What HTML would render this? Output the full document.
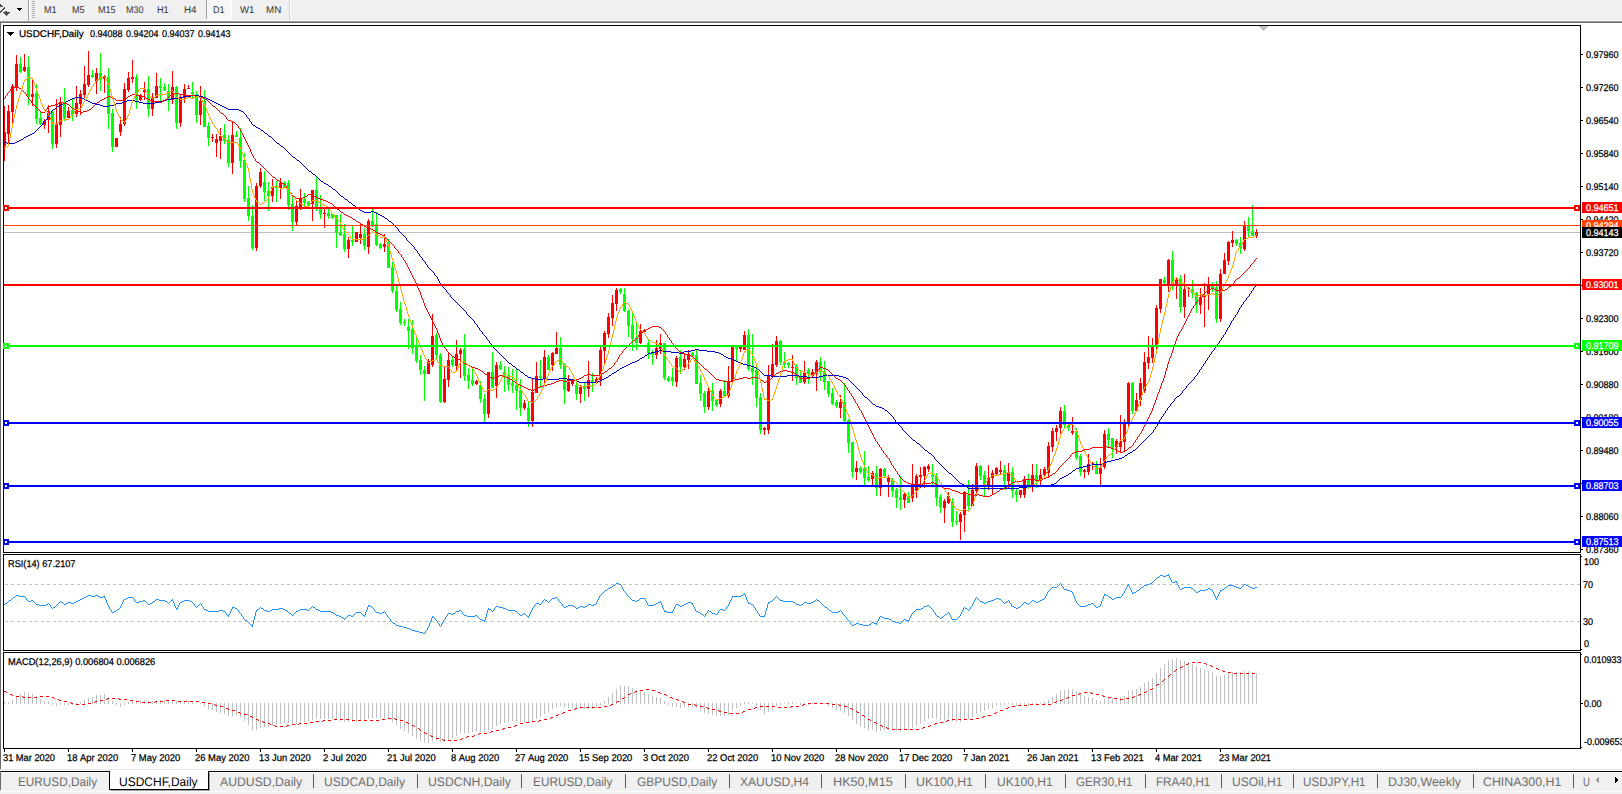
<!DOCTYPE html>
<html><head><meta charset="utf-8"><title>USDCHF,Daily</title>
<style>
html,body{margin:0;padding:0;background:#fff;text-rendering:geometricPrecision;overflow:hidden;}
body{width:1622px;height:794px;overflow:hidden;position:relative;font-family:"Liberation Sans",sans-serif;}
svg{position:absolute;left:0;top:0;}
.t{position:absolute;white-space:nowrap;line-height:1;height:1em;transform-origin:0 0;-webkit-text-stroke:0.25px currentColor;}
.tag{position:absolute;left:1582px;width:40px;}
</style></head><body>
<svg width="1622" height="794" viewBox="0 0 1622 794" shape-rendering="crispEdges">
<rect x="0" y="0" width="1622" height="21" fill="#f0f0f0"/>
<rect x="0" y="21" width="1622" height="1" fill="#a0a0a0"/>
<rect x="0" y="22" width="1622" height="1" fill="#696969"/>
<rect x="0" y="23" width="1" height="746" fill="#696969"/>
<rect x="4" y="232" width="1576" height="1" fill="#c0c0c0"/>
<rect x="4" y="106" width="1" height="55" fill="#ff0000"/>
<rect x="3" y="132" width="3" height="14" fill="#ff0000"/>
<rect x="8" y="105" width="1" height="41" fill="#ff0000"/>
<rect x="7" y="111" width="3" height="23" fill="#ff0000"/>
<rect x="12" y="84" width="1" height="41" fill="#ff0000"/>
<rect x="11" y="86" width="3" height="26" fill="#ff0000"/>
<rect x="16" y="55" width="1" height="36" fill="#ff0000"/>
<rect x="15" y="64" width="3" height="23" fill="#ff0000"/>
<rect x="20" y="57" width="1" height="16" fill="#00ff00"/>
<rect x="19" y="64" width="3" height="8" fill="#00ff00"/>
<rect x="24" y="54" width="1" height="18" fill="#ff0000"/>
<rect x="23" y="67" width="3" height="4" fill="#ff0000"/>
<rect x="28" y="56" width="1" height="49" fill="#00ff00"/>
<rect x="27" y="67" width="3" height="30" fill="#00ff00"/>
<rect x="32" y="79" width="1" height="27" fill="#ff0000"/>
<rect x="31" y="94" width="3" height="3" fill="#ff0000"/>
<rect x="36" y="84" width="1" height="40" fill="#00ff00"/>
<rect x="35" y="93" width="3" height="26" fill="#00ff00"/>
<rect x="40" y="112" width="1" height="13" fill="#00ff00"/>
<rect x="39" y="118" width="3" height="6" fill="#00ff00"/>
<rect x="44" y="119" width="1" height="10" fill="#ff0000"/>
<rect x="43" y="121" width="3" height="4" fill="#ff0000"/>
<rect x="48" y="105" width="1" height="28" fill="#ff0000"/>
<rect x="47" y="111" width="3" height="9" fill="#ff0000"/>
<rect x="52" y="110" width="1" height="39" fill="#00ff00"/>
<rect x="51" y="112" width="3" height="32" fill="#00ff00"/>
<rect x="56" y="99" width="1" height="49" fill="#ff0000"/>
<rect x="55" y="124" width="3" height="20" fill="#ff0000"/>
<rect x="60" y="97" width="1" height="40" fill="#ff0000"/>
<rect x="59" y="102" width="3" height="23" fill="#ff0000"/>
<rect x="64" y="88" width="1" height="33" fill="#00ff00"/>
<rect x="63" y="102" width="3" height="16" fill="#00ff00"/>
<rect x="68" y="107" width="1" height="11" fill="#ff0000"/>
<rect x="67" y="111" width="3" height="7" fill="#ff0000"/>
<rect x="72" y="99" width="1" height="22" fill="#00ff00"/>
<rect x="71" y="110" width="3" height="5" fill="#00ff00"/>
<rect x="76" y="86" width="1" height="31" fill="#ff0000"/>
<rect x="75" y="103" width="3" height="11" fill="#ff0000"/>
<rect x="80" y="90" width="1" height="25" fill="#ff0000"/>
<rect x="79" y="94" width="3" height="10" fill="#ff0000"/>
<rect x="84" y="66" width="1" height="32" fill="#ff0000"/>
<rect x="83" y="84" width="3" height="11" fill="#ff0000"/>
<rect x="88" y="51" width="1" height="36" fill="#ff0000"/>
<rect x="87" y="75" width="3" height="10" fill="#ff0000"/>
<rect x="92" y="70" width="1" height="8" fill="#00ff00"/>
<rect x="91" y="75" width="3" height="2" fill="#00ff00"/>
<rect x="96" y="68" width="1" height="26" fill="#ff0000"/>
<rect x="95" y="73" width="3" height="8" fill="#ff0000"/>
<rect x="100" y="53" width="1" height="38" fill="#00ff00"/>
<rect x="99" y="73" width="3" height="7" fill="#00ff00"/>
<rect x="104" y="75" width="1" height="18" fill="#ff0000"/>
<rect x="103" y="76" width="3" height="3" fill="#ff0000"/>
<rect x="108" y="68" width="1" height="61" fill="#00ff00"/>
<rect x="107" y="77" width="3" height="37" fill="#00ff00"/>
<rect x="112" y="109" width="1" height="43" fill="#00ff00"/>
<rect x="111" y="113" width="3" height="34" fill="#00ff00"/>
<rect x="116" y="138" width="1" height="9" fill="#ff0000"/>
<rect x="115" y="138" width="3" height="9" fill="#ff0000"/>
<rect x="120" y="117" width="1" height="19" fill="#ff0000"/>
<rect x="119" y="124" width="3" height="8" fill="#ff0000"/>
<rect x="124" y="83" width="1" height="43" fill="#ff0000"/>
<rect x="123" y="89" width="3" height="35" fill="#ff0000"/>
<rect x="128" y="72" width="1" height="20" fill="#ff0000"/>
<rect x="127" y="78" width="3" height="12" fill="#ff0000"/>
<rect x="132" y="60" width="1" height="23" fill="#ff0000"/>
<rect x="131" y="77" width="3" height="2" fill="#ff0000"/>
<rect x="136" y="74" width="1" height="35" fill="#00ff00"/>
<rect x="135" y="77" width="3" height="23" fill="#00ff00"/>
<rect x="140" y="94" width="1" height="7" fill="#ff0000"/>
<rect x="139" y="96" width="3" height="4" fill="#ff0000"/>
<rect x="144" y="82" width="1" height="18" fill="#ff0000"/>
<rect x="143" y="90" width="3" height="2" fill="#ff0000"/>
<rect x="148" y="76" width="1" height="41" fill="#00ff00"/>
<rect x="147" y="89" width="3" height="20" fill="#00ff00"/>
<rect x="152" y="93" width="1" height="23" fill="#ff0000"/>
<rect x="151" y="98" width="3" height="11" fill="#ff0000"/>
<rect x="156" y="73" width="1" height="25" fill="#ff0000"/>
<rect x="155" y="86" width="3" height="12" fill="#ff0000"/>
<rect x="160" y="78" width="1" height="25" fill="#00ff00"/>
<rect x="159" y="86" width="3" height="2" fill="#00ff00"/>
<rect x="164" y="83" width="1" height="8" fill="#00ff00"/>
<rect x="163" y="87" width="3" height="3" fill="#00ff00"/>
<rect x="168" y="84" width="1" height="27" fill="#00ff00"/>
<rect x="167" y="91" width="3" height="9" fill="#00ff00"/>
<rect x="172" y="71" width="1" height="33" fill="#ff0000"/>
<rect x="171" y="87" width="3" height="13" fill="#ff0000"/>
<rect x="176" y="86" width="1" height="43" fill="#00ff00"/>
<rect x="175" y="87" width="3" height="36" fill="#00ff00"/>
<rect x="180" y="94" width="1" height="33" fill="#ff0000"/>
<rect x="179" y="98" width="3" height="25" fill="#ff0000"/>
<rect x="184" y="84" width="1" height="19" fill="#ff0000"/>
<rect x="183" y="89" width="3" height="9" fill="#ff0000"/>
<rect x="188" y="85" width="1" height="4" fill="#ff0000"/>
<rect x="187" y="88" width="3" height="1" fill="#ff0000"/>
<rect x="192" y="82" width="1" height="16" fill="#00ff00"/>
<rect x="191" y="92" width="3" height="2" fill="#00ff00"/>
<rect x="196" y="91" width="1" height="32" fill="#00ff00"/>
<rect x="195" y="94" width="3" height="21" fill="#00ff00"/>
<rect x="200" y="86" width="1" height="39" fill="#ff0000"/>
<rect x="199" y="101" width="3" height="14" fill="#ff0000"/>
<rect x="204" y="90" width="1" height="37" fill="#00ff00"/>
<rect x="203" y="101" width="3" height="26" fill="#00ff00"/>
<rect x="208" y="122" width="1" height="24" fill="#00ff00"/>
<rect x="207" y="126" width="3" height="12" fill="#00ff00"/>
<rect x="212" y="134" width="1" height="8" fill="#ff0000"/>
<rect x="211" y="137" width="3" height="1" fill="#ff0000"/>
<rect x="216" y="134" width="1" height="23" fill="#ff0000"/>
<rect x="215" y="139" width="3" height="4" fill="#ff0000"/>
<rect x="220" y="128" width="1" height="31" fill="#ff0000"/>
<rect x="219" y="136" width="3" height="5" fill="#ff0000"/>
<rect x="224" y="124" width="1" height="20" fill="#00ff00"/>
<rect x="223" y="135" width="3" height="6" fill="#00ff00"/>
<rect x="228" y="135" width="1" height="32" fill="#00ff00"/>
<rect x="227" y="140" width="3" height="23" fill="#00ff00"/>
<rect x="232" y="122" width="1" height="52" fill="#ff0000"/>
<rect x="231" y="135" width="3" height="28" fill="#ff0000"/>
<rect x="236" y="131" width="1" height="6" fill="#00ff00"/>
<rect x="235" y="135" width="3" height="2" fill="#00ff00"/>
<rect x="240" y="128" width="1" height="40" fill="#00ff00"/>
<rect x="239" y="138" width="3" height="23" fill="#00ff00"/>
<rect x="244" y="153" width="1" height="49" fill="#00ff00"/>
<rect x="243" y="160" width="3" height="39" fill="#00ff00"/>
<rect x="248" y="186" width="1" height="35" fill="#00ff00"/>
<rect x="247" y="198" width="3" height="18" fill="#00ff00"/>
<rect x="252" y="205" width="1" height="45" fill="#00ff00"/>
<rect x="251" y="216" width="3" height="32" fill="#00ff00"/>
<rect x="256" y="183" width="1" height="68" fill="#ff0000"/>
<rect x="255" y="186" width="3" height="62" fill="#ff0000"/>
<rect x="260" y="168" width="1" height="20" fill="#ff0000"/>
<rect x="259" y="172" width="3" height="14" fill="#ff0000"/>
<rect x="264" y="171" width="1" height="30" fill="#00ff00"/>
<rect x="263" y="182" width="3" height="10" fill="#00ff00"/>
<rect x="268" y="182" width="1" height="29" fill="#00ff00"/>
<rect x="267" y="191" width="3" height="5" fill="#00ff00"/>
<rect x="272" y="179" width="1" height="23" fill="#ff0000"/>
<rect x="271" y="187" width="3" height="9" fill="#ff0000"/>
<rect x="276" y="181" width="1" height="21" fill="#00ff00"/>
<rect x="275" y="186" width="3" height="2" fill="#00ff00"/>
<rect x="280" y="178" width="1" height="21" fill="#ff0000"/>
<rect x="279" y="183" width="3" height="5" fill="#ff0000"/>
<rect x="284" y="181" width="1" height="6" fill="#00ff00"/>
<rect x="283" y="183" width="3" height="4" fill="#00ff00"/>
<rect x="288" y="180" width="1" height="30" fill="#00ff00"/>
<rect x="287" y="183" width="3" height="22" fill="#00ff00"/>
<rect x="292" y="197" width="1" height="34" fill="#00ff00"/>
<rect x="291" y="204" width="3" height="18" fill="#00ff00"/>
<rect x="296" y="201" width="1" height="24" fill="#ff0000"/>
<rect x="295" y="206" width="3" height="16" fill="#ff0000"/>
<rect x="300" y="189" width="1" height="21" fill="#ff0000"/>
<rect x="299" y="198" width="3" height="9" fill="#ff0000"/>
<rect x="304" y="193" width="1" height="13" fill="#00ff00"/>
<rect x="303" y="199" width="3" height="4" fill="#00ff00"/>
<rect x="308" y="201" width="1" height="5" fill="#00ff00"/>
<rect x="307" y="202" width="3" height="3" fill="#00ff00"/>
<rect x="312" y="190" width="1" height="31" fill="#ff0000"/>
<rect x="311" y="190" width="3" height="14" fill="#ff0000"/>
<rect x="316" y="177" width="1" height="34" fill="#00ff00"/>
<rect x="315" y="190" width="3" height="17" fill="#00ff00"/>
<rect x="320" y="195" width="1" height="24" fill="#00ff00"/>
<rect x="319" y="208" width="3" height="6" fill="#00ff00"/>
<rect x="324" y="208" width="1" height="20" fill="#ff0000"/>
<rect x="323" y="213" width="3" height="1" fill="#ff0000"/>
<rect x="328" y="209" width="1" height="10" fill="#00ff00"/>
<rect x="327" y="213" width="3" height="3" fill="#00ff00"/>
<rect x="332" y="213" width="1" height="6" fill="#00ff00"/>
<rect x="331" y="214" width="3" height="4" fill="#00ff00"/>
<rect x="336" y="215" width="1" height="33" fill="#00ff00"/>
<rect x="335" y="215" width="3" height="18" fill="#00ff00"/>
<rect x="340" y="214" width="1" height="22" fill="#00ff00"/>
<rect x="339" y="232" width="3" height="3" fill="#00ff00"/>
<rect x="344" y="224" width="1" height="28" fill="#00ff00"/>
<rect x="343" y="234" width="3" height="15" fill="#00ff00"/>
<rect x="348" y="237" width="1" height="21" fill="#ff0000"/>
<rect x="347" y="240" width="3" height="9" fill="#ff0000"/>
<rect x="352" y="225" width="1" height="21" fill="#00ff00"/>
<rect x="351" y="240" width="3" height="2" fill="#00ff00"/>
<rect x="356" y="232" width="1" height="10" fill="#ff0000"/>
<rect x="355" y="232" width="3" height="10" fill="#ff0000"/>
<rect x="360" y="223" width="1" height="21" fill="#ff0000"/>
<rect x="359" y="234" width="3" height="4" fill="#ff0000"/>
<rect x="364" y="228" width="1" height="22" fill="#00ff00"/>
<rect x="363" y="234" width="3" height="12" fill="#00ff00"/>
<rect x="368" y="219" width="1" height="35" fill="#ff0000"/>
<rect x="367" y="221" width="3" height="26" fill="#ff0000"/>
<rect x="372" y="209" width="1" height="18" fill="#00ff00"/>
<rect x="371" y="221" width="3" height="5" fill="#00ff00"/>
<rect x="376" y="212" width="1" height="34" fill="#00ff00"/>
<rect x="375" y="224" width="3" height="21" fill="#00ff00"/>
<rect x="380" y="243" width="1" height="6" fill="#00ff00"/>
<rect x="379" y="244" width="3" height="4" fill="#00ff00"/>
<rect x="384" y="234" width="1" height="18" fill="#ff0000"/>
<rect x="383" y="244" width="3" height="3" fill="#ff0000"/>
<rect x="388" y="239" width="1" height="29" fill="#00ff00"/>
<rect x="387" y="243" width="3" height="25" fill="#00ff00"/>
<rect x="392" y="262" width="1" height="31" fill="#00ff00"/>
<rect x="391" y="267" width="3" height="24" fill="#00ff00"/>
<rect x="396" y="286" width="1" height="26" fill="#00ff00"/>
<rect x="395" y="291" width="3" height="19" fill="#00ff00"/>
<rect x="400" y="302" width="1" height="23" fill="#00ff00"/>
<rect x="399" y="309" width="3" height="14" fill="#00ff00"/>
<rect x="404" y="319" width="1" height="7" fill="#00ff00"/>
<rect x="403" y="322" width="3" height="1" fill="#00ff00"/>
<rect x="408" y="319" width="1" height="30" fill="#00ff00"/>
<rect x="407" y="327" width="3" height="4" fill="#00ff00"/>
<rect x="412" y="320" width="1" height="34" fill="#00ff00"/>
<rect x="411" y="329" width="3" height="19" fill="#00ff00"/>
<rect x="416" y="338" width="1" height="25" fill="#00ff00"/>
<rect x="415" y="347" width="3" height="14" fill="#00ff00"/>
<rect x="420" y="355" width="1" height="20" fill="#00ff00"/>
<rect x="419" y="360" width="3" height="10" fill="#00ff00"/>
<rect x="424" y="366" width="1" height="35" fill="#00ff00"/>
<rect x="423" y="370" width="3" height="4" fill="#00ff00"/>
<rect x="428" y="359" width="1" height="15" fill="#ff0000"/>
<rect x="427" y="361" width="3" height="13" fill="#ff0000"/>
<rect x="432" y="314" width="1" height="53" fill="#ff0000"/>
<rect x="431" y="336" width="3" height="29" fill="#ff0000"/>
<rect x="436" y="333" width="1" height="26" fill="#00ff00"/>
<rect x="435" y="335" width="3" height="20" fill="#00ff00"/>
<rect x="440" y="353" width="1" height="50" fill="#00ff00"/>
<rect x="439" y="355" width="3" height="47" fill="#00ff00"/>
<rect x="444" y="367" width="1" height="36" fill="#ff0000"/>
<rect x="443" y="379" width="3" height="23" fill="#ff0000"/>
<rect x="448" y="353" width="1" height="34" fill="#ff0000"/>
<rect x="447" y="360" width="3" height="20" fill="#ff0000"/>
<rect x="452" y="357" width="1" height="10" fill="#00ff00"/>
<rect x="451" y="360" width="3" height="5" fill="#00ff00"/>
<rect x="456" y="340" width="1" height="30" fill="#ff0000"/>
<rect x="455" y="354" width="3" height="12" fill="#ff0000"/>
<rect x="460" y="348" width="1" height="30" fill="#ff0000"/>
<rect x="459" y="350" width="3" height="4" fill="#ff0000"/>
<rect x="464" y="334" width="1" height="47" fill="#00ff00"/>
<rect x="463" y="349" width="3" height="27" fill="#00ff00"/>
<rect x="468" y="368" width="1" height="21" fill="#00ff00"/>
<rect x="467" y="375" width="3" height="6" fill="#00ff00"/>
<rect x="472" y="369" width="1" height="17" fill="#00ff00"/>
<rect x="471" y="380" width="3" height="4" fill="#00ff00"/>
<rect x="476" y="380" width="1" height="5" fill="#ff0000"/>
<rect x="475" y="381" width="3" height="3" fill="#ff0000"/>
<rect x="480" y="381" width="1" height="22" fill="#00ff00"/>
<rect x="479" y="385" width="3" height="14" fill="#00ff00"/>
<rect x="484" y="394" width="1" height="28" fill="#00ff00"/>
<rect x="483" y="399" width="3" height="15" fill="#00ff00"/>
<rect x="488" y="372" width="1" height="46" fill="#ff0000"/>
<rect x="487" y="372" width="3" height="42" fill="#ff0000"/>
<rect x="492" y="352" width="1" height="36" fill="#00ff00"/>
<rect x="491" y="372" width="3" height="16" fill="#00ff00"/>
<rect x="496" y="362" width="1" height="36" fill="#ff0000"/>
<rect x="495" y="365" width="3" height="21" fill="#ff0000"/>
<rect x="500" y="361" width="1" height="9" fill="#00ff00"/>
<rect x="499" y="365" width="3" height="4" fill="#00ff00"/>
<rect x="504" y="366" width="1" height="26" fill="#00ff00"/>
<rect x="503" y="372" width="3" height="3" fill="#00ff00"/>
<rect x="508" y="367" width="1" height="24" fill="#00ff00"/>
<rect x="507" y="375" width="3" height="10" fill="#00ff00"/>
<rect x="512" y="369" width="1" height="24" fill="#00ff00"/>
<rect x="511" y="383" width="3" height="3" fill="#00ff00"/>
<rect x="516" y="369" width="1" height="41" fill="#00ff00"/>
<rect x="515" y="385" width="3" height="6" fill="#00ff00"/>
<rect x="520" y="379" width="1" height="37" fill="#00ff00"/>
<rect x="519" y="390" width="3" height="18" fill="#00ff00"/>
<rect x="524" y="400" width="1" height="10" fill="#ff0000"/>
<rect x="523" y="403" width="3" height="5" fill="#ff0000"/>
<rect x="528" y="401" width="1" height="26" fill="#00ff00"/>
<rect x="527" y="408" width="3" height="13" fill="#00ff00"/>
<rect x="532" y="379" width="1" height="48" fill="#ff0000"/>
<rect x="531" y="392" width="3" height="29" fill="#ff0000"/>
<rect x="536" y="362" width="1" height="31" fill="#ff0000"/>
<rect x="535" y="376" width="3" height="17" fill="#ff0000"/>
<rect x="540" y="360" width="1" height="28" fill="#00ff00"/>
<rect x="539" y="376" width="3" height="2" fill="#00ff00"/>
<rect x="544" y="350" width="1" height="35" fill="#ff0000"/>
<rect x="543" y="357" width="3" height="21" fill="#ff0000"/>
<rect x="548" y="355" width="1" height="15" fill="#00ff00"/>
<rect x="547" y="357" width="3" height="13" fill="#00ff00"/>
<rect x="552" y="352" width="1" height="19" fill="#ff0000"/>
<rect x="551" y="353" width="3" height="12" fill="#ff0000"/>
<rect x="556" y="332" width="1" height="22" fill="#ff0000"/>
<rect x="555" y="348" width="3" height="6" fill="#ff0000"/>
<rect x="560" y="337" width="1" height="32" fill="#00ff00"/>
<rect x="559" y="348" width="3" height="17" fill="#00ff00"/>
<rect x="564" y="363" width="1" height="41" fill="#00ff00"/>
<rect x="563" y="365" width="3" height="25" fill="#00ff00"/>
<rect x="568" y="375" width="1" height="17" fill="#ff0000"/>
<rect x="567" y="382" width="3" height="9" fill="#ff0000"/>
<rect x="572" y="379" width="1" height="7" fill="#ff0000"/>
<rect x="571" y="380" width="3" height="4" fill="#ff0000"/>
<rect x="576" y="380" width="1" height="20" fill="#00ff00"/>
<rect x="575" y="385" width="3" height="9" fill="#00ff00"/>
<rect x="580" y="385" width="1" height="18" fill="#ff0000"/>
<rect x="579" y="387" width="3" height="7" fill="#ff0000"/>
<rect x="584" y="382" width="1" height="19" fill="#00ff00"/>
<rect x="583" y="387" width="3" height="2" fill="#00ff00"/>
<rect x="588" y="361" width="1" height="36" fill="#ff0000"/>
<rect x="587" y="380" width="3" height="9" fill="#ff0000"/>
<rect x="592" y="373" width="1" height="19" fill="#00ff00"/>
<rect x="591" y="380" width="3" height="3" fill="#00ff00"/>
<rect x="596" y="377" width="1" height="6" fill="#ff0000"/>
<rect x="595" y="379" width="3" height="3" fill="#ff0000"/>
<rect x="600" y="347" width="1" height="39" fill="#ff0000"/>
<rect x="599" y="350" width="3" height="30" fill="#ff0000"/>
<rect x="604" y="331" width="1" height="32" fill="#ff0000"/>
<rect x="603" y="333" width="3" height="18" fill="#ff0000"/>
<rect x="608" y="313" width="1" height="25" fill="#ff0000"/>
<rect x="607" y="317" width="3" height="17" fill="#ff0000"/>
<rect x="612" y="295" width="1" height="31" fill="#ff0000"/>
<rect x="611" y="303" width="3" height="15" fill="#ff0000"/>
<rect x="616" y="288" width="1" height="23" fill="#ff0000"/>
<rect x="615" y="290" width="3" height="14" fill="#ff0000"/>
<rect x="620" y="288" width="1" height="6" fill="#00ff00"/>
<rect x="619" y="289" width="3" height="3" fill="#00ff00"/>
<rect x="624" y="288" width="1" height="24" fill="#00ff00"/>
<rect x="623" y="294" width="3" height="17" fill="#00ff00"/>
<rect x="628" y="309" width="1" height="28" fill="#00ff00"/>
<rect x="627" y="311" width="3" height="15" fill="#00ff00"/>
<rect x="632" y="311" width="1" height="40" fill="#00ff00"/>
<rect x="631" y="325" width="3" height="14" fill="#00ff00"/>
<rect x="636" y="323" width="1" height="27" fill="#00ff00"/>
<rect x="635" y="338" width="3" height="5" fill="#00ff00"/>
<rect x="640" y="324" width="1" height="20" fill="#ff0000"/>
<rect x="639" y="331" width="3" height="12" fill="#ff0000"/>
<rect x="644" y="329" width="1" height="3" fill="#ff0000"/>
<rect x="643" y="330" width="3" height="2" fill="#ff0000"/>
<rect x="648" y="339" width="1" height="20" fill="#00ff00"/>
<rect x="647" y="343" width="3" height="10" fill="#00ff00"/>
<rect x="652" y="350" width="1" height="15" fill="#00ff00"/>
<rect x="651" y="353" width="3" height="2" fill="#00ff00"/>
<rect x="656" y="340" width="1" height="19" fill="#ff0000"/>
<rect x="655" y="348" width="3" height="7" fill="#ff0000"/>
<rect x="660" y="334" width="1" height="20" fill="#ff0000"/>
<rect x="659" y="343" width="3" height="6" fill="#ff0000"/>
<rect x="664" y="343" width="1" height="37" fill="#00ff00"/>
<rect x="663" y="343" width="3" height="35" fill="#00ff00"/>
<rect x="668" y="376" width="1" height="6" fill="#00ff00"/>
<rect x="667" y="378" width="3" height="3" fill="#00ff00"/>
<rect x="672" y="368" width="1" height="18" fill="#00ff00"/>
<rect x="671" y="377" width="3" height="4" fill="#00ff00"/>
<rect x="676" y="356" width="1" height="31" fill="#ff0000"/>
<rect x="675" y="358" width="3" height="24" fill="#ff0000"/>
<rect x="680" y="350" width="1" height="24" fill="#00ff00"/>
<rect x="679" y="357" width="3" height="10" fill="#00ff00"/>
<rect x="684" y="353" width="1" height="17" fill="#ff0000"/>
<rect x="683" y="359" width="3" height="8" fill="#ff0000"/>
<rect x="688" y="350" width="1" height="19" fill="#ff0000"/>
<rect x="687" y="354" width="3" height="6" fill="#ff0000"/>
<rect x="692" y="352" width="1" height="5" fill="#00ff00"/>
<rect x="691" y="353" width="3" height="3" fill="#00ff00"/>
<rect x="696" y="349" width="1" height="35" fill="#00ff00"/>
<rect x="695" y="355" width="3" height="29" fill="#00ff00"/>
<rect x="700" y="375" width="1" height="26" fill="#00ff00"/>
<rect x="699" y="383" width="3" height="11" fill="#00ff00"/>
<rect x="704" y="391" width="1" height="22" fill="#00ff00"/>
<rect x="703" y="393" width="3" height="14" fill="#00ff00"/>
<rect x="708" y="388" width="1" height="22" fill="#ff0000"/>
<rect x="707" y="391" width="3" height="16" fill="#ff0000"/>
<rect x="712" y="383" width="1" height="28" fill="#00ff00"/>
<rect x="711" y="391" width="3" height="10" fill="#00ff00"/>
<rect x="716" y="399" width="1" height="8" fill="#00ff00"/>
<rect x="715" y="400" width="3" height="5" fill="#00ff00"/>
<rect x="720" y="389" width="1" height="18" fill="#ff0000"/>
<rect x="719" y="391" width="3" height="13" fill="#ff0000"/>
<rect x="724" y="380" width="1" height="16" fill="#00ff00"/>
<rect x="723" y="391" width="3" height="5" fill="#00ff00"/>
<rect x="728" y="366" width="1" height="32" fill="#ff0000"/>
<rect x="727" y="381" width="3" height="15" fill="#ff0000"/>
<rect x="732" y="347" width="1" height="35" fill="#ff0000"/>
<rect x="731" y="347" width="3" height="35" fill="#ff0000"/>
<rect x="736" y="347" width="1" height="14" fill="#00ff00"/>
<rect x="735" y="347" width="3" height="2" fill="#00ff00"/>
<rect x="740" y="347" width="1" height="5" fill="#ff0000"/>
<rect x="739" y="347" width="3" height="2" fill="#ff0000"/>
<rect x="744" y="331" width="1" height="19" fill="#ff0000"/>
<rect x="743" y="335" width="3" height="15" fill="#ff0000"/>
<rect x="748" y="329" width="1" height="42" fill="#00ff00"/>
<rect x="747" y="335" width="3" height="34" fill="#00ff00"/>
<rect x="752" y="334" width="1" height="51" fill="#00ff00"/>
<rect x="751" y="368" width="3" height="4" fill="#00ff00"/>
<rect x="756" y="363" width="1" height="44" fill="#00ff00"/>
<rect x="755" y="370" width="3" height="28" fill="#00ff00"/>
<rect x="760" y="393" width="1" height="41" fill="#00ff00"/>
<rect x="759" y="397" width="3" height="33" fill="#00ff00"/>
<rect x="764" y="427" width="1" height="8" fill="#ff0000"/>
<rect x="763" y="428" width="3" height="2" fill="#ff0000"/>
<rect x="768" y="365" width="1" height="69" fill="#ff0000"/>
<rect x="767" y="376" width="3" height="54" fill="#ff0000"/>
<rect x="772" y="344" width="1" height="33" fill="#ff0000"/>
<rect x="771" y="364" width="3" height="12" fill="#ff0000"/>
<rect x="776" y="336" width="1" height="31" fill="#ff0000"/>
<rect x="775" y="341" width="3" height="24" fill="#ff0000"/>
<rect x="780" y="340" width="1" height="25" fill="#00ff00"/>
<rect x="779" y="341" width="3" height="21" fill="#00ff00"/>
<rect x="784" y="352" width="1" height="16" fill="#00ff00"/>
<rect x="783" y="362" width="3" height="2" fill="#00ff00"/>
<rect x="788" y="362" width="1" height="6" fill="#00ff00"/>
<rect x="787" y="363" width="3" height="2" fill="#00ff00"/>
<rect x="792" y="355" width="1" height="26" fill="#ff0000"/>
<rect x="791" y="367" width="3" height="1" fill="#ff0000"/>
<rect x="796" y="364" width="1" height="21" fill="#00ff00"/>
<rect x="795" y="367" width="3" height="11" fill="#00ff00"/>
<rect x="800" y="370" width="1" height="13" fill="#00ff00"/>
<rect x="799" y="377" width="3" height="6" fill="#00ff00"/>
<rect x="804" y="361" width="1" height="23" fill="#ff0000"/>
<rect x="803" y="372" width="3" height="10" fill="#ff0000"/>
<rect x="808" y="368" width="1" height="16" fill="#00ff00"/>
<rect x="807" y="370" width="3" height="4" fill="#00ff00"/>
<rect x="812" y="369" width="1" height="7" fill="#ff0000"/>
<rect x="811" y="372" width="3" height="3" fill="#ff0000"/>
<rect x="816" y="360" width="1" height="31" fill="#ff0000"/>
<rect x="815" y="362" width="3" height="12" fill="#ff0000"/>
<rect x="820" y="357" width="1" height="24" fill="#00ff00"/>
<rect x="819" y="362" width="3" height="10" fill="#00ff00"/>
<rect x="824" y="361" width="1" height="29" fill="#00ff00"/>
<rect x="823" y="372" width="3" height="10" fill="#00ff00"/>
<rect x="828" y="381" width="1" height="16" fill="#00ff00"/>
<rect x="827" y="381" width="3" height="13" fill="#00ff00"/>
<rect x="832" y="388" width="1" height="17" fill="#00ff00"/>
<rect x="831" y="393" width="3" height="11" fill="#00ff00"/>
<rect x="836" y="400" width="1" height="8" fill="#00ff00"/>
<rect x="835" y="402" width="3" height="4" fill="#00ff00"/>
<rect x="840" y="395" width="1" height="23" fill="#ff0000"/>
<rect x="839" y="402" width="3" height="6" fill="#ff0000"/>
<rect x="844" y="383" width="1" height="39" fill="#00ff00"/>
<rect x="843" y="402" width="3" height="19" fill="#00ff00"/>
<rect x="848" y="419" width="1" height="34" fill="#00ff00"/>
<rect x="847" y="420" width="3" height="23" fill="#00ff00"/>
<rect x="852" y="442" width="1" height="36" fill="#00ff00"/>
<rect x="851" y="442" width="3" height="30" fill="#00ff00"/>
<rect x="856" y="461" width="1" height="19" fill="#ff0000"/>
<rect x="855" y="468" width="3" height="4" fill="#ff0000"/>
<rect x="860" y="466" width="1" height="8" fill="#00ff00"/>
<rect x="859" y="468" width="3" height="4" fill="#00ff00"/>
<rect x="864" y="451" width="1" height="34" fill="#00ff00"/>
<rect x="863" y="468" width="3" height="10" fill="#00ff00"/>
<rect x="868" y="466" width="1" height="16" fill="#00ff00"/>
<rect x="867" y="477" width="3" height="3" fill="#00ff00"/>
<rect x="872" y="471" width="1" height="14" fill="#ff0000"/>
<rect x="871" y="473" width="3" height="6" fill="#ff0000"/>
<rect x="876" y="466" width="1" height="30" fill="#00ff00"/>
<rect x="875" y="473" width="3" height="15" fill="#00ff00"/>
<rect x="880" y="468" width="1" height="28" fill="#ff0000"/>
<rect x="879" y="469" width="3" height="19" fill="#ff0000"/>
<rect x="884" y="468" width="1" height="9" fill="#00ff00"/>
<rect x="883" y="469" width="3" height="7" fill="#00ff00"/>
<rect x="888" y="475" width="1" height="22" fill="#ff0000"/>
<rect x="887" y="478" width="3" height="4" fill="#ff0000"/>
<rect x="892" y="478" width="1" height="19" fill="#00ff00"/>
<rect x="891" y="480" width="3" height="11" fill="#00ff00"/>
<rect x="896" y="488" width="1" height="20" fill="#00ff00"/>
<rect x="895" y="490" width="3" height="8" fill="#00ff00"/>
<rect x="900" y="476" width="1" height="34" fill="#00ff00"/>
<rect x="899" y="497" width="3" height="3" fill="#00ff00"/>
<rect x="904" y="492" width="1" height="16" fill="#ff0000"/>
<rect x="903" y="494" width="3" height="6" fill="#ff0000"/>
<rect x="908" y="492" width="1" height="11" fill="#00ff00"/>
<rect x="907" y="496" width="3" height="7" fill="#00ff00"/>
<rect x="912" y="464" width="1" height="38" fill="#ff0000"/>
<rect x="911" y="484" width="3" height="14" fill="#ff0000"/>
<rect x="916" y="474" width="1" height="24" fill="#ff0000"/>
<rect x="915" y="476" width="3" height="15" fill="#ff0000"/>
<rect x="920" y="467" width="1" height="21" fill="#ff0000"/>
<rect x="919" y="475" width="3" height="2" fill="#ff0000"/>
<rect x="924" y="466" width="1" height="22" fill="#ff0000"/>
<rect x="923" y="467" width="3" height="9" fill="#ff0000"/>
<rect x="928" y="464" width="1" height="8" fill="#ff0000"/>
<rect x="927" y="466" width="3" height="3" fill="#ff0000"/>
<rect x="932" y="464" width="1" height="21" fill="#00ff00"/>
<rect x="931" y="475" width="3" height="2" fill="#00ff00"/>
<rect x="936" y="473" width="1" height="33" fill="#00ff00"/>
<rect x="935" y="476" width="3" height="22" fill="#00ff00"/>
<rect x="940" y="494" width="1" height="19" fill="#00ff00"/>
<rect x="939" y="497" width="3" height="10" fill="#00ff00"/>
<rect x="944" y="499" width="1" height="24" fill="#ff0000"/>
<rect x="943" y="501" width="3" height="7" fill="#ff0000"/>
<rect x="948" y="492" width="1" height="12" fill="#ff0000"/>
<rect x="947" y="496" width="3" height="7" fill="#ff0000"/>
<rect x="952" y="498" width="1" height="29" fill="#00ff00"/>
<rect x="951" y="502" width="3" height="20" fill="#00ff00"/>
<rect x="956" y="511" width="1" height="14" fill="#00ff00"/>
<rect x="955" y="521" width="3" height="1" fill="#00ff00"/>
<rect x="960" y="512" width="1" height="28" fill="#ff0000"/>
<rect x="959" y="514" width="3" height="8" fill="#ff0000"/>
<rect x="964" y="491" width="1" height="41" fill="#ff0000"/>
<rect x="963" y="493" width="3" height="22" fill="#ff0000"/>
<rect x="968" y="480" width="1" height="30" fill="#00ff00"/>
<rect x="967" y="495" width="3" height="11" fill="#00ff00"/>
<rect x="972" y="484" width="1" height="22" fill="#ff0000"/>
<rect x="971" y="490" width="3" height="16" fill="#ff0000"/>
<rect x="976" y="463" width="1" height="33" fill="#ff0000"/>
<rect x="975" y="466" width="3" height="25" fill="#ff0000"/>
<rect x="980" y="465" width="1" height="15" fill="#00ff00"/>
<rect x="979" y="466" width="3" height="10" fill="#00ff00"/>
<rect x="984" y="471" width="1" height="25" fill="#00ff00"/>
<rect x="983" y="475" width="3" height="10" fill="#00ff00"/>
<rect x="988" y="465" width="1" height="25" fill="#ff0000"/>
<rect x="987" y="478" width="3" height="7" fill="#ff0000"/>
<rect x="992" y="470" width="1" height="24" fill="#ff0000"/>
<rect x="991" y="473" width="3" height="5" fill="#ff0000"/>
<rect x="996" y="467" width="1" height="8" fill="#ff0000"/>
<rect x="995" y="468" width="3" height="6" fill="#ff0000"/>
<rect x="1000" y="461" width="1" height="13" fill="#ff0000"/>
<rect x="999" y="470" width="3" height="2" fill="#ff0000"/>
<rect x="1004" y="465" width="1" height="25" fill="#00ff00"/>
<rect x="1003" y="470" width="3" height="11" fill="#00ff00"/>
<rect x="1008" y="463" width="1" height="25" fill="#ff0000"/>
<rect x="1007" y="472" width="3" height="9" fill="#ff0000"/>
<rect x="1012" y="467" width="1" height="31" fill="#00ff00"/>
<rect x="1011" y="472" width="3" height="19" fill="#00ff00"/>
<rect x="1016" y="489" width="1" height="13" fill="#00ff00"/>
<rect x="1015" y="491" width="3" height="4" fill="#00ff00"/>
<rect x="1020" y="490" width="1" height="8" fill="#ff0000"/>
<rect x="1019" y="490" width="3" height="5" fill="#ff0000"/>
<rect x="1024" y="476" width="1" height="22" fill="#ff0000"/>
<rect x="1023" y="479" width="3" height="16" fill="#ff0000"/>
<rect x="1028" y="474" width="1" height="15" fill="#00ff00"/>
<rect x="1027" y="479" width="3" height="6" fill="#00ff00"/>
<rect x="1032" y="464" width="1" height="28" fill="#ff0000"/>
<rect x="1031" y="475" width="3" height="11" fill="#ff0000"/>
<rect x="1036" y="464" width="1" height="24" fill="#00ff00"/>
<rect x="1035" y="475" width="3" height="6" fill="#00ff00"/>
<rect x="1040" y="469" width="1" height="16" fill="#ff0000"/>
<rect x="1039" y="475" width="3" height="6" fill="#ff0000"/>
<rect x="1044" y="467" width="1" height="9" fill="#ff0000"/>
<rect x="1043" y="469" width="3" height="6" fill="#ff0000"/>
<rect x="1048" y="442" width="1" height="36" fill="#ff0000"/>
<rect x="1047" y="446" width="3" height="27" fill="#ff0000"/>
<rect x="1052" y="428" width="1" height="24" fill="#ff0000"/>
<rect x="1051" y="431" width="3" height="16" fill="#ff0000"/>
<rect x="1056" y="425" width="1" height="16" fill="#ff0000"/>
<rect x="1055" y="428" width="3" height="4" fill="#ff0000"/>
<rect x="1060" y="407" width="1" height="27" fill="#ff0000"/>
<rect x="1059" y="411" width="3" height="17" fill="#ff0000"/>
<rect x="1064" y="405" width="1" height="23" fill="#00ff00"/>
<rect x="1063" y="411" width="3" height="14" fill="#00ff00"/>
<rect x="1068" y="425" width="1" height="6" fill="#00ff00"/>
<rect x="1067" y="425" width="3" height="3" fill="#00ff00"/>
<rect x="1072" y="417" width="1" height="18" fill="#ff0000"/>
<rect x="1071" y="431" width="3" height="2" fill="#ff0000"/>
<rect x="1076" y="428" width="1" height="32" fill="#00ff00"/>
<rect x="1075" y="431" width="3" height="27" fill="#00ff00"/>
<rect x="1080" y="454" width="1" height="22" fill="#00ff00"/>
<rect x="1079" y="456" width="3" height="16" fill="#00ff00"/>
<rect x="1084" y="469" width="1" height="9" fill="#ff0000"/>
<rect x="1083" y="470" width="3" height="2" fill="#ff0000"/>
<rect x="1088" y="454" width="1" height="21" fill="#ff0000"/>
<rect x="1087" y="464" width="3" height="8" fill="#ff0000"/>
<rect x="1092" y="462" width="1" height="8" fill="#ff0000"/>
<rect x="1091" y="463" width="3" height="2" fill="#ff0000"/>
<rect x="1096" y="461" width="1" height="13" fill="#00ff00"/>
<rect x="1095" y="465" width="3" height="9" fill="#00ff00"/>
<rect x="1100" y="458" width="1" height="27" fill="#ff0000"/>
<rect x="1099" y="468" width="3" height="6" fill="#ff0000"/>
<rect x="1104" y="430" width="1" height="39" fill="#ff0000"/>
<rect x="1103" y="434" width="3" height="33" fill="#ff0000"/>
<rect x="1108" y="428" width="1" height="19" fill="#00ff00"/>
<rect x="1107" y="434" width="3" height="6" fill="#00ff00"/>
<rect x="1112" y="438" width="1" height="20" fill="#00ff00"/>
<rect x="1111" y="438" width="3" height="11" fill="#00ff00"/>
<rect x="1116" y="439" width="1" height="15" fill="#ff0000"/>
<rect x="1115" y="441" width="3" height="6" fill="#ff0000"/>
<rect x="1120" y="415" width="1" height="38" fill="#ff0000"/>
<rect x="1119" y="441" width="3" height="6" fill="#ff0000"/>
<rect x="1124" y="419" width="1" height="33" fill="#ff0000"/>
<rect x="1123" y="423" width="3" height="19" fill="#ff0000"/>
<rect x="1128" y="382" width="1" height="44" fill="#ff0000"/>
<rect x="1127" y="383" width="3" height="41" fill="#ff0000"/>
<rect x="1132" y="382" width="1" height="32" fill="#00ff00"/>
<rect x="1131" y="383" width="3" height="28" fill="#00ff00"/>
<rect x="1136" y="393" width="1" height="18" fill="#ff0000"/>
<rect x="1135" y="400" width="3" height="11" fill="#ff0000"/>
<rect x="1140" y="378" width="1" height="28" fill="#ff0000"/>
<rect x="1139" y="383" width="3" height="17" fill="#ff0000"/>
<rect x="1144" y="352" width="1" height="41" fill="#ff0000"/>
<rect x="1143" y="362" width="3" height="29" fill="#ff0000"/>
<rect x="1148" y="336" width="1" height="33" fill="#ff0000"/>
<rect x="1147" y="357" width="3" height="6" fill="#ff0000"/>
<rect x="1152" y="338" width="1" height="25" fill="#ff0000"/>
<rect x="1151" y="347" width="3" height="11" fill="#ff0000"/>
<rect x="1156" y="305" width="1" height="44" fill="#ff0000"/>
<rect x="1155" y="308" width="3" height="38" fill="#ff0000"/>
<rect x="1160" y="279" width="1" height="34" fill="#ff0000"/>
<rect x="1159" y="279" width="3" height="30" fill="#ff0000"/>
<rect x="1164" y="277" width="1" height="7" fill="#00ff00"/>
<rect x="1163" y="280" width="3" height="3" fill="#00ff00"/>
<rect x="1168" y="259" width="1" height="33" fill="#ff0000"/>
<rect x="1167" y="260" width="3" height="25" fill="#ff0000"/>
<rect x="1172" y="251" width="1" height="39" fill="#00ff00"/>
<rect x="1171" y="260" width="3" height="24" fill="#00ff00"/>
<rect x="1176" y="277" width="1" height="22" fill="#ff0000"/>
<rect x="1175" y="280" width="3" height="4" fill="#ff0000"/>
<rect x="1180" y="275" width="1" height="38" fill="#00ff00"/>
<rect x="1179" y="279" width="3" height="28" fill="#00ff00"/>
<rect x="1184" y="274" width="1" height="44" fill="#ff0000"/>
<rect x="1183" y="289" width="3" height="18" fill="#ff0000"/>
<rect x="1188" y="287" width="1" height="10" fill="#ff0000"/>
<rect x="1187" y="288" width="3" height="1" fill="#ff0000"/>
<rect x="1192" y="280" width="1" height="18" fill="#00ff00"/>
<rect x="1191" y="289" width="3" height="4" fill="#00ff00"/>
<rect x="1196" y="292" width="1" height="21" fill="#00ff00"/>
<rect x="1195" y="293" width="3" height="11" fill="#00ff00"/>
<rect x="1200" y="288" width="1" height="26" fill="#ff0000"/>
<rect x="1199" y="297" width="3" height="8" fill="#ff0000"/>
<rect x="1204" y="283" width="1" height="44" fill="#ff0000"/>
<rect x="1203" y="295" width="3" height="2" fill="#ff0000"/>
<rect x="1208" y="277" width="1" height="33" fill="#ff0000"/>
<rect x="1207" y="285" width="3" height="10" fill="#ff0000"/>
<rect x="1212" y="282" width="1" height="10" fill="#00ff00"/>
<rect x="1211" y="285" width="3" height="4" fill="#00ff00"/>
<rect x="1216" y="281" width="1" height="42" fill="#00ff00"/>
<rect x="1215" y="287" width="3" height="32" fill="#00ff00"/>
<rect x="1220" y="269" width="1" height="53" fill="#ff0000"/>
<rect x="1219" y="274" width="3" height="45" fill="#ff0000"/>
<rect x="1224" y="253" width="1" height="21" fill="#ff0000"/>
<rect x="1223" y="260" width="3" height="14" fill="#ff0000"/>
<rect x="1228" y="241" width="1" height="24" fill="#ff0000"/>
<rect x="1227" y="242" width="3" height="19" fill="#ff0000"/>
<rect x="1232" y="231" width="1" height="16" fill="#ff0000"/>
<rect x="1231" y="240" width="3" height="3" fill="#ff0000"/>
<rect x="1236" y="239" width="1" height="7" fill="#00ff00"/>
<rect x="1235" y="240" width="3" height="4" fill="#00ff00"/>
<rect x="1240" y="237" width="1" height="17" fill="#00ff00"/>
<rect x="1239" y="243" width="3" height="5" fill="#00ff00"/>
<rect x="1244" y="221" width="1" height="30" fill="#ff0000"/>
<rect x="1243" y="225" width="3" height="24" fill="#ff0000"/>
<rect x="1248" y="217" width="1" height="21" fill="#00ff00"/>
<rect x="1247" y="225" width="3" height="6" fill="#00ff00"/>
<rect x="1252" y="205" width="1" height="31" fill="#00ff00"/>
<rect x="1251" y="231" width="3" height="5" fill="#00ff00"/>
<rect x="1256" y="229" width="1" height="9" fill="#ff0000"/>
<rect x="1255" y="232" width="3" height="4" fill="#ff0000"/>
<path d="M191 95.5h8M183 96.5h8M199 96.5h4M75 97.5h7M179 97.5h4M203 97.5h3M72 98.5h3M82 98.5h2M171 98.5h8M206 98.5h2M70 99.5h2M84 99.5h2M167 99.5h4M208 99.5h2M68 100.5h2M86 100.5h2M127 100.5h8M163 100.5h4M210 100.5h2M66 101.5h2M88 101.5h2M124 101.5h3M135 101.5h4M159 101.5h4M212 101.5h2M65 102.5h1M90 102.5h2M122 102.5h2M139 102.5h4M155 102.5h4M214 102.5h2M63 103.5h2M92 103.5h4M116 103.5h6M143 103.5h12M216 103.5h2M61 104.5h2M96 104.5h4M114 104.5h2M218 104.5h2M59 105.5h2M100 105.5h3M109 105.5h5M220 105.5h2M57 106.5h2M103 106.5h6M222 106.5h2M56 107.5h1M224 107.5h2M55 108.5h1M226 108.5h2M53 109.5h2M228 109.5h11M52 110.5h1M239 110.5h2M51 111.5h1M241 111.5h2M51 112.5h1M243 112.5h1M50 113.5h1M244 113.5h1M49 114.5h1M245 114.5h1M49 115.5h1M246 115.5h1M48 116.5h1M246 116.5h1M47 117.5h1M247 117.5h1M47 118.5h1M248 118.5h1M46 119.5h1M249 119.5h1M45 120.5h1M249 120.5h1M44 121.5h1M250 121.5h1M43 122.5h1M251 122.5h1M42 123.5h1M251 123.5h1M42 124.5h1M252 124.5h1M41 125.5h1M253 125.5h2M40 126.5h1M255 126.5h1M39 127.5h1M256 127.5h2M38 128.5h1M258 128.5h2M37 129.5h1M260 129.5h1M36 130.5h1M261 130.5h2M35 131.5h1M263 131.5h1M34 132.5h1M264 132.5h1M32 133.5h2M265 133.5h2M30 134.5h2M267 134.5h1M28 135.5h2M268 135.5h1M26 136.5h2M269 136.5h2M24 137.5h2M271 137.5h1M23 138.5h1M272 138.5h1M21 139.5h2M273 139.5h1M19 140.5h2M274 140.5h1M17 141.5h2M275 141.5h1M4 142.5h3M15 142.5h2M276 142.5h1M7 143.5h8M277 143.5h2M279 144.5h1M280 145.5h1M281 146.5h2M283 147.5h1M284 148.5h1M285 149.5h1M286 150.5h1M287 151.5h1M288 152.5h1M289 153.5h1M290 154.5h1M291 155.5h1M292 156.5h1M293 157.5h2M295 158.5h1M296 159.5h1M297 160.5h2M299 161.5h1M300 162.5h1M301 163.5h1M302 164.5h1M303 165.5h1M304 166.5h1M305 167.5h1M306 168.5h1M307 169.5h1M308 170.5h1M309 171.5h2M311 172.5h1M312 173.5h1M313 174.5h2M315 175.5h1M316 176.5h1M317 177.5h1M318 178.5h1M319 179.5h1M320 180.5h1M321 181.5h2M323 182.5h1M324 183.5h2M326 184.5h2M328 185.5h1M329 186.5h2M331 187.5h1M332 188.5h1M333 189.5h2M335 190.5h1M336 191.5h1M337 192.5h1M338 193.5h1M339 194.5h1M340 195.5h1M341 196.5h2M343 197.5h1M344 198.5h1M345 199.5h2M347 200.5h1M348 201.5h1M349 202.5h2M351 203.5h1M352 204.5h1M353 205.5h2M355 206.5h1M356 207.5h1M357 208.5h2M359 209.5h1M360 210.5h2M362 211.5h2M371 211.5h3M364 212.5h7M374 212.5h2M376 213.5h2M378 214.5h2M380 215.5h2M382 216.5h2M384 217.5h1M385 218.5h2M387 219.5h1M388 220.5h1M389 221.5h2M391 222.5h1M392 223.5h1M393 224.5h1M394 225.5h1M395 226.5h1M396 227.5h1M397 228.5h1M398 229.5h1M398 230.5h1M399 231.5h1M400 232.5h1M401 233.5h1M402 234.5h1M403 235.5h1M404 236.5h1M405 237.5h1M406 238.5h1M406 239.5h1M407 240.5h1M408 241.5h1M409 242.5h1M410 243.5h1M411 244.5h1M412 245.5h1M413 246.5h1M414 247.5h1M414 248.5h1M415 249.5h1M416 250.5h1M417 251.5h1M417 252.5h1M418 253.5h1M419 254.5h1M419 255.5h1M420 256.5h1M421 257.5h1M422 258.5h1M422 259.5h1M423 260.5h1M424 261.5h1M425 262.5h1M425 263.5h1M426 264.5h1M427 265.5h1M427 266.5h1M428 267.5h1M429 268.5h1M430 269.5h1M431 270.5h1M432 271.5h1M433 272.5h1M434 273.5h1M434 274.5h1M435 275.5h1M436 276.5h1M437 277.5h1M437 278.5h1M438 279.5h1M438 280.5h1M439 281.5h1M439 282.5h1M440 283.5h1M441 284.5h1M1256 284.5h1M442 285.5h1M1255 285.5h1M442 286.5h1M1255 286.5h1M443 287.5h1M1254 287.5h1M444 288.5h1M1253 288.5h1M445 289.5h1M1253 289.5h1M446 290.5h1M1252 290.5h1M446 291.5h1M1251 291.5h1M447 292.5h1M1251 292.5h1M448 293.5h1M1250 293.5h1M449 294.5h1M1249 294.5h1M450 295.5h1M1249 295.5h1M450 296.5h1M1248 296.5h1M451 297.5h1M1247 297.5h1M452 298.5h1M1246 298.5h1M453 299.5h1M1246 299.5h1M454 300.5h1M1245 300.5h1M455 301.5h1M1244 301.5h1M456 302.5h1M1243 302.5h1M457 303.5h1M1243 303.5h1M458 304.5h1M1242 304.5h1M459 305.5h1M1241 305.5h1M460 306.5h1M1241 306.5h1M461 307.5h1M1240 307.5h1M462 308.5h1M1239 308.5h1M463 309.5h1M1239 309.5h1M464 310.5h1M1238 310.5h1M465 311.5h1M1238 311.5h1M466 312.5h1M1237 312.5h1M466 313.5h1M1237 313.5h1M467 314.5h1M1236 314.5h1M468 315.5h1M1235 315.5h1M469 316.5h1M1235 316.5h1M470 317.5h1M1234 317.5h1M471 318.5h1M1233 318.5h1M472 319.5h1M1233 319.5h1M473 320.5h1M1232 320.5h1M474 321.5h1M1231 321.5h1M474 322.5h1M1231 322.5h1M475 323.5h1M1230 323.5h1M476 324.5h1M1230 324.5h1M477 325.5h1M1229 325.5h1M477 326.5h1M1229 326.5h1M478 327.5h1M1228 327.5h1M479 328.5h1M1227 328.5h1M479 329.5h1M1227 329.5h1M480 330.5h1M1226 330.5h1M481 331.5h1M1226 331.5h1M482 332.5h1M1225 332.5h1M482 333.5h1M1225 333.5h1M483 334.5h1M1224 334.5h1M484 335.5h1M1223 335.5h1M485 336.5h1M1223 336.5h1M486 337.5h1M1222 337.5h1M486 338.5h1M1221 338.5h1M487 339.5h1M1221 339.5h1M488 340.5h1M1220 340.5h1M489 341.5h1M1219 341.5h1M489 342.5h1M1219 342.5h1M490 343.5h1M1218 343.5h1M491 344.5h1M1217 344.5h1M491 345.5h1M1217 345.5h1M492 346.5h1M1216 346.5h1M493 347.5h1M1215 347.5h1M494 348.5h1M1214 348.5h1M495 349.5h1M695 349.5h4M1214 349.5h1M496 350.5h1M659 350.5h4M691 350.5h4M699 350.5h8M1213 350.5h1M497 351.5h1M655 351.5h4M663 351.5h8M684 351.5h7M707 351.5h8M1212 351.5h1M498 352.5h1M651 352.5h4M671 352.5h8M682 352.5h2M715 352.5h4M1211 352.5h1M499 353.5h1M648 353.5h3M679 353.5h3M719 353.5h2M1211 353.5h1M500 354.5h1M647 354.5h1M721 354.5h2M1210 354.5h1M501 355.5h1M645 355.5h2M723 355.5h1M1209 355.5h1M502 356.5h1M644 356.5h1M724 356.5h2M1209 356.5h1M503 357.5h1M642 357.5h2M726 357.5h2M1208 357.5h1M504 358.5h1M640 358.5h2M728 358.5h3M1207 358.5h1M505 359.5h1M639 359.5h1M731 359.5h3M1207 359.5h1M506 360.5h1M637 360.5h2M734 360.5h2M1206 360.5h1M507 361.5h1M635 361.5h2M736 361.5h2M1205 361.5h1M508 362.5h1M632 362.5h3M738 362.5h2M1205 362.5h1M509 363.5h2M630 363.5h2M740 363.5h3M1204 363.5h1M511 364.5h1M628 364.5h2M743 364.5h4M1203 364.5h1M512 365.5h1M626 365.5h2M747 365.5h4M1203 365.5h1M513 366.5h2M624 366.5h2M751 366.5h3M1202 366.5h1M515 367.5h1M622 367.5h2M754 367.5h2M1201 367.5h1M516 368.5h1M620 368.5h2M756 368.5h1M1201 368.5h1M517 369.5h2M619 369.5h1M757 369.5h2M1200 369.5h1M519 370.5h1M617 370.5h2M759 370.5h1M1199 370.5h1M520 371.5h1M616 371.5h1M760 371.5h1M1199 371.5h1M521 372.5h2M614 372.5h2M761 372.5h1M1198 372.5h1M523 373.5h1M612 373.5h2M762 373.5h1M1197 373.5h1M524 374.5h1M611 374.5h1M763 374.5h1M1197 374.5h1M525 375.5h2M609 375.5h2M764 375.5h7M787 375.5h12M823 375.5h16M1196 375.5h1M527 376.5h1M608 376.5h1M771 376.5h16M799 376.5h8M819 376.5h4M839 376.5h4M1195 376.5h1M528 377.5h3M606 377.5h2M807 377.5h12M843 377.5h3M1194 377.5h1M531 378.5h4M543 378.5h4M559 378.5h8M604 378.5h2M846 378.5h2M1194 378.5h1M535 379.5h8M547 379.5h12M567 379.5h7M602 379.5h2M848 379.5h1M1193 379.5h1M574 380.5h2M600 380.5h2M849 380.5h1M1192 380.5h1M576 381.5h3M598 381.5h2M850 381.5h1M1191 381.5h1M579 382.5h19M851 382.5h1M1190 382.5h1M852 383.5h1M1189 383.5h1M853 384.5h1M1188 384.5h1M854 385.5h1M1187 385.5h1M855 386.5h1M1186 386.5h1M856 387.5h1M1186 387.5h1M857 388.5h1M1185 388.5h1M858 389.5h1M1184 389.5h1M859 390.5h1M1183 390.5h1M860 391.5h1M1182 391.5h1M861 392.5h1M1182 392.5h1M862 393.5h1M1181 393.5h1M862 394.5h1M1180 394.5h1M863 395.5h1M1179 395.5h1M864 396.5h1M1177 396.5h2M865 397.5h2M1176 397.5h1M867 398.5h1M1175 398.5h1M868 399.5h1M1174 399.5h1M869 400.5h1M1174 400.5h1M870 401.5h1M1173 401.5h1M871 402.5h1M1172 402.5h1M872 403.5h1M1171 403.5h1M873 404.5h2M1170 404.5h1M875 405.5h1M1170 405.5h1M876 406.5h3M1169 406.5h1M879 407.5h3M1168 407.5h1M882 408.5h2M1167 408.5h1M884 409.5h1M1167 409.5h1M885 410.5h2M1166 410.5h1M887 411.5h1M1165 411.5h1M888 412.5h1M1165 412.5h1M889 413.5h1M1164 413.5h1M890 414.5h1M1163 414.5h1M891 415.5h1M1163 415.5h1M892 416.5h1M1162 416.5h1M893 417.5h1M1161 417.5h1M893 418.5h1M1161 418.5h1M894 419.5h1M1160 419.5h1M895 420.5h1M1159 420.5h1M895 421.5h1M1159 421.5h1M896 422.5h1M1158 422.5h1M897 423.5h1M1158 423.5h1M898 424.5h1M1157 424.5h1M899 425.5h1M1157 425.5h1M900 426.5h1M1156 426.5h1M901 427.5h1M1155 427.5h1M902 428.5h1M1155 428.5h1M902 429.5h1M1154 429.5h1M903 430.5h1M1153 430.5h1M904 431.5h1M1153 431.5h1M905 432.5h1M1152 432.5h1M906 433.5h1M1151 433.5h1M907 434.5h1M1150 434.5h1M908 435.5h1M1149 435.5h1M909 436.5h1M1148 436.5h1M910 437.5h1M1147 437.5h1M911 438.5h1M1146 438.5h1M912 439.5h1M1145 439.5h1M913 440.5h2M1144 440.5h1M915 441.5h1M1143 441.5h1M916 442.5h1M1142 442.5h1M917 443.5h2M1141 443.5h1M919 444.5h1M1140 444.5h1M920 445.5h1M1139 445.5h1M921 446.5h1M1138 446.5h1M922 447.5h1M1137 447.5h1M923 448.5h1M1136 448.5h1M924 449.5h1M1135 449.5h1M925 450.5h2M1133 450.5h2M927 451.5h1M1132 451.5h1M928 452.5h1M1130 452.5h2M929 453.5h2M1128 453.5h2M931 454.5h1M1127 454.5h1M932 455.5h1M1125 455.5h2M933 456.5h1M1124 456.5h1M934 457.5h1M1122 457.5h2M934 458.5h1M1119 458.5h3M935 459.5h1M1115 459.5h4M936 460.5h1M1111 460.5h4M937 461.5h1M1107 461.5h4M938 462.5h1M1104 462.5h3M939 463.5h1M1102 463.5h2M940 464.5h1M1091 464.5h11M941 465.5h1M1087 465.5h4M942 466.5h1M1083 466.5h4M943 467.5h1M1079 467.5h4M944 468.5h1M1076 468.5h3M945 469.5h1M1075 469.5h1M946 470.5h1M1073 470.5h2M947 471.5h1M1072 471.5h1M948 472.5h1M1071 472.5h1M949 473.5h2M1069 473.5h2M951 474.5h1M1068 474.5h1M952 475.5h1M1066 475.5h2M953 476.5h1M1064 476.5h2M954 477.5h1M1062 477.5h2M955 478.5h1M1060 478.5h2M956 479.5h1M1059 479.5h1M957 480.5h1M1058 480.5h1M958 481.5h1M1057 481.5h1M959 482.5h1M1056 482.5h1M960 483.5h2M1054 483.5h2M962 484.5h2M1051 484.5h3M964 485.5h1M1047 485.5h4M965 486.5h2M1027 486.5h20M967 487.5h1M1019 487.5h8M968 488.5h51" fill="none" stroke="#0000cd" stroke-width="1"/>
<path d="M12 87.5h7M11 88.5h1M19 88.5h2M10 89.5h1M21 89.5h1M10 90.5h1M22 90.5h1M9 91.5h1M23 91.5h1M8 92.5h1M24 92.5h1M7 93.5h1M25 93.5h1M172 93.5h7M7 94.5h1M26 94.5h1M132 94.5h3M171 94.5h1M179 94.5h4M6 95.5h1M26 95.5h1M130 95.5h2M135 95.5h7M170 95.5h1M183 95.5h12M5 96.5h1M27 96.5h1M108 96.5h3M128 96.5h2M142 96.5h2M169 96.5h1M195 96.5h4M5 97.5h1M28 97.5h1M106 97.5h2M111 97.5h2M127 97.5h1M144 97.5h2M168 97.5h1M199 97.5h4M4 98.5h1M28 98.5h1M104 98.5h2M113 98.5h2M125 98.5h2M146 98.5h2M167 98.5h1M203 98.5h2M29 99.5h1M102 99.5h2M115 99.5h1M123 99.5h2M148 99.5h2M165 99.5h2M205 99.5h2M30 100.5h1M100 100.5h2M116 100.5h7M150 100.5h2M164 100.5h1M207 100.5h1M31 101.5h1M99 101.5h1M152 101.5h7M162 101.5h2M208 101.5h1M31 102.5h1M60 102.5h3M97 102.5h2M159 102.5h3M209 102.5h1M32 103.5h1M58 103.5h2M63 103.5h4M96 103.5h1M210 103.5h1M33 104.5h1M55 104.5h3M67 104.5h2M95 104.5h1M211 104.5h1M34 105.5h1M51 105.5h4M69 105.5h1M94 105.5h1M212 105.5h1M35 106.5h1M48 106.5h3M70 106.5h1M93 106.5h1M213 106.5h2M36 107.5h1M47 107.5h1M71 107.5h1M92 107.5h1M215 107.5h1M37 108.5h1M47 108.5h1M72 108.5h2M91 108.5h1M216 108.5h1M38 109.5h1M46 109.5h1M74 109.5h2M89 109.5h2M217 109.5h1M39 110.5h1M45 110.5h1M76 110.5h2M87 110.5h2M218 110.5h1M40 111.5h1M45 111.5h1M78 111.5h2M83 111.5h4M219 111.5h1M41 112.5h4M80 112.5h3M220 112.5h1M221 113.5h2M223 114.5h1M224 115.5h1M225 116.5h1M226 117.5h1M226 118.5h1M227 119.5h1M228 120.5h3M231 121.5h2M233 122.5h2M235 123.5h1M236 124.5h1M237 125.5h1M238 126.5h1M238 127.5h1M239 128.5h1M240 129.5h1M240 130.5h1M241 131.5h1M241 132.5h1M242 133.5h1M242 134.5h1M243 135.5h1M243 136.5h1M244 137.5h1M244 138.5h1M245 139.5h1M245 140.5h1M246 141.5h1M246 142.5h1M247 143.5h1M247 144.5h1M248 145.5h1M248 146.5h1M249 147.5h1M249 148.5h1M250 149.5h1M250 150.5h1M250 151.5h1M251 152.5h1M251 153.5h1M252 154.5h1M252 155.5h1M253 156.5h1M253 157.5h1M254 158.5h1M255 159.5h1M255 160.5h1M256 161.5h1M257 162.5h2M259 163.5h1M260 164.5h1M261 165.5h1M262 166.5h1M263 167.5h1M264 168.5h1M265 169.5h1M266 170.5h1M267 171.5h1M268 172.5h1M269 173.5h1M270 174.5h1M271 175.5h1M272 176.5h1M273 177.5h2M275 178.5h1M276 179.5h1M277 180.5h2M279 181.5h1M280 182.5h2M282 183.5h2M284 184.5h1M285 185.5h1M286 186.5h1M286 187.5h1M287 188.5h1M288 189.5h1M289 190.5h1M289 191.5h1M290 192.5h1M291 193.5h1M291 194.5h1M308 194.5h3M292 195.5h1M307 195.5h1M311 195.5h3M293 196.5h2M305 196.5h2M314 196.5h2M295 197.5h1M303 197.5h2M316 197.5h2M296 198.5h7M318 198.5h2M320 199.5h3M323 200.5h3M326 201.5h2M328 202.5h2M330 203.5h2M332 204.5h1M333 205.5h1M334 206.5h1M335 207.5h1M336 208.5h1M337 209.5h2M339 210.5h1M340 211.5h1M341 212.5h2M343 213.5h1M344 214.5h2M346 215.5h2M348 216.5h2M350 217.5h2M352 218.5h1M353 219.5h2M355 220.5h1M356 221.5h2M358 222.5h2M360 223.5h1M361 224.5h2M363 225.5h1M364 226.5h2M366 227.5h2M368 228.5h3M371 229.5h2M373 230.5h2M375 231.5h1M376 232.5h2M378 233.5h2M380 234.5h2M382 235.5h2M384 236.5h1M385 237.5h1M386 238.5h1M387 239.5h1M388 240.5h1M389 241.5h1M390 242.5h1M391 243.5h1M392 244.5h1M393 245.5h1M394 246.5h1M394 247.5h1M395 248.5h1M396 249.5h1M397 250.5h1M398 251.5h1M398 252.5h1M399 253.5h1M400 254.5h1M401 255.5h1M401 256.5h1M402 257.5h1M403 258.5h1M1256 258.5h1M403 259.5h1M1255 259.5h1M404 260.5h1M1254 260.5h1M405 261.5h1M1254 261.5h1M405 262.5h1M1253 262.5h1M406 263.5h1M1252 263.5h1M406 264.5h1M1251 264.5h1M407 265.5h1M1250 265.5h1M407 266.5h1M1250 266.5h1M408 267.5h1M1249 267.5h1M408 268.5h1M1248 268.5h1M409 269.5h1M1247 269.5h1M409 270.5h1M1246 270.5h1M410 271.5h1M1245 271.5h1M410 272.5h1M1244 272.5h1M411 273.5h1M1243 273.5h1M411 274.5h1M1242 274.5h1M412 275.5h1M1241 275.5h1M412 276.5h1M1240 276.5h1M413 277.5h1M1239 277.5h1M413 278.5h1M1237 278.5h2M414 279.5h1M1236 279.5h1M414 280.5h1M1235 280.5h1M415 281.5h1M1234 281.5h1M415 282.5h1M1234 282.5h1M416 283.5h1M1233 283.5h1M416 284.5h1M1232 284.5h1M416 285.5h1M1231 285.5h1M417 286.5h1M1229 286.5h2M417 287.5h1M1228 287.5h1M418 288.5h1M1211 288.5h3M1227 288.5h1M418 289.5h1M1208 289.5h3M1214 289.5h2M1225 289.5h2M419 290.5h1M1207 290.5h1M1216 290.5h9M419 291.5h1M1206 291.5h1M420 292.5h1M1205 292.5h1M420 293.5h1M1204 293.5h1M420 294.5h1M1203 294.5h1M421 295.5h1M1202 295.5h1M421 296.5h1M1202 296.5h1M421 297.5h1M1201 297.5h1M422 298.5h1M1200 298.5h1M422 299.5h1M1199 299.5h1M423 300.5h1M1198 300.5h1M423 301.5h1M1197 301.5h1M423 302.5h1M1196 302.5h1M424 303.5h1M1195 303.5h1M424 304.5h1M1195 304.5h1M424 305.5h1M1194 305.5h1M425 306.5h1M1193 306.5h1M425 307.5h1M1193 307.5h1M426 308.5h1M1192 308.5h1M426 309.5h1M1191 309.5h1M427 310.5h1M1191 310.5h1M427 311.5h1M1190 311.5h1M428 312.5h1M1190 312.5h1M428 313.5h1M1189 313.5h1M429 314.5h1M1189 314.5h1M429 315.5h1M1188 315.5h1M430 316.5h1M1188 316.5h1M430 317.5h1M1187 317.5h1M431 318.5h1M1187 318.5h1M431 319.5h1M1186 319.5h1M432 320.5h1M1186 320.5h1M432 321.5h1M1185 321.5h1M433 322.5h1M1185 322.5h1M433 323.5h1M1184 323.5h1M434 324.5h1M1184 324.5h1M434 325.5h1M1183 325.5h1M435 326.5h1M652 326.5h7M1183 326.5h1M435 327.5h1M650 327.5h2M659 327.5h2M1182 327.5h1M436 328.5h1M648 328.5h2M661 328.5h1M1182 328.5h1M436 329.5h1M646 329.5h2M662 329.5h1M1181 329.5h1M437 330.5h1M644 330.5h2M663 330.5h1M1181 330.5h1M437 331.5h1M643 331.5h1M664 331.5h1M1180 331.5h1M437 332.5h1M641 332.5h2M665 332.5h1M1179 332.5h1M438 333.5h1M640 333.5h1M665 333.5h1M1179 333.5h1M438 334.5h1M639 334.5h1M666 334.5h1M1178 334.5h1M439 335.5h1M638 335.5h1M667 335.5h1M1178 335.5h1M439 336.5h1M638 336.5h1M667 336.5h1M1177 336.5h1M439 337.5h1M637 337.5h1M668 337.5h1M1177 337.5h1M440 338.5h1M636 338.5h1M669 338.5h1M1176 338.5h1M440 339.5h1M635 339.5h1M669 339.5h1M1176 339.5h1M440 340.5h1M633 340.5h2M670 340.5h1M1176 340.5h1M441 341.5h1M632 341.5h1M671 341.5h1M1175 341.5h1M441 342.5h1M631 342.5h1M671 342.5h1M1175 342.5h1M442 343.5h1M630 343.5h1M672 343.5h1M1175 343.5h1M442 344.5h1M629 344.5h1M673 344.5h1M1174 344.5h1M443 345.5h1M628 345.5h1M674 345.5h1M1174 345.5h1M443 346.5h1M627 346.5h1M674 346.5h1M1174 346.5h1M444 347.5h1M626 347.5h1M675 347.5h1M1173 347.5h1M445 348.5h1M625 348.5h1M676 348.5h1M1173 348.5h1M446 349.5h1M624 349.5h1M677 349.5h1M1173 349.5h1M446 350.5h1M623 350.5h1M678 350.5h1M1172 350.5h1M447 351.5h1M622 351.5h1M679 351.5h1M1172 351.5h1M448 352.5h1M622 352.5h1M680 352.5h2M1172 352.5h1M449 353.5h1M621 353.5h1M682 353.5h2M1171 353.5h1M450 354.5h1M620 354.5h1M684 354.5h3M1171 354.5h1M451 355.5h1M619 355.5h1M687 355.5h4M1171 355.5h1M452 356.5h2M619 356.5h1M691 356.5h2M1170 356.5h1M454 357.5h2M618 357.5h1M693 357.5h1M1170 357.5h1M456 358.5h2M618 358.5h1M694 358.5h1M1169 358.5h1M458 359.5h2M617 359.5h1M695 359.5h1M1169 359.5h1M460 360.5h1M617 360.5h1M696 360.5h1M1169 360.5h1M461 361.5h2M616 361.5h1M697 361.5h1M1168 361.5h1M463 362.5h1M615 362.5h1M698 362.5h1M1168 362.5h1M464 363.5h2M614 363.5h1M699 363.5h1M1168 363.5h1M466 364.5h2M614 364.5h1M700 364.5h1M1167 364.5h1M468 365.5h2M613 365.5h1M701 365.5h1M1167 365.5h1M470 366.5h2M612 366.5h1M702 366.5h1M1167 366.5h1M472 367.5h3M611 367.5h1M703 367.5h1M820 367.5h3M1167 367.5h1M475 368.5h3M609 368.5h2M704 368.5h1M819 368.5h1M823 368.5h3M1166 368.5h1M478 369.5h2M608 369.5h1M705 369.5h2M818 369.5h1M826 369.5h2M1166 369.5h1M480 370.5h1M607 370.5h1M707 370.5h1M783 370.5h4M817 370.5h1M828 370.5h1M1166 370.5h1M481 371.5h2M605 371.5h2M708 371.5h1M780 371.5h3M787 371.5h4M816 371.5h1M829 371.5h1M1165 371.5h1M483 372.5h1M604 372.5h1M709 372.5h1M778 372.5h2M791 372.5h3M815 372.5h1M830 372.5h1M1165 372.5h1M484 373.5h1M602 373.5h2M710 373.5h1M776 373.5h2M794 373.5h2M814 373.5h1M831 373.5h1M1165 373.5h1M485 374.5h2M587 374.5h4M599 374.5h3M711 374.5h1M775 374.5h1M796 374.5h1M814 374.5h1M832 374.5h1M1165 374.5h1M487 375.5h1M499 375.5h4M584 375.5h3M591 375.5h8M712 375.5h1M774 375.5h1M797 375.5h1M813 375.5h1M833 375.5h1M1164 375.5h1M488 376.5h2M496 376.5h3M503 376.5h3M583 376.5h1M713 376.5h1M773 376.5h1M798 376.5h1M812 376.5h1M834 376.5h1M1164 376.5h1M490 377.5h2M494 377.5h2M506 377.5h2M581 377.5h2M714 377.5h1M743 377.5h4M751 377.5h7M772 377.5h1M799 377.5h1M810 377.5h2M835 377.5h1M1164 377.5h1M492 378.5h2M508 378.5h2M579 378.5h2M715 378.5h1M739 378.5h4M747 378.5h4M758 378.5h2M771 378.5h1M800 378.5h10M836 378.5h2M1163 378.5h1M510 379.5h2M575 379.5h4M716 379.5h3M735 379.5h4M760 379.5h1M769 379.5h2M838 379.5h2M1163 379.5h1M512 380.5h1M559 380.5h4M567 380.5h8M719 380.5h4M731 380.5h4M761 380.5h2M768 380.5h1M840 380.5h1M1163 380.5h1M513 381.5h2M556 381.5h3M563 381.5h4M723 381.5h8M763 381.5h1M766 381.5h2M841 381.5h1M1162 381.5h1M515 382.5h1M554 382.5h2M764 382.5h2M842 382.5h1M1162 382.5h1M516 383.5h2M551 383.5h3M843 383.5h1M1161 383.5h1M518 384.5h2M547 384.5h4M844 384.5h1M1161 384.5h1M520 385.5h2M543 385.5h4M845 385.5h1M1161 385.5h1M522 386.5h2M540 386.5h3M845 386.5h1M1160 386.5h1M524 387.5h2M538 387.5h2M846 387.5h1M1160 387.5h1M526 388.5h2M536 388.5h2M847 388.5h1M1160 388.5h1M528 389.5h3M534 389.5h2M847 389.5h1M1159 389.5h1M531 390.5h3M848 390.5h1M1159 390.5h1M849 391.5h1M1159 391.5h1M849 392.5h1M1158 392.5h1M850 393.5h1M1158 393.5h1M851 394.5h1M1157 394.5h1M851 395.5h1M1157 395.5h1M852 396.5h1M1157 396.5h1M853 397.5h1M1156 397.5h1M853 398.5h1M1156 398.5h1M854 399.5h1M1156 399.5h1M854 400.5h1M1155 400.5h1M855 401.5h1M1155 401.5h1M855 402.5h1M1155 402.5h1M856 403.5h1M1154 403.5h1M857 404.5h1M1154 404.5h1M857 405.5h1M1153 405.5h1M858 406.5h1M1153 406.5h1M858 407.5h1M1153 407.5h1M859 408.5h1M1152 408.5h1M859 409.5h1M1152 409.5h1M860 410.5h1M1152 410.5h1M861 411.5h1M1151 411.5h1M861 412.5h1M1151 412.5h1M862 413.5h1M1150 413.5h1M862 414.5h1M1150 414.5h1M863 415.5h1M1149 415.5h1M863 416.5h1M1149 416.5h1M864 417.5h1M1148 417.5h1M864 418.5h1M1148 418.5h1M865 419.5h1M1147 419.5h1M865 420.5h1M1147 420.5h1M866 421.5h1M1146 421.5h1M866 422.5h1M1146 422.5h1M867 423.5h1M1145 423.5h1M867 424.5h1M1145 424.5h1M868 425.5h1M1144 425.5h1M868 426.5h1M1144 426.5h1M869 427.5h1M1143 427.5h1M869 428.5h1M1143 428.5h1M870 429.5h1M1142 429.5h1M870 430.5h1M1142 430.5h1M871 431.5h1M1141 431.5h1M871 432.5h1M1141 432.5h1M872 433.5h1M1140 433.5h1M872 434.5h1M1139 434.5h1M873 435.5h1M1139 435.5h1M873 436.5h1M1138 436.5h1M874 437.5h1M1137 437.5h1M874 438.5h1M1137 438.5h1M875 439.5h1M1136 439.5h1M875 440.5h1M1135 440.5h1M876 441.5h1M1135 441.5h1M877 442.5h1M1134 442.5h1M877 443.5h1M1133 443.5h1M878 444.5h1M1133 444.5h1M879 445.5h1M1132 445.5h1M879 446.5h1M1103 446.5h4M1131 446.5h1M880 447.5h1M1092 447.5h11M1107 447.5h4M1129 447.5h2M881 448.5h1M1090 448.5h2M1111 448.5h3M1128 448.5h1M881 449.5h1M1084 449.5h6M1114 449.5h2M1127 449.5h1M882 450.5h1M1082 450.5h2M1116 450.5h2M1125 450.5h2M883 451.5h1M1076 451.5h6M1118 451.5h2M1123 451.5h2M883 452.5h1M1074 452.5h2M1120 452.5h3M884 453.5h1M1072 453.5h2M885 454.5h1M1071 454.5h1M886 455.5h1M1070 455.5h1M886 456.5h1M1070 456.5h1M887 457.5h1M1069 457.5h1M888 458.5h1M1068 458.5h1M889 459.5h1M1067 459.5h1M889 460.5h1M1066 460.5h1M890 461.5h1M1065 461.5h1M890 462.5h1M1064 462.5h1M891 463.5h1M1063 463.5h1M891 464.5h1M1062 464.5h1M892 465.5h1M1061 465.5h1M893 466.5h1M1060 466.5h1M893 467.5h1M1059 467.5h1M894 468.5h1M1058 468.5h1M895 469.5h1M1058 469.5h1M895 470.5h1M1057 470.5h1M896 471.5h1M1056 471.5h1M897 472.5h1M1055 472.5h1M897 473.5h1M1053 473.5h2M898 474.5h1M1052 474.5h1M899 475.5h1M1050 475.5h2M899 476.5h1M1048 476.5h2M900 477.5h1M1046 477.5h2M901 478.5h1M1043 478.5h3M902 479.5h1M1024 479.5h11M1039 479.5h4M903 480.5h1M1022 480.5h2M1035 480.5h4M904 481.5h2M1015 481.5h7M906 482.5h2M931 482.5h3M1012 482.5h3M908 483.5h3M923 483.5h8M934 483.5h2M1011 483.5h1M911 484.5h12M936 484.5h2M1009 484.5h2M938 485.5h2M1008 485.5h1M940 486.5h2M1007 486.5h1M942 487.5h2M1005 487.5h2M944 488.5h6M1003 488.5h2M950 489.5h2M1000 489.5h3M952 490.5h3M999 490.5h1M955 491.5h3M997 491.5h2M958 492.5h2M963 492.5h3M996 492.5h1M960 493.5h3M966 493.5h2M994 493.5h2M968 494.5h3M975 494.5h4M992 494.5h2M971 495.5h4M979 495.5h4M990 495.5h2M983 496.5h7" fill="none" stroke="#ff0000" stroke-width="1"/>
<path d="M103 76.5h2M28 77.5h3M100 77.5h3M105 77.5h1M27 78.5h1M31 78.5h2M99 78.5h1M105 78.5h1M25 79.5h2M32 79.5h1M97 79.5h2M106 79.5h1M24 80.5h1M33 80.5h1M96 80.5h1M106 80.5h1M24 81.5h1M33 81.5h1M95 81.5h1M107 81.5h1M23 82.5h1M33 82.5h1M95 82.5h1M107 82.5h1M23 83.5h1M34 83.5h1M94 83.5h1M108 83.5h1M23 84.5h1M34 84.5h1M93 84.5h1M108 84.5h1M22 85.5h1M35 85.5h1M93 85.5h1M109 85.5h1M22 86.5h1M35 86.5h1M92 86.5h1M109 86.5h1M22 87.5h1M35 87.5h1M91 87.5h1M109 87.5h1M22 88.5h1M36 88.5h1M91 88.5h1M109 88.5h1M140 88.5h5M21 89.5h1M36 89.5h1M90 89.5h1M110 89.5h1M139 89.5h1M145 89.5h1M21 90.5h1M36 90.5h1M90 90.5h1M110 90.5h1M138 90.5h1M145 90.5h1M172 90.5h1M21 91.5h1M37 91.5h1M89 91.5h1M110 91.5h1M138 91.5h1M146 91.5h1M170 91.5h2M173 91.5h1M20 92.5h1M37 92.5h1M89 92.5h1M111 92.5h1M137 92.5h1M147 92.5h1M168 92.5h2M173 92.5h1M20 93.5h1M37 93.5h1M88 93.5h1M111 93.5h1M136 93.5h1M147 93.5h1M166 93.5h2M174 93.5h1M20 94.5h1M38 94.5h1M88 94.5h1M111 94.5h1M135 94.5h1M148 94.5h1M159 94.5h7M174 94.5h1M19 95.5h1M38 95.5h1M87 95.5h1M111 95.5h1M135 95.5h1M149 95.5h1M156 95.5h3M175 95.5h1M19 96.5h1M39 96.5h1M87 96.5h1M112 96.5h1M134 96.5h1M150 96.5h1M155 96.5h1M175 96.5h1M196 96.5h3M19 97.5h1M39 97.5h1M86 97.5h1M112 97.5h1M134 97.5h1M151 97.5h1M153 97.5h2M176 97.5h2M188 97.5h3M194 97.5h2M199 97.5h2M18 98.5h1M39 98.5h1M86 98.5h1M112 98.5h1M133 98.5h1M152 98.5h1M178 98.5h2M186 98.5h2M191 98.5h3M201 98.5h1M18 99.5h1M40 99.5h1M85 99.5h1M113 99.5h1M133 99.5h1M180 99.5h6M201 99.5h1M18 100.5h1M40 100.5h1M85 100.5h1M113 100.5h1M132 100.5h1M202 100.5h1M18 101.5h1M40 101.5h1M84 101.5h1M113 101.5h1M132 101.5h1M202 101.5h1M17 102.5h1M41 102.5h1M83 102.5h1M114 102.5h1M132 102.5h1M203 102.5h1M17 103.5h1M41 103.5h1M83 103.5h1M114 103.5h1M131 103.5h1M203 103.5h1M17 104.5h1M42 104.5h1M82 104.5h1M114 104.5h1M131 104.5h1M204 104.5h1M16 105.5h1M42 105.5h1M82 105.5h1M114 105.5h1M131 105.5h1M204 105.5h1M16 106.5h1M42 106.5h1M81 106.5h1M115 106.5h1M131 106.5h1M205 106.5h1M16 107.5h1M43 107.5h1M81 107.5h1M115 107.5h1M130 107.5h1M205 107.5h1M16 108.5h1M43 108.5h1M79 108.5h2M115 108.5h1M130 108.5h1M206 108.5h1M15 109.5h1M44 109.5h1M76 109.5h3M116 109.5h1M130 109.5h1M206 109.5h1M15 110.5h1M44 110.5h1M75 110.5h1M116 110.5h1M129 110.5h1M206 110.5h1M15 111.5h1M45 111.5h2M74 111.5h1M116 111.5h1M129 111.5h1M207 111.5h1M15 112.5h1M47 112.5h1M74 112.5h1M117 112.5h1M129 112.5h1M207 112.5h1M15 113.5h1M48 113.5h1M73 113.5h1M117 113.5h1M129 113.5h1M208 113.5h1M14 114.5h1M48 114.5h1M72 114.5h1M118 114.5h1M128 114.5h1M208 114.5h1M14 115.5h1M49 115.5h1M71 115.5h1M118 115.5h1M128 115.5h1M208 115.5h1M14 116.5h1M49 116.5h1M70 116.5h1M119 116.5h1M127 116.5h1M209 116.5h1M14 117.5h1M50 117.5h1M70 117.5h1M119 117.5h1M127 117.5h1M209 117.5h1M13 118.5h1M50 118.5h1M69 118.5h1M120 118.5h1M126 118.5h1M210 118.5h1M13 119.5h1M50 119.5h1M63 119.5h6M120 119.5h1M126 119.5h1M210 119.5h1M13 120.5h1M51 120.5h1M60 120.5h3M121 120.5h2M125 120.5h1M211 120.5h1M13 121.5h1M51 121.5h1M59 121.5h1M123 121.5h1M125 121.5h1M211 121.5h1M13 122.5h1M52 122.5h1M58 122.5h1M124 122.5h1M212 122.5h1M12 123.5h1M52 123.5h3M57 123.5h1M212 123.5h1M12 124.5h1M55 124.5h2M213 124.5h1M12 125.5h1M214 125.5h1M12 126.5h1M214 126.5h1M12 127.5h1M215 127.5h1M11 128.5h1M216 128.5h1M11 129.5h1M217 129.5h1M11 130.5h1M217 130.5h1M11 131.5h1M218 131.5h1M11 132.5h1M218 132.5h1M10 133.5h1M219 133.5h1M10 134.5h1M219 134.5h1M10 135.5h1M220 135.5h1M10 136.5h1M221 136.5h2M10 137.5h1M223 137.5h1M9 138.5h1M224 138.5h1M9 139.5h1M225 139.5h1M9 140.5h1M226 140.5h1M9 141.5h1M227 141.5h1M9 142.5h1M228 142.5h9M8 143.5h1M237 143.5h1M8 144.5h1M238 144.5h1M8 145.5h1M238 145.5h1M7 146.5h1M239 146.5h1M5 147.5h2M240 147.5h1M4 148.5h1M240 148.5h1M241 149.5h1M241 150.5h1M241 151.5h1M242 152.5h1M242 153.5h1M243 154.5h1M243 155.5h1M243 156.5h1M244 157.5h1M244 158.5h1M244 159.5h1M245 160.5h1M245 161.5h1M245 162.5h1M246 163.5h1M246 164.5h1M247 165.5h1M247 166.5h1M247 167.5h1M248 168.5h1M248 169.5h1M248 170.5h1M248 171.5h1M249 172.5h1M249 173.5h1M249 174.5h1M249 175.5h1M249 176.5h1M249 177.5h1M250 178.5h1M250 179.5h1M250 180.5h1M250 181.5h1M250 182.5h1M251 183.5h1M251 184.5h1M251 185.5h1M251 186.5h1M272 186.5h6M251 187.5h1M272 187.5h1M278 187.5h2M283 187.5h3M251 188.5h1M271 188.5h1M280 188.5h3M286 188.5h2M252 189.5h1M271 189.5h1M288 189.5h1M252 190.5h1M271 190.5h1M289 190.5h1M252 191.5h1M270 191.5h1M289 191.5h1M252 192.5h1M270 192.5h1M290 192.5h1M253 193.5h1M270 193.5h1M290 193.5h1M253 194.5h1M269 194.5h1M291 194.5h1M254 195.5h1M269 195.5h1M291 195.5h1M254 196.5h1M269 196.5h1M292 196.5h1M254 197.5h1M268 197.5h1M293 197.5h1M255 198.5h1M268 198.5h1M294 198.5h1M255 199.5h1M267 199.5h1M295 199.5h1M256 200.5h1M266 200.5h1M296 200.5h1M312 200.5h5M256 201.5h1M265 201.5h1M297 201.5h2M311 201.5h1M317 201.5h2M257 202.5h2M264 202.5h1M299 202.5h1M311 202.5h1M319 202.5h1M259 203.5h1M262 203.5h2M300 203.5h1M310 203.5h1M320 203.5h2M260 204.5h2M301 204.5h2M309 204.5h1M322 204.5h2M303 205.5h1M309 205.5h1M324 205.5h2M304 206.5h5M326 206.5h2M328 207.5h1M329 208.5h1M329 209.5h1M330 210.5h1M331 211.5h1M331 212.5h1M332 213.5h1M333 214.5h1M334 215.5h1M334 216.5h1M335 217.5h1M336 218.5h1M337 219.5h1M338 220.5h1M339 221.5h1M340 222.5h1M340 223.5h1M341 224.5h1M341 225.5h1M342 226.5h1M342 227.5h1M343 228.5h1M343 229.5h1M344 230.5h1M345 231.5h1M372 231.5h1M346 232.5h1M371 232.5h1M373 232.5h2M347 233.5h1M370 233.5h1M375 233.5h1M348 234.5h1M369 234.5h1M376 234.5h1M1256 234.5h1M349 235.5h1M368 235.5h1M377 235.5h2M1255 235.5h1M350 236.5h1M367 236.5h1M379 236.5h1M383 236.5h2M1253 236.5h2M350 237.5h1M365 237.5h2M380 237.5h3M384 237.5h1M1248 237.5h5M351 238.5h1M363 238.5h2M385 238.5h1M1246 238.5h2M352 239.5h11M385 239.5h1M1244 239.5h2M386 240.5h1M1243 240.5h1M386 241.5h1M1243 241.5h1M387 242.5h1M1242 242.5h1M387 243.5h1M1242 243.5h1M388 244.5h1M1241 244.5h1M388 245.5h1M1241 245.5h1M388 246.5h1M1240 246.5h1M389 247.5h1M1239 247.5h1M389 248.5h1M1238 248.5h1M389 249.5h1M1238 249.5h1M389 250.5h1M1237 250.5h1M390 251.5h1M1236 251.5h1M390 252.5h1M1236 252.5h1M390 253.5h1M1235 253.5h1M391 254.5h1M1235 254.5h1M391 255.5h1M1235 255.5h1M391 256.5h1M1235 256.5h1M391 257.5h1M1234 257.5h1M392 258.5h1M1234 258.5h1M392 259.5h1M1234 259.5h1M392 260.5h1M1234 260.5h1M393 261.5h1M1233 261.5h1M393 262.5h1M1233 262.5h1M393 263.5h1M1233 263.5h1M394 264.5h1M1233 264.5h1M394 265.5h1M1232 265.5h1M394 266.5h1M1232 266.5h1M394 267.5h1M1232 267.5h1M395 268.5h1M1231 268.5h1M395 269.5h1M1231 269.5h1M395 270.5h1M1230 270.5h1M396 271.5h1M1230 271.5h1M396 272.5h1M1230 272.5h1M396 273.5h1M1229 273.5h1M397 274.5h1M1229 274.5h1M397 275.5h1M1228 275.5h1M397 276.5h1M1228 276.5h1M397 277.5h1M1176 277.5h1M1228 277.5h1M398 278.5h1M1175 278.5h1M1177 278.5h1M1227 278.5h1M398 279.5h1M1174 279.5h1M1178 279.5h1M1227 279.5h1M398 280.5h1M1174 280.5h1M1178 280.5h1M1226 280.5h1M398 281.5h1M1173 281.5h1M1179 281.5h1M1226 281.5h1M399 282.5h1M1172 282.5h1M1180 282.5h3M1225 282.5h1M399 283.5h1M1172 283.5h1M1183 283.5h2M1225 283.5h1M399 284.5h1M1171 284.5h1M1185 284.5h1M1224 284.5h1M399 285.5h1M1171 285.5h1M1185 285.5h1M1224 285.5h1M400 286.5h1M1171 286.5h1M1186 286.5h1M1223 286.5h1M400 287.5h1M1170 287.5h1M1187 287.5h1M1223 287.5h1M400 288.5h1M1170 288.5h1M1187 288.5h1M1222 288.5h1M401 289.5h1M1170 289.5h1M1188 289.5h2M1222 289.5h1M401 290.5h1M1170 290.5h1M1190 290.5h2M1221 290.5h1M401 291.5h1M1169 291.5h1M1192 291.5h1M1221 291.5h1M401 292.5h1M1169 292.5h1M1193 292.5h1M1220 292.5h1M402 293.5h1M1169 293.5h1M1194 293.5h1M1211 293.5h2M1219 293.5h1M402 294.5h1M1168 294.5h1M1194 294.5h1M1200 294.5h3M1207 294.5h4M1213 294.5h2M1218 294.5h1M402 295.5h1M1168 295.5h1M1195 295.5h1M1198 295.5h2M1203 295.5h4M1215 295.5h1M1217 295.5h1M402 296.5h1M1168 296.5h1M1196 296.5h2M1216 296.5h1M403 297.5h1M1168 297.5h1M403 298.5h1M1167 298.5h1M403 299.5h1M1167 299.5h1M403 300.5h1M1167 300.5h1M404 301.5h1M1167 301.5h1M404 302.5h1M624 302.5h2M1167 302.5h1M404 303.5h1M623 303.5h1M626 303.5h2M1166 303.5h1M405 304.5h1M622 304.5h1M628 304.5h1M1166 304.5h1M405 305.5h1M622 305.5h1M629 305.5h1M1166 305.5h1M405 306.5h1M621 306.5h1M629 306.5h1M1166 306.5h1M406 307.5h1M620 307.5h1M630 307.5h1M1165 307.5h1M406 308.5h1M620 308.5h1M630 308.5h1M1165 308.5h1M406 309.5h1M619 309.5h1M631 309.5h1M1165 309.5h1M406 310.5h1M619 310.5h1M631 310.5h1M1165 310.5h1M407 311.5h1M619 311.5h1M632 311.5h1M1165 311.5h1M407 312.5h1M618 312.5h1M632 312.5h1M1164 312.5h1M407 313.5h1M618 313.5h1M633 313.5h1M1164 313.5h1M408 314.5h1M617 314.5h1M633 314.5h1M1164 314.5h1M408 315.5h1M617 315.5h1M633 315.5h1M1164 315.5h1M408 316.5h1M617 316.5h1M634 316.5h1M1163 316.5h1M409 317.5h1M616 317.5h1M634 317.5h1M1163 317.5h1M409 318.5h1M616 318.5h1M635 318.5h1M1163 318.5h1M409 319.5h1M616 319.5h1M635 319.5h1M1163 319.5h1M410 320.5h1M616 320.5h1M635 320.5h1M1162 320.5h1M410 321.5h1M615 321.5h1M636 321.5h1M1162 321.5h1M411 322.5h1M615 322.5h1M636 322.5h1M1162 322.5h1M411 323.5h1M615 323.5h1M637 323.5h1M1162 323.5h1M411 324.5h1M615 324.5h1M637 324.5h1M1161 324.5h1M412 325.5h1M614 325.5h1M638 325.5h1M1161 325.5h1M412 326.5h1M614 326.5h1M638 326.5h1M1161 326.5h1M412 327.5h1M614 327.5h1M639 327.5h1M1161 327.5h1M413 328.5h1M614 328.5h1M639 328.5h1M1160 328.5h1M413 329.5h1M614 329.5h1M640 329.5h1M1160 329.5h1M414 330.5h1M613 330.5h1M641 330.5h1M1160 330.5h1M414 331.5h1M613 331.5h1M642 331.5h1M1160 331.5h1M414 332.5h1M613 332.5h1M643 332.5h1M1160 332.5h1M415 333.5h1M613 333.5h1M644 333.5h1M1159 333.5h1M415 334.5h1M612 334.5h1M645 334.5h1M1159 334.5h1M416 335.5h1M612 335.5h1M645 335.5h1M1159 335.5h1M416 336.5h1M612 336.5h1M646 336.5h1M1159 336.5h1M416 337.5h1M612 337.5h1M647 337.5h1M1159 337.5h1M417 338.5h1M611 338.5h1M647 338.5h1M1158 338.5h1M417 339.5h1M611 339.5h1M648 339.5h1M1158 339.5h1M418 340.5h1M611 340.5h1M649 340.5h2M1158 340.5h1M418 341.5h1M611 341.5h1M651 341.5h1M1158 341.5h1M418 342.5h1M610 342.5h1M652 342.5h3M1158 342.5h1M419 343.5h1M610 343.5h1M655 343.5h3M1158 343.5h1M419 344.5h1M610 344.5h1M658 344.5h2M1157 344.5h1M420 345.5h1M610 345.5h1M660 345.5h1M1157 345.5h1M420 346.5h1M609 346.5h1M660 346.5h1M1157 346.5h1M420 347.5h1M609 347.5h1M661 347.5h1M1157 347.5h1M421 348.5h1M609 348.5h1M661 348.5h1M1157 348.5h1M421 349.5h1M609 349.5h1M662 349.5h1M748 349.5h1M1156 349.5h1M422 350.5h1M608 350.5h1M662 350.5h1M746 350.5h2M749 350.5h1M1156 350.5h1M422 351.5h1M608 351.5h1M662 351.5h1M744 351.5h2M750 351.5h1M1156 351.5h1M422 352.5h1M608 352.5h1M663 352.5h1M744 352.5h1M750 352.5h1M1156 352.5h1M423 353.5h1M608 353.5h1M663 353.5h1M743 353.5h1M751 353.5h1M1156 353.5h1M423 354.5h1M607 354.5h1M664 354.5h1M743 354.5h1M752 354.5h1M1155 354.5h1M424 355.5h1M607 355.5h1M664 355.5h1M743 355.5h1M752 355.5h1M1155 355.5h1M424 356.5h1M607 356.5h1M665 356.5h1M742 356.5h1M753 356.5h1M1155 356.5h1M425 357.5h1M606 357.5h1M666 357.5h1M742 357.5h1M753 357.5h1M1155 357.5h1M425 358.5h1M560 358.5h1M606 358.5h1M666 358.5h1M692 358.5h1M742 358.5h1M754 358.5h1M1154 358.5h1M426 359.5h1M435 359.5h2M559 359.5h1M561 359.5h1M606 359.5h1M667 359.5h1M691 359.5h1M693 359.5h1M741 359.5h1M754 359.5h1M788 359.5h5M1154 359.5h1M427 360.5h1M432 360.5h3M437 360.5h1M557 360.5h2M561 360.5h1M605 360.5h1M668 360.5h1M690 360.5h1M694 360.5h1M741 360.5h1M754 360.5h1M786 360.5h2M792 360.5h1M1154 360.5h1M427 361.5h1M430 361.5h2M437 361.5h1M460 361.5h5M556 361.5h1M562 361.5h1M605 361.5h1M669 361.5h1M690 361.5h1M694 361.5h1M741 361.5h1M755 361.5h1M784 361.5h2M793 361.5h1M1154 361.5h1M428 362.5h2M438 362.5h1M460 362.5h1M465 362.5h1M555 362.5h1M562 362.5h1M605 362.5h1M669 362.5h1M689 362.5h1M695 362.5h1M740 362.5h1M755 362.5h1M784 362.5h1M793 362.5h1M1154 362.5h1M439 363.5h1M459 363.5h1M466 363.5h1M554 363.5h1M563 363.5h1M604 363.5h1M670 363.5h1M688 363.5h1M696 363.5h1M740 363.5h1M756 363.5h1M783 363.5h1M794 363.5h1M1153 363.5h1M439 364.5h1M459 364.5h1M467 364.5h1M554 364.5h1M563 364.5h1M604 364.5h1M671 364.5h1M687 364.5h1M697 364.5h1M740 364.5h1M756 364.5h1M783 364.5h1M794 364.5h1M1153 364.5h1M440 365.5h3M458 365.5h1M468 365.5h1M553 365.5h1M564 365.5h2M604 365.5h1M671 365.5h1M686 365.5h1M697 365.5h1M739 365.5h1M756 365.5h1M783 365.5h1M795 365.5h1M1153 365.5h1M443 366.5h6M458 366.5h1M469 366.5h2M552 366.5h1M566 366.5h2M603 366.5h1M672 366.5h2M686 366.5h1M698 366.5h1M739 366.5h1M756 366.5h1M782 366.5h1M795 366.5h1M1153 366.5h1M449 367.5h1M458 367.5h1M471 367.5h1M551 367.5h1M568 367.5h1M603 367.5h1M674 367.5h2M685 367.5h1M699 367.5h1M738 367.5h1M757 367.5h1M782 367.5h1M796 367.5h1M1152 367.5h1M449 368.5h1M457 368.5h1M472 368.5h1M551 368.5h1M569 368.5h1M603 368.5h1M676 368.5h1M684 368.5h1M699 368.5h1M738 368.5h1M757 368.5h1M782 368.5h1M797 368.5h1M1152 368.5h1M450 369.5h1M457 369.5h1M473 369.5h1M550 369.5h1M569 369.5h1M602 369.5h1M677 369.5h1M683 369.5h1M700 369.5h1M737 369.5h1M757 369.5h1M782 369.5h1M798 369.5h1M1152 369.5h1M451 370.5h1M456 370.5h1M473 370.5h1M550 370.5h1M570 370.5h1M602 370.5h1M678 370.5h1M682 370.5h1M700 370.5h1M737 370.5h1M757 370.5h1M781 370.5h1M799 370.5h1M820 370.5h2M1152 370.5h1M451 371.5h1M455 371.5h2M474 371.5h1M549 371.5h1M571 371.5h1M601 371.5h1M679 371.5h1M681 371.5h1M701 371.5h1M736 371.5h1M758 371.5h1M781 371.5h1M800 371.5h3M818 371.5h2M822 371.5h2M1151 371.5h1M452 372.5h3M475 372.5h1M549 372.5h1M571 372.5h1M601 372.5h1M680 372.5h1M701 372.5h1M736 372.5h1M758 372.5h1M781 372.5h1M803 372.5h3M816 372.5h2M824 372.5h1M1151 372.5h1M475 373.5h1M504 373.5h1M548 373.5h1M572 373.5h1M601 373.5h1M702 373.5h1M736 373.5h1M758 373.5h1M780 373.5h1M806 373.5h2M815 373.5h1M825 373.5h1M1151 373.5h1M476 374.5h1M503 374.5h1M505 374.5h2M548 374.5h1M572 374.5h1M600 374.5h1M702 374.5h1M735 374.5h1M758 374.5h1M780 374.5h1M808 374.5h3M813 374.5h2M826 374.5h1M1150 374.5h1M476 375.5h1M503 375.5h1M507 375.5h1M548 375.5h1M573 375.5h1M600 375.5h1M703 375.5h1M735 375.5h1M759 375.5h1M780 375.5h1M811 375.5h2M827 375.5h1M1150 375.5h1M477 376.5h1M502 376.5h1M508 376.5h5M547 376.5h1M573 376.5h1M599 376.5h1M703 376.5h1M735 376.5h1M759 376.5h1M779 376.5h1M828 376.5h1M1150 376.5h1M477 377.5h1M502 377.5h1M513 377.5h1M547 377.5h1M574 377.5h1M599 377.5h1M704 377.5h1M734 377.5h1M759 377.5h1M779 377.5h1M829 377.5h1M1150 377.5h1M478 378.5h1M501 378.5h1M514 378.5h1M546 378.5h1M574 378.5h1M598 378.5h1M704 378.5h1M734 378.5h1M759 378.5h1M779 378.5h1M829 378.5h1M1149 378.5h1M478 379.5h1M501 379.5h1M514 379.5h1M546 379.5h1M575 379.5h1M598 379.5h1M704 379.5h1M733 379.5h1M760 379.5h1M778 379.5h1M830 379.5h1M1149 379.5h1M478 380.5h1M500 380.5h1M515 380.5h1M546 380.5h1M575 380.5h1M597 380.5h1M705 380.5h1M733 380.5h1M760 380.5h1M778 380.5h1M831 380.5h1M1149 380.5h1M479 381.5h1M500 381.5h1M516 381.5h1M545 381.5h1M576 381.5h1M597 381.5h1M705 381.5h1M733 381.5h1M760 381.5h1M778 381.5h1M831 381.5h1M1148 381.5h1M479 382.5h1M499 382.5h1M516 382.5h1M545 382.5h1M576 382.5h1M596 382.5h1M706 382.5h1M732 382.5h1M760 382.5h1M778 382.5h1M832 382.5h1M1148 382.5h1M480 383.5h1M499 383.5h1M517 383.5h1M544 383.5h1M577 383.5h1M596 383.5h1M706 383.5h1M732 383.5h1M761 383.5h1M777 383.5h1M832 383.5h1M1147 383.5h1M480 384.5h1M498 384.5h1M517 384.5h1M544 384.5h1M578 384.5h1M595 384.5h1M707 384.5h1M732 384.5h1M761 384.5h1M777 384.5h1M833 384.5h1M1146 384.5h1M481 385.5h1M497 385.5h1M518 385.5h1M544 385.5h1M579 385.5h1M587 385.5h4M593 385.5h2M707 385.5h1M731 385.5h1M761 385.5h1M777 385.5h1M833 385.5h1M1146 385.5h1M481 386.5h1M497 386.5h1M518 386.5h1M543 386.5h1M580 386.5h7M591 386.5h2M708 386.5h1M731 386.5h1M761 386.5h1M776 386.5h1M834 386.5h1M1145 386.5h1M482 387.5h1M496 387.5h1M519 387.5h1M543 387.5h1M708 387.5h1M731 387.5h1M761 387.5h1M776 387.5h1M834 387.5h1M1144 387.5h1M482 388.5h1M495 388.5h1M519 388.5h1M542 388.5h1M709 388.5h1M730 388.5h1M762 388.5h1M776 388.5h1M835 388.5h1M1144 388.5h1M483 389.5h1M488 389.5h3M493 389.5h2M520 389.5h1M542 389.5h1M709 389.5h1M730 389.5h1M762 389.5h1M775 389.5h1M835 389.5h1M1143 389.5h1M483 390.5h1M486 390.5h2M491 390.5h2M521 390.5h1M541 390.5h1M710 390.5h1M729 390.5h1M762 390.5h1M775 390.5h1M836 390.5h1M1143 390.5h1M484 391.5h2M522 391.5h1M541 391.5h1M710 391.5h1M729 391.5h1M762 391.5h1M775 391.5h1M836 391.5h1M1143 391.5h1M522 392.5h1M540 392.5h1M711 392.5h1M729 392.5h1M763 392.5h1M774 392.5h1M837 392.5h1M1142 392.5h1M523 393.5h1M540 393.5h1M711 393.5h1M728 393.5h1M763 393.5h1M774 393.5h1M837 393.5h1M1142 393.5h1M524 394.5h1M539 394.5h1M712 394.5h1M728 394.5h1M763 394.5h1M774 394.5h1M838 394.5h1M1142 394.5h1M525 395.5h1M539 395.5h1M712 395.5h1M726 395.5h2M763 395.5h1M773 395.5h1M839 395.5h1M1141 395.5h1M525 396.5h1M538 396.5h1M713 396.5h1M724 396.5h2M763 396.5h1M773 396.5h1M839 396.5h1M1141 396.5h1M526 397.5h1M537 397.5h1M714 397.5h1M722 397.5h2M764 397.5h1M773 397.5h1M840 397.5h1M1141 397.5h1M526 398.5h1M537 398.5h1M715 398.5h1M719 398.5h3M764 398.5h1M772 398.5h1M840 398.5h1M1140 398.5h1M527 399.5h1M536 399.5h1M716 399.5h3M764 399.5h3M771 399.5h2M841 399.5h1M1140 399.5h1M527 400.5h1M535 400.5h1M767 400.5h4M841 400.5h1M1140 400.5h1M528 401.5h3M533 401.5h2M842 401.5h1M1139 401.5h1M531 402.5h2M842 402.5h1M1139 402.5h1M843 403.5h1M1139 403.5h1M843 404.5h1M1138 404.5h1M844 405.5h1M1138 405.5h1M844 406.5h1M1138 406.5h1M845 407.5h1M1137 407.5h1M845 408.5h1M1137 408.5h1M846 409.5h1M1137 409.5h1M846 410.5h1M1136 410.5h1M846 411.5h1M1136 411.5h1M847 412.5h1M1135 412.5h1M847 413.5h1M1135 413.5h1M848 414.5h1M1134 414.5h1M848 415.5h1M1134 415.5h1M848 416.5h1M1133 416.5h1M849 417.5h1M1133 417.5h1M849 418.5h1M1132 418.5h1M849 419.5h1M1132 419.5h1M850 420.5h1M1131 420.5h1M850 421.5h1M1131 421.5h1M850 422.5h1M1130 422.5h1M850 423.5h1M1130 423.5h1M851 424.5h1M1068 424.5h5M1129 424.5h1M851 425.5h1M1067 425.5h1M1073 425.5h1M1129 425.5h1M851 426.5h1M1066 426.5h1M1073 426.5h1M1128 426.5h1M852 427.5h1M1065 427.5h1M1074 427.5h1M1128 427.5h1M852 428.5h1M1064 428.5h1M1075 428.5h1M1128 428.5h1M852 429.5h1M1063 429.5h1M1075 429.5h1M1127 429.5h1M853 430.5h1M1063 430.5h1M1076 430.5h1M1127 430.5h1M853 431.5h1M1062 431.5h1M1076 431.5h1M1127 431.5h1M853 432.5h1M1062 432.5h1M1077 432.5h1M1126 432.5h1M854 433.5h1M1061 433.5h1M1077 433.5h1M1126 433.5h1M854 434.5h1M1061 434.5h1M1077 434.5h1M1125 434.5h1M854 435.5h1M1060 435.5h1M1078 435.5h1M1125 435.5h1M854 436.5h1M1060 436.5h1M1078 436.5h1M1125 436.5h1M855 437.5h1M1060 437.5h1M1078 437.5h1M1124 437.5h1M855 438.5h1M1059 438.5h1M1079 438.5h1M1124 438.5h1M855 439.5h1M1059 439.5h1M1079 439.5h1M1122 439.5h2M856 440.5h1M1059 440.5h1M1079 440.5h1M1120 440.5h2M856 441.5h1M1058 441.5h1M1080 441.5h1M1119 441.5h1M856 442.5h1M1058 442.5h1M1080 442.5h1M1119 442.5h1M857 443.5h1M1058 443.5h1M1080 443.5h1M1118 443.5h1M857 444.5h1M1058 444.5h1M1081 444.5h1M1117 444.5h1M857 445.5h1M1057 445.5h1M1081 445.5h1M1117 445.5h1M857 446.5h1M1057 446.5h1M1082 446.5h1M1116 446.5h1M858 447.5h1M1057 447.5h1M1082 447.5h1M1115 447.5h1M858 448.5h1M1056 448.5h1M1083 448.5h1M1115 448.5h1M858 449.5h1M1056 449.5h1M1083 449.5h1M1114 449.5h1M859 450.5h1M1056 450.5h1M1084 450.5h1M1113 450.5h1M859 451.5h1M1055 451.5h1M1084 451.5h1M1113 451.5h1M859 452.5h1M1055 452.5h1M1085 452.5h1M1112 452.5h1M859 453.5h1M1055 453.5h1M1085 453.5h1M1111 453.5h1M860 454.5h1M1054 454.5h1M1086 454.5h1M1109 454.5h2M860 455.5h1M1054 455.5h1M1086 455.5h1M1108 455.5h1M860 456.5h1M1053 456.5h1M1087 456.5h1M1107 456.5h1M861 457.5h1M1053 457.5h1M1087 457.5h1M1106 457.5h1M861 458.5h1M1053 458.5h1M1088 458.5h1M1106 458.5h1M861 459.5h1M1052 459.5h1M1089 459.5h1M1105 459.5h1M862 460.5h1M1052 460.5h1M1089 460.5h1M1104 460.5h1M862 461.5h1M1052 461.5h1M1090 461.5h1M1103 461.5h1M863 462.5h1M1051 462.5h1M1090 462.5h1M1103 462.5h1M863 463.5h1M1051 463.5h1M1091 463.5h1M1102 463.5h1M863 464.5h1M1050 464.5h1M1091 464.5h1M1102 464.5h1M864 465.5h1M1050 465.5h1M1092 465.5h1M1101 465.5h1M864 466.5h1M1049 466.5h1M1093 466.5h2M1101 466.5h1M865 467.5h1M1049 467.5h1M1095 467.5h1M1099 467.5h2M865 468.5h1M1048 468.5h1M1096 468.5h3M866 469.5h1M1048 469.5h1M866 470.5h1M1047 470.5h1M867 471.5h1M1047 471.5h1M867 472.5h1M931 472.5h2M1007 472.5h2M1046 472.5h1M868 473.5h3M928 473.5h3M933 473.5h1M1003 473.5h4M1009 473.5h1M1046 473.5h1M871 474.5h2M927 474.5h1M934 474.5h1M999 474.5h4M1010 474.5h1M1045 474.5h1M873 475.5h1M927 475.5h1M935 475.5h1M992 475.5h7M1011 475.5h1M1045 475.5h1M874 476.5h1M887 476.5h2M926 476.5h1M936 476.5h1M991 476.5h1M1012 476.5h1M1044 476.5h1M875 477.5h1M879 477.5h8M889 477.5h1M926 477.5h1M937 477.5h1M989 477.5h2M1013 477.5h1M1044 477.5h1M876 478.5h3M890 478.5h1M925 478.5h1M937 478.5h1M988 478.5h1M1014 478.5h1M1042 478.5h2M891 479.5h1M925 479.5h1M938 479.5h1M987 479.5h1M1014 479.5h1M1040 479.5h2M892 480.5h2M924 480.5h1M939 480.5h1M987 480.5h1M1015 480.5h1M1039 480.5h1M894 481.5h2M923 481.5h1M939 481.5h1M986 481.5h1M1016 481.5h1M1037 481.5h2M896 482.5h1M923 482.5h1M940 482.5h1M985 482.5h1M1017 482.5h1M1036 482.5h1M897 483.5h1M922 483.5h1M941 483.5h1M985 483.5h1M1018 483.5h1M1035 483.5h1M897 484.5h1M921 484.5h1M941 484.5h1M984 484.5h1M1019 484.5h1M1033 484.5h2M898 485.5h1M921 485.5h1M942 485.5h1M982 485.5h2M1020 485.5h5M1032 485.5h1M899 486.5h1M920 486.5h1M942 486.5h1M980 486.5h2M1025 486.5h2M1031 486.5h1M899 487.5h1M919 487.5h1M943 487.5h1M979 487.5h1M1027 487.5h1M1029 487.5h2M900 488.5h1M918 488.5h1M943 488.5h1M979 488.5h1M1028 488.5h1M901 489.5h1M918 489.5h1M944 489.5h1M978 489.5h1M902 490.5h1M917 490.5h1M945 490.5h1M978 490.5h1M903 491.5h1M916 491.5h1M945 491.5h1M977 491.5h1M904 492.5h1M915 492.5h1M946 492.5h1M977 492.5h1M905 493.5h1M914 493.5h1M947 493.5h1M976 493.5h1M906 494.5h1M913 494.5h1M947 494.5h1M976 494.5h1M906 495.5h1M912 495.5h1M948 495.5h1M975 495.5h1M907 496.5h1M910 496.5h2M948 496.5h1M975 496.5h1M908 497.5h2M949 497.5h1M975 497.5h1M949 498.5h1M974 498.5h1M950 499.5h1M974 499.5h1M950 500.5h1M974 500.5h1M951 501.5h1M973 501.5h1M951 502.5h1M973 502.5h1M952 503.5h1M973 503.5h1M952 504.5h1M972 504.5h1M953 505.5h1M972 505.5h1M954 506.5h1M971 506.5h1M954 507.5h1M971 507.5h1M955 508.5h1M970 508.5h1M956 509.5h3M963 509.5h3M969 509.5h1M959 510.5h4M966 510.5h2M969 510.5h1M968 511.5h1" fill="none" stroke="#ffa500" stroke-width="1"/>
<rect x="4" y="225" width="1576" height="1" fill="#ff4500"/>
<rect x="4" y="207" width="1576" height="2" fill="#ff0000"/>
<rect x="4" y="284" width="1576" height="2" fill="#ff0000"/>
<rect x="4" y="345" width="1576" height="2" fill="#00ff00"/>
<rect x="4" y="422" width="1576" height="2" fill="#0000ff"/>
<rect x="4" y="485" width="1576" height="2" fill="#0000ff"/>
<rect x="4" y="541" width="1576" height="2" fill="#0000ff"/>
<rect x="3" y="205" width="6" height="6" fill="#ff0000"/><rect x="5" y="207" width="2" height="2" fill="#fff"/>
<rect x="1574" y="205" width="6" height="6" fill="#ff0000"/><rect x="1576" y="207" width="2" height="2" fill="#fff"/>
<rect x="3" y="343" width="6" height="6" fill="#00ff00"/><rect x="5" y="345" width="2" height="2" fill="#fff"/>
<rect x="1574" y="343" width="6" height="6" fill="#00ff00"/><rect x="1576" y="345" width="2" height="2" fill="#fff"/>
<rect x="3" y="420" width="6" height="6" fill="#0000ff"/><rect x="5" y="422" width="2" height="2" fill="#fff"/>
<rect x="1574" y="420" width="6" height="6" fill="#0000ff"/><rect x="1576" y="422" width="2" height="2" fill="#fff"/>
<rect x="3" y="483" width="6" height="6" fill="#0000ff"/><rect x="5" y="485" width="2" height="2" fill="#fff"/>
<rect x="1574" y="483" width="6" height="6" fill="#0000ff"/><rect x="1576" y="485" width="2" height="2" fill="#fff"/>
<rect x="3" y="539" width="6" height="6" fill="#0000ff"/><rect x="5" y="541" width="2" height="2" fill="#fff"/>
<rect x="1574" y="539" width="6" height="6" fill="#0000ff"/><rect x="1576" y="541" width="2" height="2" fill="#fff"/>
<rect x="3" y="25" width="1578" height="1" fill="#000"/>
<rect x="3" y="552" width="1578" height="1" fill="#000"/>
<rect x="3" y="25" width="1" height="528" fill="#000"/>
<rect x="1580" y="25" width="1" height="528" fill="#000"/>
<rect x="3" y="554" width="1578" height="1" fill="#000"/>
<rect x="3" y="650" width="1578" height="1" fill="#000"/>
<rect x="3" y="554" width="1" height="97" fill="#000"/>
<rect x="1580" y="554" width="1" height="97" fill="#000"/>
<rect x="3" y="652" width="1578" height="1" fill="#000"/>
<rect x="3" y="748" width="1578" height="1" fill="#000"/>
<rect x="3" y="652" width="1" height="97" fill="#000"/>
<rect x="1580" y="652" width="1" height="97" fill="#000"/>
<rect x="3" y="205" width="6" height="6" fill="#ff0000"/><rect x="5" y="207" width="2" height="2" fill="#fff"/>
<rect x="3" y="343" width="6" height="6" fill="#00ff00"/><rect x="5" y="345" width="2" height="2" fill="#fff"/>
<rect x="3" y="420" width="6" height="6" fill="#0000ff"/><rect x="5" y="422" width="2" height="2" fill="#fff"/>
<rect x="3" y="483" width="6" height="6" fill="#0000ff"/><rect x="5" y="485" width="2" height="2" fill="#fff"/>
<rect x="3" y="539" width="6" height="6" fill="#0000ff"/><rect x="5" y="541" width="2" height="2" fill="#fff"/>
<rect x="1259" y="26" width="9" height="1" fill="#c0c0c0"/>
<rect x="1260" y="27" width="7" height="1" fill="#c0c0c0"/>
<rect x="1261" y="28" width="5" height="1" fill="#c0c0c0"/>
<rect x="1262" y="29" width="3" height="1" fill="#c0c0c0"/>
<rect x="1263" y="30" width="1" height="1" fill="#c0c0c0"/>
<rect x="1581" y="54" width="2" height="1" fill="#000"/>
<rect x="1581" y="87" width="2" height="1" fill="#000"/>
<rect x="1581" y="120" width="2" height="1" fill="#000"/>
<rect x="1581" y="153" width="2" height="1" fill="#000"/>
<rect x="1581" y="186" width="2" height="1" fill="#000"/>
<rect x="1581" y="219" width="2" height="1" fill="#000"/>
<rect x="1581" y="252" width="2" height="1" fill="#000"/>
<rect x="1581" y="285" width="2" height="1" fill="#000"/>
<rect x="1581" y="318" width="2" height="1" fill="#000"/>
<rect x="1581" y="351" width="2" height="1" fill="#000"/>
<rect x="1581" y="384" width="2" height="1" fill="#000"/>
<rect x="1581" y="417" width="2" height="1" fill="#000"/>
<rect x="1581" y="450" width="2" height="1" fill="#000"/>
<rect x="1581" y="483" width="2" height="1" fill="#000"/>
<rect x="1581" y="516" width="2" height="1" fill="#000"/>
<rect x="1581" y="549" width="2" height="1" fill="#000"/>
<rect x="1581" y="703" width="2" height="1" fill="#000"/>
<rect x="1581" y="556" width="1" height="1" fill="#000"/>
<rect x="1581" y="649" width="1" height="1" fill="#000"/>
<rect x="1581" y="654" width="1" height="1" fill="#000"/>
<rect x="1581" y="747" width="1" height="1" fill="#000"/>
<rect x="5" y="584" width="3" height="1" fill="#c0c0c0"/>
<rect x="11" y="584" width="3" height="1" fill="#c0c0c0"/>
<rect x="17" y="584" width="3" height="1" fill="#c0c0c0"/>
<rect x="23" y="584" width="3" height="1" fill="#c0c0c0"/>
<rect x="29" y="584" width="3" height="1" fill="#c0c0c0"/>
<rect x="35" y="584" width="3" height="1" fill="#c0c0c0"/>
<rect x="41" y="584" width="3" height="1" fill="#c0c0c0"/>
<rect x="47" y="584" width="3" height="1" fill="#c0c0c0"/>
<rect x="53" y="584" width="3" height="1" fill="#c0c0c0"/>
<rect x="59" y="584" width="3" height="1" fill="#c0c0c0"/>
<rect x="65" y="584" width="3" height="1" fill="#c0c0c0"/>
<rect x="71" y="584" width="3" height="1" fill="#c0c0c0"/>
<rect x="77" y="584" width="3" height="1" fill="#c0c0c0"/>
<rect x="83" y="584" width="3" height="1" fill="#c0c0c0"/>
<rect x="89" y="584" width="3" height="1" fill="#c0c0c0"/>
<rect x="95" y="584" width="3" height="1" fill="#c0c0c0"/>
<rect x="101" y="584" width="3" height="1" fill="#c0c0c0"/>
<rect x="107" y="584" width="3" height="1" fill="#c0c0c0"/>
<rect x="113" y="584" width="3" height="1" fill="#c0c0c0"/>
<rect x="119" y="584" width="3" height="1" fill="#c0c0c0"/>
<rect x="125" y="584" width="3" height="1" fill="#c0c0c0"/>
<rect x="131" y="584" width="3" height="1" fill="#c0c0c0"/>
<rect x="137" y="584" width="3" height="1" fill="#c0c0c0"/>
<rect x="143" y="584" width="3" height="1" fill="#c0c0c0"/>
<rect x="149" y="584" width="3" height="1" fill="#c0c0c0"/>
<rect x="155" y="584" width="3" height="1" fill="#c0c0c0"/>
<rect x="161" y="584" width="3" height="1" fill="#c0c0c0"/>
<rect x="167" y="584" width="3" height="1" fill="#c0c0c0"/>
<rect x="173" y="584" width="3" height="1" fill="#c0c0c0"/>
<rect x="179" y="584" width="3" height="1" fill="#c0c0c0"/>
<rect x="185" y="584" width="3" height="1" fill="#c0c0c0"/>
<rect x="191" y="584" width="3" height="1" fill="#c0c0c0"/>
<rect x="197" y="584" width="3" height="1" fill="#c0c0c0"/>
<rect x="203" y="584" width="3" height="1" fill="#c0c0c0"/>
<rect x="209" y="584" width="3" height="1" fill="#c0c0c0"/>
<rect x="215" y="584" width="3" height="1" fill="#c0c0c0"/>
<rect x="221" y="584" width="3" height="1" fill="#c0c0c0"/>
<rect x="227" y="584" width="3" height="1" fill="#c0c0c0"/>
<rect x="233" y="584" width="3" height="1" fill="#c0c0c0"/>
<rect x="239" y="584" width="3" height="1" fill="#c0c0c0"/>
<rect x="245" y="584" width="3" height="1" fill="#c0c0c0"/>
<rect x="251" y="584" width="3" height="1" fill="#c0c0c0"/>
<rect x="257" y="584" width="3" height="1" fill="#c0c0c0"/>
<rect x="263" y="584" width="3" height="1" fill="#c0c0c0"/>
<rect x="269" y="584" width="3" height="1" fill="#c0c0c0"/>
<rect x="275" y="584" width="3" height="1" fill="#c0c0c0"/>
<rect x="281" y="584" width="3" height="1" fill="#c0c0c0"/>
<rect x="287" y="584" width="3" height="1" fill="#c0c0c0"/>
<rect x="293" y="584" width="3" height="1" fill="#c0c0c0"/>
<rect x="299" y="584" width="3" height="1" fill="#c0c0c0"/>
<rect x="305" y="584" width="3" height="1" fill="#c0c0c0"/>
<rect x="311" y="584" width="3" height="1" fill="#c0c0c0"/>
<rect x="317" y="584" width="3" height="1" fill="#c0c0c0"/>
<rect x="323" y="584" width="3" height="1" fill="#c0c0c0"/>
<rect x="329" y="584" width="3" height="1" fill="#c0c0c0"/>
<rect x="335" y="584" width="3" height="1" fill="#c0c0c0"/>
<rect x="341" y="584" width="3" height="1" fill="#c0c0c0"/>
<rect x="347" y="584" width="3" height="1" fill="#c0c0c0"/>
<rect x="353" y="584" width="3" height="1" fill="#c0c0c0"/>
<rect x="359" y="584" width="3" height="1" fill="#c0c0c0"/>
<rect x="365" y="584" width="3" height="1" fill="#c0c0c0"/>
<rect x="371" y="584" width="3" height="1" fill="#c0c0c0"/>
<rect x="377" y="584" width="3" height="1" fill="#c0c0c0"/>
<rect x="383" y="584" width="3" height="1" fill="#c0c0c0"/>
<rect x="389" y="584" width="3" height="1" fill="#c0c0c0"/>
<rect x="395" y="584" width="3" height="1" fill="#c0c0c0"/>
<rect x="401" y="584" width="3" height="1" fill="#c0c0c0"/>
<rect x="407" y="584" width="3" height="1" fill="#c0c0c0"/>
<rect x="413" y="584" width="3" height="1" fill="#c0c0c0"/>
<rect x="419" y="584" width="3" height="1" fill="#c0c0c0"/>
<rect x="425" y="584" width="3" height="1" fill="#c0c0c0"/>
<rect x="431" y="584" width="3" height="1" fill="#c0c0c0"/>
<rect x="437" y="584" width="3" height="1" fill="#c0c0c0"/>
<rect x="443" y="584" width="3" height="1" fill="#c0c0c0"/>
<rect x="449" y="584" width="3" height="1" fill="#c0c0c0"/>
<rect x="455" y="584" width="3" height="1" fill="#c0c0c0"/>
<rect x="461" y="584" width="3" height="1" fill="#c0c0c0"/>
<rect x="467" y="584" width="3" height="1" fill="#c0c0c0"/>
<rect x="473" y="584" width="3" height="1" fill="#c0c0c0"/>
<rect x="479" y="584" width="3" height="1" fill="#c0c0c0"/>
<rect x="485" y="584" width="3" height="1" fill="#c0c0c0"/>
<rect x="491" y="584" width="3" height="1" fill="#c0c0c0"/>
<rect x="497" y="584" width="3" height="1" fill="#c0c0c0"/>
<rect x="503" y="584" width="3" height="1" fill="#c0c0c0"/>
<rect x="509" y="584" width="3" height="1" fill="#c0c0c0"/>
<rect x="515" y="584" width="3" height="1" fill="#c0c0c0"/>
<rect x="521" y="584" width="3" height="1" fill="#c0c0c0"/>
<rect x="527" y="584" width="3" height="1" fill="#c0c0c0"/>
<rect x="533" y="584" width="3" height="1" fill="#c0c0c0"/>
<rect x="539" y="584" width="3" height="1" fill="#c0c0c0"/>
<rect x="545" y="584" width="3" height="1" fill="#c0c0c0"/>
<rect x="551" y="584" width="3" height="1" fill="#c0c0c0"/>
<rect x="557" y="584" width="3" height="1" fill="#c0c0c0"/>
<rect x="563" y="584" width="3" height="1" fill="#c0c0c0"/>
<rect x="569" y="584" width="3" height="1" fill="#c0c0c0"/>
<rect x="575" y="584" width="3" height="1" fill="#c0c0c0"/>
<rect x="581" y="584" width="3" height="1" fill="#c0c0c0"/>
<rect x="587" y="584" width="3" height="1" fill="#c0c0c0"/>
<rect x="593" y="584" width="3" height="1" fill="#c0c0c0"/>
<rect x="599" y="584" width="3" height="1" fill="#c0c0c0"/>
<rect x="605" y="584" width="3" height="1" fill="#c0c0c0"/>
<rect x="611" y="584" width="3" height="1" fill="#c0c0c0"/>
<rect x="617" y="584" width="3" height="1" fill="#c0c0c0"/>
<rect x="623" y="584" width="3" height="1" fill="#c0c0c0"/>
<rect x="629" y="584" width="3" height="1" fill="#c0c0c0"/>
<rect x="635" y="584" width="3" height="1" fill="#c0c0c0"/>
<rect x="641" y="584" width="3" height="1" fill="#c0c0c0"/>
<rect x="647" y="584" width="3" height="1" fill="#c0c0c0"/>
<rect x="653" y="584" width="3" height="1" fill="#c0c0c0"/>
<rect x="659" y="584" width="3" height="1" fill="#c0c0c0"/>
<rect x="665" y="584" width="3" height="1" fill="#c0c0c0"/>
<rect x="671" y="584" width="3" height="1" fill="#c0c0c0"/>
<rect x="677" y="584" width="3" height="1" fill="#c0c0c0"/>
<rect x="683" y="584" width="3" height="1" fill="#c0c0c0"/>
<rect x="689" y="584" width="3" height="1" fill="#c0c0c0"/>
<rect x="695" y="584" width="3" height="1" fill="#c0c0c0"/>
<rect x="701" y="584" width="3" height="1" fill="#c0c0c0"/>
<rect x="707" y="584" width="3" height="1" fill="#c0c0c0"/>
<rect x="713" y="584" width="3" height="1" fill="#c0c0c0"/>
<rect x="719" y="584" width="3" height="1" fill="#c0c0c0"/>
<rect x="725" y="584" width="3" height="1" fill="#c0c0c0"/>
<rect x="731" y="584" width="3" height="1" fill="#c0c0c0"/>
<rect x="737" y="584" width="3" height="1" fill="#c0c0c0"/>
<rect x="743" y="584" width="3" height="1" fill="#c0c0c0"/>
<rect x="749" y="584" width="3" height="1" fill="#c0c0c0"/>
<rect x="755" y="584" width="3" height="1" fill="#c0c0c0"/>
<rect x="761" y="584" width="3" height="1" fill="#c0c0c0"/>
<rect x="767" y="584" width="3" height="1" fill="#c0c0c0"/>
<rect x="773" y="584" width="3" height="1" fill="#c0c0c0"/>
<rect x="779" y="584" width="3" height="1" fill="#c0c0c0"/>
<rect x="785" y="584" width="3" height="1" fill="#c0c0c0"/>
<rect x="791" y="584" width="3" height="1" fill="#c0c0c0"/>
<rect x="797" y="584" width="3" height="1" fill="#c0c0c0"/>
<rect x="803" y="584" width="3" height="1" fill="#c0c0c0"/>
<rect x="809" y="584" width="3" height="1" fill="#c0c0c0"/>
<rect x="815" y="584" width="3" height="1" fill="#c0c0c0"/>
<rect x="821" y="584" width="3" height="1" fill="#c0c0c0"/>
<rect x="827" y="584" width="3" height="1" fill="#c0c0c0"/>
<rect x="833" y="584" width="3" height="1" fill="#c0c0c0"/>
<rect x="839" y="584" width="3" height="1" fill="#c0c0c0"/>
<rect x="845" y="584" width="3" height="1" fill="#c0c0c0"/>
<rect x="851" y="584" width="3" height="1" fill="#c0c0c0"/>
<rect x="857" y="584" width="3" height="1" fill="#c0c0c0"/>
<rect x="863" y="584" width="3" height="1" fill="#c0c0c0"/>
<rect x="869" y="584" width="3" height="1" fill="#c0c0c0"/>
<rect x="875" y="584" width="3" height="1" fill="#c0c0c0"/>
<rect x="881" y="584" width="3" height="1" fill="#c0c0c0"/>
<rect x="887" y="584" width="3" height="1" fill="#c0c0c0"/>
<rect x="893" y="584" width="3" height="1" fill="#c0c0c0"/>
<rect x="899" y="584" width="3" height="1" fill="#c0c0c0"/>
<rect x="905" y="584" width="3" height="1" fill="#c0c0c0"/>
<rect x="911" y="584" width="3" height="1" fill="#c0c0c0"/>
<rect x="917" y="584" width="3" height="1" fill="#c0c0c0"/>
<rect x="923" y="584" width="3" height="1" fill="#c0c0c0"/>
<rect x="929" y="584" width="3" height="1" fill="#c0c0c0"/>
<rect x="935" y="584" width="3" height="1" fill="#c0c0c0"/>
<rect x="941" y="584" width="3" height="1" fill="#c0c0c0"/>
<rect x="947" y="584" width="3" height="1" fill="#c0c0c0"/>
<rect x="953" y="584" width="3" height="1" fill="#c0c0c0"/>
<rect x="959" y="584" width="3" height="1" fill="#c0c0c0"/>
<rect x="965" y="584" width="3" height="1" fill="#c0c0c0"/>
<rect x="971" y="584" width="3" height="1" fill="#c0c0c0"/>
<rect x="977" y="584" width="3" height="1" fill="#c0c0c0"/>
<rect x="983" y="584" width="3" height="1" fill="#c0c0c0"/>
<rect x="989" y="584" width="3" height="1" fill="#c0c0c0"/>
<rect x="995" y="584" width="3" height="1" fill="#c0c0c0"/>
<rect x="1001" y="584" width="3" height="1" fill="#c0c0c0"/>
<rect x="1007" y="584" width="3" height="1" fill="#c0c0c0"/>
<rect x="1013" y="584" width="3" height="1" fill="#c0c0c0"/>
<rect x="1019" y="584" width="3" height="1" fill="#c0c0c0"/>
<rect x="1025" y="584" width="3" height="1" fill="#c0c0c0"/>
<rect x="1031" y="584" width="3" height="1" fill="#c0c0c0"/>
<rect x="1037" y="584" width="3" height="1" fill="#c0c0c0"/>
<rect x="1043" y="584" width="3" height="1" fill="#c0c0c0"/>
<rect x="1049" y="584" width="3" height="1" fill="#c0c0c0"/>
<rect x="1055" y="584" width="3" height="1" fill="#c0c0c0"/>
<rect x="1061" y="584" width="3" height="1" fill="#c0c0c0"/>
<rect x="1067" y="584" width="3" height="1" fill="#c0c0c0"/>
<rect x="1073" y="584" width="3" height="1" fill="#c0c0c0"/>
<rect x="1079" y="584" width="3" height="1" fill="#c0c0c0"/>
<rect x="1085" y="584" width="3" height="1" fill="#c0c0c0"/>
<rect x="1091" y="584" width="3" height="1" fill="#c0c0c0"/>
<rect x="1097" y="584" width="3" height="1" fill="#c0c0c0"/>
<rect x="1103" y="584" width="3" height="1" fill="#c0c0c0"/>
<rect x="1109" y="584" width="3" height="1" fill="#c0c0c0"/>
<rect x="1115" y="584" width="3" height="1" fill="#c0c0c0"/>
<rect x="1121" y="584" width="3" height="1" fill="#c0c0c0"/>
<rect x="1127" y="584" width="3" height="1" fill="#c0c0c0"/>
<rect x="1133" y="584" width="3" height="1" fill="#c0c0c0"/>
<rect x="1139" y="584" width="3" height="1" fill="#c0c0c0"/>
<rect x="1145" y="584" width="3" height="1" fill="#c0c0c0"/>
<rect x="1151" y="584" width="3" height="1" fill="#c0c0c0"/>
<rect x="1157" y="584" width="3" height="1" fill="#c0c0c0"/>
<rect x="1163" y="584" width="3" height="1" fill="#c0c0c0"/>
<rect x="1169" y="584" width="3" height="1" fill="#c0c0c0"/>
<rect x="1175" y="584" width="3" height="1" fill="#c0c0c0"/>
<rect x="1181" y="584" width="3" height="1" fill="#c0c0c0"/>
<rect x="1187" y="584" width="3" height="1" fill="#c0c0c0"/>
<rect x="1193" y="584" width="3" height="1" fill="#c0c0c0"/>
<rect x="1199" y="584" width="3" height="1" fill="#c0c0c0"/>
<rect x="1205" y="584" width="3" height="1" fill="#c0c0c0"/>
<rect x="1211" y="584" width="3" height="1" fill="#c0c0c0"/>
<rect x="1217" y="584" width="3" height="1" fill="#c0c0c0"/>
<rect x="1223" y="584" width="3" height="1" fill="#c0c0c0"/>
<rect x="1229" y="584" width="3" height="1" fill="#c0c0c0"/>
<rect x="1235" y="584" width="3" height="1" fill="#c0c0c0"/>
<rect x="1241" y="584" width="3" height="1" fill="#c0c0c0"/>
<rect x="1247" y="584" width="3" height="1" fill="#c0c0c0"/>
<rect x="1253" y="584" width="3" height="1" fill="#c0c0c0"/>
<rect x="1259" y="584" width="3" height="1" fill="#c0c0c0"/>
<rect x="1265" y="584" width="3" height="1" fill="#c0c0c0"/>
<rect x="1271" y="584" width="3" height="1" fill="#c0c0c0"/>
<rect x="1277" y="584" width="3" height="1" fill="#c0c0c0"/>
<rect x="1283" y="584" width="3" height="1" fill="#c0c0c0"/>
<rect x="1289" y="584" width="3" height="1" fill="#c0c0c0"/>
<rect x="1295" y="584" width="3" height="1" fill="#c0c0c0"/>
<rect x="1301" y="584" width="3" height="1" fill="#c0c0c0"/>
<rect x="1307" y="584" width="3" height="1" fill="#c0c0c0"/>
<rect x="1313" y="584" width="3" height="1" fill="#c0c0c0"/>
<rect x="1319" y="584" width="3" height="1" fill="#c0c0c0"/>
<rect x="1325" y="584" width="3" height="1" fill="#c0c0c0"/>
<rect x="1331" y="584" width="3" height="1" fill="#c0c0c0"/>
<rect x="1337" y="584" width="3" height="1" fill="#c0c0c0"/>
<rect x="1343" y="584" width="3" height="1" fill="#c0c0c0"/>
<rect x="1349" y="584" width="3" height="1" fill="#c0c0c0"/>
<rect x="1355" y="584" width="3" height="1" fill="#c0c0c0"/>
<rect x="1361" y="584" width="3" height="1" fill="#c0c0c0"/>
<rect x="1367" y="584" width="3" height="1" fill="#c0c0c0"/>
<rect x="1373" y="584" width="3" height="1" fill="#c0c0c0"/>
<rect x="1379" y="584" width="3" height="1" fill="#c0c0c0"/>
<rect x="1385" y="584" width="3" height="1" fill="#c0c0c0"/>
<rect x="1391" y="584" width="3" height="1" fill="#c0c0c0"/>
<rect x="1397" y="584" width="3" height="1" fill="#c0c0c0"/>
<rect x="1403" y="584" width="3" height="1" fill="#c0c0c0"/>
<rect x="1409" y="584" width="3" height="1" fill="#c0c0c0"/>
<rect x="1415" y="584" width="3" height="1" fill="#c0c0c0"/>
<rect x="1421" y="584" width="3" height="1" fill="#c0c0c0"/>
<rect x="1427" y="584" width="3" height="1" fill="#c0c0c0"/>
<rect x="1433" y="584" width="3" height="1" fill="#c0c0c0"/>
<rect x="1439" y="584" width="3" height="1" fill="#c0c0c0"/>
<rect x="1445" y="584" width="3" height="1" fill="#c0c0c0"/>
<rect x="1451" y="584" width="3" height="1" fill="#c0c0c0"/>
<rect x="1457" y="584" width="3" height="1" fill="#c0c0c0"/>
<rect x="1463" y="584" width="3" height="1" fill="#c0c0c0"/>
<rect x="1469" y="584" width="3" height="1" fill="#c0c0c0"/>
<rect x="1475" y="584" width="3" height="1" fill="#c0c0c0"/>
<rect x="1481" y="584" width="3" height="1" fill="#c0c0c0"/>
<rect x="1487" y="584" width="3" height="1" fill="#c0c0c0"/>
<rect x="1493" y="584" width="3" height="1" fill="#c0c0c0"/>
<rect x="1499" y="584" width="3" height="1" fill="#c0c0c0"/>
<rect x="1505" y="584" width="3" height="1" fill="#c0c0c0"/>
<rect x="1511" y="584" width="3" height="1" fill="#c0c0c0"/>
<rect x="1517" y="584" width="3" height="1" fill="#c0c0c0"/>
<rect x="1523" y="584" width="3" height="1" fill="#c0c0c0"/>
<rect x="1529" y="584" width="3" height="1" fill="#c0c0c0"/>
<rect x="1535" y="584" width="3" height="1" fill="#c0c0c0"/>
<rect x="1541" y="584" width="3" height="1" fill="#c0c0c0"/>
<rect x="1547" y="584" width="3" height="1" fill="#c0c0c0"/>
<rect x="1553" y="584" width="3" height="1" fill="#c0c0c0"/>
<rect x="1559" y="584" width="3" height="1" fill="#c0c0c0"/>
<rect x="1565" y="584" width="3" height="1" fill="#c0c0c0"/>
<rect x="1571" y="584" width="3" height="1" fill="#c0c0c0"/>
<rect x="1577" y="584" width="3" height="1" fill="#c0c0c0"/>
<rect x="5" y="621" width="3" height="1" fill="#c0c0c0"/>
<rect x="11" y="621" width="3" height="1" fill="#c0c0c0"/>
<rect x="17" y="621" width="3" height="1" fill="#c0c0c0"/>
<rect x="23" y="621" width="3" height="1" fill="#c0c0c0"/>
<rect x="29" y="621" width="3" height="1" fill="#c0c0c0"/>
<rect x="35" y="621" width="3" height="1" fill="#c0c0c0"/>
<rect x="41" y="621" width="3" height="1" fill="#c0c0c0"/>
<rect x="47" y="621" width="3" height="1" fill="#c0c0c0"/>
<rect x="53" y="621" width="3" height="1" fill="#c0c0c0"/>
<rect x="59" y="621" width="3" height="1" fill="#c0c0c0"/>
<rect x="65" y="621" width="3" height="1" fill="#c0c0c0"/>
<rect x="71" y="621" width="3" height="1" fill="#c0c0c0"/>
<rect x="77" y="621" width="3" height="1" fill="#c0c0c0"/>
<rect x="83" y="621" width="3" height="1" fill="#c0c0c0"/>
<rect x="89" y="621" width="3" height="1" fill="#c0c0c0"/>
<rect x="95" y="621" width="3" height="1" fill="#c0c0c0"/>
<rect x="101" y="621" width="3" height="1" fill="#c0c0c0"/>
<rect x="107" y="621" width="3" height="1" fill="#c0c0c0"/>
<rect x="113" y="621" width="3" height="1" fill="#c0c0c0"/>
<rect x="119" y="621" width="3" height="1" fill="#c0c0c0"/>
<rect x="125" y="621" width="3" height="1" fill="#c0c0c0"/>
<rect x="131" y="621" width="3" height="1" fill="#c0c0c0"/>
<rect x="137" y="621" width="3" height="1" fill="#c0c0c0"/>
<rect x="143" y="621" width="3" height="1" fill="#c0c0c0"/>
<rect x="149" y="621" width="3" height="1" fill="#c0c0c0"/>
<rect x="155" y="621" width="3" height="1" fill="#c0c0c0"/>
<rect x="161" y="621" width="3" height="1" fill="#c0c0c0"/>
<rect x="167" y="621" width="3" height="1" fill="#c0c0c0"/>
<rect x="173" y="621" width="3" height="1" fill="#c0c0c0"/>
<rect x="179" y="621" width="3" height="1" fill="#c0c0c0"/>
<rect x="185" y="621" width="3" height="1" fill="#c0c0c0"/>
<rect x="191" y="621" width="3" height="1" fill="#c0c0c0"/>
<rect x="197" y="621" width="3" height="1" fill="#c0c0c0"/>
<rect x="203" y="621" width="3" height="1" fill="#c0c0c0"/>
<rect x="209" y="621" width="3" height="1" fill="#c0c0c0"/>
<rect x="215" y="621" width="3" height="1" fill="#c0c0c0"/>
<rect x="221" y="621" width="3" height="1" fill="#c0c0c0"/>
<rect x="227" y="621" width="3" height="1" fill="#c0c0c0"/>
<rect x="233" y="621" width="3" height="1" fill="#c0c0c0"/>
<rect x="239" y="621" width="3" height="1" fill="#c0c0c0"/>
<rect x="245" y="621" width="3" height="1" fill="#c0c0c0"/>
<rect x="251" y="621" width="3" height="1" fill="#c0c0c0"/>
<rect x="257" y="621" width="3" height="1" fill="#c0c0c0"/>
<rect x="263" y="621" width="3" height="1" fill="#c0c0c0"/>
<rect x="269" y="621" width="3" height="1" fill="#c0c0c0"/>
<rect x="275" y="621" width="3" height="1" fill="#c0c0c0"/>
<rect x="281" y="621" width="3" height="1" fill="#c0c0c0"/>
<rect x="287" y="621" width="3" height="1" fill="#c0c0c0"/>
<rect x="293" y="621" width="3" height="1" fill="#c0c0c0"/>
<rect x="299" y="621" width="3" height="1" fill="#c0c0c0"/>
<rect x="305" y="621" width="3" height="1" fill="#c0c0c0"/>
<rect x="311" y="621" width="3" height="1" fill="#c0c0c0"/>
<rect x="317" y="621" width="3" height="1" fill="#c0c0c0"/>
<rect x="323" y="621" width="3" height="1" fill="#c0c0c0"/>
<rect x="329" y="621" width="3" height="1" fill="#c0c0c0"/>
<rect x="335" y="621" width="3" height="1" fill="#c0c0c0"/>
<rect x="341" y="621" width="3" height="1" fill="#c0c0c0"/>
<rect x="347" y="621" width="3" height="1" fill="#c0c0c0"/>
<rect x="353" y="621" width="3" height="1" fill="#c0c0c0"/>
<rect x="359" y="621" width="3" height="1" fill="#c0c0c0"/>
<rect x="365" y="621" width="3" height="1" fill="#c0c0c0"/>
<rect x="371" y="621" width="3" height="1" fill="#c0c0c0"/>
<rect x="377" y="621" width="3" height="1" fill="#c0c0c0"/>
<rect x="383" y="621" width="3" height="1" fill="#c0c0c0"/>
<rect x="389" y="621" width="3" height="1" fill="#c0c0c0"/>
<rect x="395" y="621" width="3" height="1" fill="#c0c0c0"/>
<rect x="401" y="621" width="3" height="1" fill="#c0c0c0"/>
<rect x="407" y="621" width="3" height="1" fill="#c0c0c0"/>
<rect x="413" y="621" width="3" height="1" fill="#c0c0c0"/>
<rect x="419" y="621" width="3" height="1" fill="#c0c0c0"/>
<rect x="425" y="621" width="3" height="1" fill="#c0c0c0"/>
<rect x="431" y="621" width="3" height="1" fill="#c0c0c0"/>
<rect x="437" y="621" width="3" height="1" fill="#c0c0c0"/>
<rect x="443" y="621" width="3" height="1" fill="#c0c0c0"/>
<rect x="449" y="621" width="3" height="1" fill="#c0c0c0"/>
<rect x="455" y="621" width="3" height="1" fill="#c0c0c0"/>
<rect x="461" y="621" width="3" height="1" fill="#c0c0c0"/>
<rect x="467" y="621" width="3" height="1" fill="#c0c0c0"/>
<rect x="473" y="621" width="3" height="1" fill="#c0c0c0"/>
<rect x="479" y="621" width="3" height="1" fill="#c0c0c0"/>
<rect x="485" y="621" width="3" height="1" fill="#c0c0c0"/>
<rect x="491" y="621" width="3" height="1" fill="#c0c0c0"/>
<rect x="497" y="621" width="3" height="1" fill="#c0c0c0"/>
<rect x="503" y="621" width="3" height="1" fill="#c0c0c0"/>
<rect x="509" y="621" width="3" height="1" fill="#c0c0c0"/>
<rect x="515" y="621" width="3" height="1" fill="#c0c0c0"/>
<rect x="521" y="621" width="3" height="1" fill="#c0c0c0"/>
<rect x="527" y="621" width="3" height="1" fill="#c0c0c0"/>
<rect x="533" y="621" width="3" height="1" fill="#c0c0c0"/>
<rect x="539" y="621" width="3" height="1" fill="#c0c0c0"/>
<rect x="545" y="621" width="3" height="1" fill="#c0c0c0"/>
<rect x="551" y="621" width="3" height="1" fill="#c0c0c0"/>
<rect x="557" y="621" width="3" height="1" fill="#c0c0c0"/>
<rect x="563" y="621" width="3" height="1" fill="#c0c0c0"/>
<rect x="569" y="621" width="3" height="1" fill="#c0c0c0"/>
<rect x="575" y="621" width="3" height="1" fill="#c0c0c0"/>
<rect x="581" y="621" width="3" height="1" fill="#c0c0c0"/>
<rect x="587" y="621" width="3" height="1" fill="#c0c0c0"/>
<rect x="593" y="621" width="3" height="1" fill="#c0c0c0"/>
<rect x="599" y="621" width="3" height="1" fill="#c0c0c0"/>
<rect x="605" y="621" width="3" height="1" fill="#c0c0c0"/>
<rect x="611" y="621" width="3" height="1" fill="#c0c0c0"/>
<rect x="617" y="621" width="3" height="1" fill="#c0c0c0"/>
<rect x="623" y="621" width="3" height="1" fill="#c0c0c0"/>
<rect x="629" y="621" width="3" height="1" fill="#c0c0c0"/>
<rect x="635" y="621" width="3" height="1" fill="#c0c0c0"/>
<rect x="641" y="621" width="3" height="1" fill="#c0c0c0"/>
<rect x="647" y="621" width="3" height="1" fill="#c0c0c0"/>
<rect x="653" y="621" width="3" height="1" fill="#c0c0c0"/>
<rect x="659" y="621" width="3" height="1" fill="#c0c0c0"/>
<rect x="665" y="621" width="3" height="1" fill="#c0c0c0"/>
<rect x="671" y="621" width="3" height="1" fill="#c0c0c0"/>
<rect x="677" y="621" width="3" height="1" fill="#c0c0c0"/>
<rect x="683" y="621" width="3" height="1" fill="#c0c0c0"/>
<rect x="689" y="621" width="3" height="1" fill="#c0c0c0"/>
<rect x="695" y="621" width="3" height="1" fill="#c0c0c0"/>
<rect x="701" y="621" width="3" height="1" fill="#c0c0c0"/>
<rect x="707" y="621" width="3" height="1" fill="#c0c0c0"/>
<rect x="713" y="621" width="3" height="1" fill="#c0c0c0"/>
<rect x="719" y="621" width="3" height="1" fill="#c0c0c0"/>
<rect x="725" y="621" width="3" height="1" fill="#c0c0c0"/>
<rect x="731" y="621" width="3" height="1" fill="#c0c0c0"/>
<rect x="737" y="621" width="3" height="1" fill="#c0c0c0"/>
<rect x="743" y="621" width="3" height="1" fill="#c0c0c0"/>
<rect x="749" y="621" width="3" height="1" fill="#c0c0c0"/>
<rect x="755" y="621" width="3" height="1" fill="#c0c0c0"/>
<rect x="761" y="621" width="3" height="1" fill="#c0c0c0"/>
<rect x="767" y="621" width="3" height="1" fill="#c0c0c0"/>
<rect x="773" y="621" width="3" height="1" fill="#c0c0c0"/>
<rect x="779" y="621" width="3" height="1" fill="#c0c0c0"/>
<rect x="785" y="621" width="3" height="1" fill="#c0c0c0"/>
<rect x="791" y="621" width="3" height="1" fill="#c0c0c0"/>
<rect x="797" y="621" width="3" height="1" fill="#c0c0c0"/>
<rect x="803" y="621" width="3" height="1" fill="#c0c0c0"/>
<rect x="809" y="621" width="3" height="1" fill="#c0c0c0"/>
<rect x="815" y="621" width="3" height="1" fill="#c0c0c0"/>
<rect x="821" y="621" width="3" height="1" fill="#c0c0c0"/>
<rect x="827" y="621" width="3" height="1" fill="#c0c0c0"/>
<rect x="833" y="621" width="3" height="1" fill="#c0c0c0"/>
<rect x="839" y="621" width="3" height="1" fill="#c0c0c0"/>
<rect x="845" y="621" width="3" height="1" fill="#c0c0c0"/>
<rect x="851" y="621" width="3" height="1" fill="#c0c0c0"/>
<rect x="857" y="621" width="3" height="1" fill="#c0c0c0"/>
<rect x="863" y="621" width="3" height="1" fill="#c0c0c0"/>
<rect x="869" y="621" width="3" height="1" fill="#c0c0c0"/>
<rect x="875" y="621" width="3" height="1" fill="#c0c0c0"/>
<rect x="881" y="621" width="3" height="1" fill="#c0c0c0"/>
<rect x="887" y="621" width="3" height="1" fill="#c0c0c0"/>
<rect x="893" y="621" width="3" height="1" fill="#c0c0c0"/>
<rect x="899" y="621" width="3" height="1" fill="#c0c0c0"/>
<rect x="905" y="621" width="3" height="1" fill="#c0c0c0"/>
<rect x="911" y="621" width="3" height="1" fill="#c0c0c0"/>
<rect x="917" y="621" width="3" height="1" fill="#c0c0c0"/>
<rect x="923" y="621" width="3" height="1" fill="#c0c0c0"/>
<rect x="929" y="621" width="3" height="1" fill="#c0c0c0"/>
<rect x="935" y="621" width="3" height="1" fill="#c0c0c0"/>
<rect x="941" y="621" width="3" height="1" fill="#c0c0c0"/>
<rect x="947" y="621" width="3" height="1" fill="#c0c0c0"/>
<rect x="953" y="621" width="3" height="1" fill="#c0c0c0"/>
<rect x="959" y="621" width="3" height="1" fill="#c0c0c0"/>
<rect x="965" y="621" width="3" height="1" fill="#c0c0c0"/>
<rect x="971" y="621" width="3" height="1" fill="#c0c0c0"/>
<rect x="977" y="621" width="3" height="1" fill="#c0c0c0"/>
<rect x="983" y="621" width="3" height="1" fill="#c0c0c0"/>
<rect x="989" y="621" width="3" height="1" fill="#c0c0c0"/>
<rect x="995" y="621" width="3" height="1" fill="#c0c0c0"/>
<rect x="1001" y="621" width="3" height="1" fill="#c0c0c0"/>
<rect x="1007" y="621" width="3" height="1" fill="#c0c0c0"/>
<rect x="1013" y="621" width="3" height="1" fill="#c0c0c0"/>
<rect x="1019" y="621" width="3" height="1" fill="#c0c0c0"/>
<rect x="1025" y="621" width="3" height="1" fill="#c0c0c0"/>
<rect x="1031" y="621" width="3" height="1" fill="#c0c0c0"/>
<rect x="1037" y="621" width="3" height="1" fill="#c0c0c0"/>
<rect x="1043" y="621" width="3" height="1" fill="#c0c0c0"/>
<rect x="1049" y="621" width="3" height="1" fill="#c0c0c0"/>
<rect x="1055" y="621" width="3" height="1" fill="#c0c0c0"/>
<rect x="1061" y="621" width="3" height="1" fill="#c0c0c0"/>
<rect x="1067" y="621" width="3" height="1" fill="#c0c0c0"/>
<rect x="1073" y="621" width="3" height="1" fill="#c0c0c0"/>
<rect x="1079" y="621" width="3" height="1" fill="#c0c0c0"/>
<rect x="1085" y="621" width="3" height="1" fill="#c0c0c0"/>
<rect x="1091" y="621" width="3" height="1" fill="#c0c0c0"/>
<rect x="1097" y="621" width="3" height="1" fill="#c0c0c0"/>
<rect x="1103" y="621" width="3" height="1" fill="#c0c0c0"/>
<rect x="1109" y="621" width="3" height="1" fill="#c0c0c0"/>
<rect x="1115" y="621" width="3" height="1" fill="#c0c0c0"/>
<rect x="1121" y="621" width="3" height="1" fill="#c0c0c0"/>
<rect x="1127" y="621" width="3" height="1" fill="#c0c0c0"/>
<rect x="1133" y="621" width="3" height="1" fill="#c0c0c0"/>
<rect x="1139" y="621" width="3" height="1" fill="#c0c0c0"/>
<rect x="1145" y="621" width="3" height="1" fill="#c0c0c0"/>
<rect x="1151" y="621" width="3" height="1" fill="#c0c0c0"/>
<rect x="1157" y="621" width="3" height="1" fill="#c0c0c0"/>
<rect x="1163" y="621" width="3" height="1" fill="#c0c0c0"/>
<rect x="1169" y="621" width="3" height="1" fill="#c0c0c0"/>
<rect x="1175" y="621" width="3" height="1" fill="#c0c0c0"/>
<rect x="1181" y="621" width="3" height="1" fill="#c0c0c0"/>
<rect x="1187" y="621" width="3" height="1" fill="#c0c0c0"/>
<rect x="1193" y="621" width="3" height="1" fill="#c0c0c0"/>
<rect x="1199" y="621" width="3" height="1" fill="#c0c0c0"/>
<rect x="1205" y="621" width="3" height="1" fill="#c0c0c0"/>
<rect x="1211" y="621" width="3" height="1" fill="#c0c0c0"/>
<rect x="1217" y="621" width="3" height="1" fill="#c0c0c0"/>
<rect x="1223" y="621" width="3" height="1" fill="#c0c0c0"/>
<rect x="1229" y="621" width="3" height="1" fill="#c0c0c0"/>
<rect x="1235" y="621" width="3" height="1" fill="#c0c0c0"/>
<rect x="1241" y="621" width="3" height="1" fill="#c0c0c0"/>
<rect x="1247" y="621" width="3" height="1" fill="#c0c0c0"/>
<rect x="1253" y="621" width="3" height="1" fill="#c0c0c0"/>
<rect x="1259" y="621" width="3" height="1" fill="#c0c0c0"/>
<rect x="1265" y="621" width="3" height="1" fill="#c0c0c0"/>
<rect x="1271" y="621" width="3" height="1" fill="#c0c0c0"/>
<rect x="1277" y="621" width="3" height="1" fill="#c0c0c0"/>
<rect x="1283" y="621" width="3" height="1" fill="#c0c0c0"/>
<rect x="1289" y="621" width="3" height="1" fill="#c0c0c0"/>
<rect x="1295" y="621" width="3" height="1" fill="#c0c0c0"/>
<rect x="1301" y="621" width="3" height="1" fill="#c0c0c0"/>
<rect x="1307" y="621" width="3" height="1" fill="#c0c0c0"/>
<rect x="1313" y="621" width="3" height="1" fill="#c0c0c0"/>
<rect x="1319" y="621" width="3" height="1" fill="#c0c0c0"/>
<rect x="1325" y="621" width="3" height="1" fill="#c0c0c0"/>
<rect x="1331" y="621" width="3" height="1" fill="#c0c0c0"/>
<rect x="1337" y="621" width="3" height="1" fill="#c0c0c0"/>
<rect x="1343" y="621" width="3" height="1" fill="#c0c0c0"/>
<rect x="1349" y="621" width="3" height="1" fill="#c0c0c0"/>
<rect x="1355" y="621" width="3" height="1" fill="#c0c0c0"/>
<rect x="1361" y="621" width="3" height="1" fill="#c0c0c0"/>
<rect x="1367" y="621" width="3" height="1" fill="#c0c0c0"/>
<rect x="1373" y="621" width="3" height="1" fill="#c0c0c0"/>
<rect x="1379" y="621" width="3" height="1" fill="#c0c0c0"/>
<rect x="1385" y="621" width="3" height="1" fill="#c0c0c0"/>
<rect x="1391" y="621" width="3" height="1" fill="#c0c0c0"/>
<rect x="1397" y="621" width="3" height="1" fill="#c0c0c0"/>
<rect x="1403" y="621" width="3" height="1" fill="#c0c0c0"/>
<rect x="1409" y="621" width="3" height="1" fill="#c0c0c0"/>
<rect x="1415" y="621" width="3" height="1" fill="#c0c0c0"/>
<rect x="1421" y="621" width="3" height="1" fill="#c0c0c0"/>
<rect x="1427" y="621" width="3" height="1" fill="#c0c0c0"/>
<rect x="1433" y="621" width="3" height="1" fill="#c0c0c0"/>
<rect x="1439" y="621" width="3" height="1" fill="#c0c0c0"/>
<rect x="1445" y="621" width="3" height="1" fill="#c0c0c0"/>
<rect x="1451" y="621" width="3" height="1" fill="#c0c0c0"/>
<rect x="1457" y="621" width="3" height="1" fill="#c0c0c0"/>
<rect x="1463" y="621" width="3" height="1" fill="#c0c0c0"/>
<rect x="1469" y="621" width="3" height="1" fill="#c0c0c0"/>
<rect x="1475" y="621" width="3" height="1" fill="#c0c0c0"/>
<rect x="1481" y="621" width="3" height="1" fill="#c0c0c0"/>
<rect x="1487" y="621" width="3" height="1" fill="#c0c0c0"/>
<rect x="1493" y="621" width="3" height="1" fill="#c0c0c0"/>
<rect x="1499" y="621" width="3" height="1" fill="#c0c0c0"/>
<rect x="1505" y="621" width="3" height="1" fill="#c0c0c0"/>
<rect x="1511" y="621" width="3" height="1" fill="#c0c0c0"/>
<rect x="1517" y="621" width="3" height="1" fill="#c0c0c0"/>
<rect x="1523" y="621" width="3" height="1" fill="#c0c0c0"/>
<rect x="1529" y="621" width="3" height="1" fill="#c0c0c0"/>
<rect x="1535" y="621" width="3" height="1" fill="#c0c0c0"/>
<rect x="1541" y="621" width="3" height="1" fill="#c0c0c0"/>
<rect x="1547" y="621" width="3" height="1" fill="#c0c0c0"/>
<rect x="1553" y="621" width="3" height="1" fill="#c0c0c0"/>
<rect x="1559" y="621" width="3" height="1" fill="#c0c0c0"/>
<rect x="1565" y="621" width="3" height="1" fill="#c0c0c0"/>
<rect x="1571" y="621" width="3" height="1" fill="#c0c0c0"/>
<rect x="1577" y="621" width="3" height="1" fill="#c0c0c0"/>
<path d="M1168 574.5h1M1160 575.5h3M1166 575.5h3M1159 576.5h1M1163 576.5h3M1169 576.5h1M1157 577.5h2M1169 577.5h1M1156 578.5h1M1170 578.5h1M1155 579.5h1M1170 579.5h1M1154 580.5h1M1171 580.5h1M1153 581.5h1M1171 581.5h1M1175 581.5h2M1152 582.5h1M1172 582.5h3M1176 582.5h1M616 583.5h3M1060 583.5h1M1150 583.5h2M1177 583.5h1M615 584.5h1M619 584.5h2M1059 584.5h1M1061 584.5h1M1128 584.5h1M1147 584.5h3M1177 584.5h1M1244 584.5h2M613 585.5h2M621 585.5h1M1058 585.5h1M1061 585.5h1M1127 585.5h2M1144 585.5h3M1178 585.5h1M1228 585.5h6M1243 585.5h1M1246 585.5h2M612 586.5h1M621 586.5h1M1057 586.5h1M1062 586.5h1M1127 586.5h1M1129 586.5h1M1143 586.5h1M1178 586.5h1M1227 586.5h1M1234 586.5h2M1242 586.5h1M1248 586.5h2M610 587.5h2M622 587.5h1M1052 587.5h5M1063 587.5h1M1126 587.5h1M1129 587.5h1M1141 587.5h2M1179 587.5h1M1184 587.5h7M1225 587.5h2M1236 587.5h3M1241 587.5h1M1250 587.5h2M1255 587.5h2M608 588.5h2M622 588.5h1M1051 588.5h1M1063 588.5h1M1126 588.5h1M1130 588.5h1M1140 588.5h1M1179 588.5h1M1182 588.5h2M1191 588.5h2M1208 588.5h2M1224 588.5h1M1239 588.5h2M1252 588.5h3M607 589.5h1M623 589.5h1M1050 589.5h1M1064 589.5h3M1125 589.5h1M1130 589.5h1M1139 589.5h1M1180 589.5h2M1193 589.5h1M1206 589.5h2M1210 589.5h2M1222 589.5h2M605 590.5h2M623 590.5h1M1049 590.5h1M1067 590.5h3M1125 590.5h1M1131 590.5h1M1137 590.5h2M1194 590.5h1M1200 590.5h6M1212 590.5h1M1220 590.5h2M604 591.5h1M624 591.5h1M1048 591.5h1M1070 591.5h2M1124 591.5h1M1131 591.5h1M1136 591.5h1M1195 591.5h1M1198 591.5h2M1212 591.5h1M1220 591.5h1M603 592.5h1M625 592.5h1M1047 592.5h1M1072 592.5h1M1124 592.5h1M1132 592.5h1M1134 592.5h2M1196 592.5h2M1213 592.5h1M1219 592.5h1M602 593.5h1M626 593.5h1M744 593.5h1M1047 593.5h1M1072 593.5h1M1123 593.5h1M1132 593.5h2M1213 593.5h1M1219 593.5h1M601 594.5h1M626 594.5h1M743 594.5h2M1046 594.5h1M1073 594.5h1M1104 594.5h2M1122 594.5h1M1214 594.5h1M1218 594.5h1M16 595.5h3M88 595.5h3M95 595.5h3M600 595.5h1M627 595.5h1M741 595.5h2M745 595.5h1M1046 595.5h1M1073 595.5h1M1104 595.5h1M1106 595.5h2M1122 595.5h1M1214 595.5h1M1218 595.5h1M15 596.5h1M19 596.5h6M86 596.5h2M91 596.5h4M98 596.5h2M103 596.5h2M599 596.5h1M628 596.5h1M732 596.5h9M745 596.5h1M776 596.5h1M1045 596.5h1M1074 596.5h1M1103 596.5h1M1108 596.5h1M1121 596.5h1M1215 596.5h1M1217 596.5h1M13 597.5h2M25 597.5h1M84 597.5h2M100 597.5h3M104 597.5h1M128 597.5h5M555 597.5h2M599 597.5h1M629 597.5h1M732 597.5h1M746 597.5h1M775 597.5h1M777 597.5h1M976 597.5h1M1045 597.5h1M1074 597.5h1M1103 597.5h1M1109 597.5h2M1116 597.5h5M1215 597.5h1M1217 597.5h1M12 598.5h1M26 598.5h1M82 598.5h2M105 598.5h1M126 598.5h2M133 598.5h1M552 598.5h3M557 598.5h1M598 598.5h1M630 598.5h1M640 598.5h5M731 598.5h1M746 598.5h1M774 598.5h1M778 598.5h1M975 598.5h1M977 598.5h1M996 598.5h3M1044 598.5h1M1074 598.5h1M1103 598.5h1M1111 598.5h1M1114 598.5h2M1216 598.5h1M11 599.5h1M26 599.5h1M80 599.5h2M105 599.5h1M124 599.5h2M134 599.5h1M156 599.5h3M172 599.5h1M544 599.5h1M551 599.5h1M558 599.5h1M598 599.5h1M631 599.5h1M639 599.5h1M645 599.5h1M731 599.5h1M746 599.5h1M773 599.5h1M779 599.5h1M816 599.5h1M975 599.5h1M978 599.5h1M994 599.5h2M999 599.5h2M1042 599.5h2M1075 599.5h1M1102 599.5h1M1112 599.5h2M1216 599.5h1M9 600.5h2M27 600.5h1M31 600.5h2M78 600.5h2M106 600.5h1M123 600.5h1M134 600.5h1M143 600.5h2M155 600.5h1M159 600.5h6M171 600.5h2M184 600.5h6M543 600.5h1M545 600.5h2M550 600.5h1M558 600.5h1M597 600.5h1M632 600.5h3M637 600.5h2M645 600.5h1M730 600.5h1M747 600.5h1M772 600.5h1M780 600.5h3M815 600.5h1M817 600.5h2M974 600.5h1M979 600.5h1M991 600.5h3M1001 600.5h1M1008 600.5h1M1032 600.5h2M1040 600.5h2M1075 600.5h1M1102 600.5h1M8 601.5h1M28 601.5h3M33 601.5h1M60 601.5h1M76 601.5h2M106 601.5h1M123 601.5h1M135 601.5h1M139 601.5h4M145 601.5h1M153 601.5h2M165 601.5h2M170 601.5h1M173 601.5h1M182 601.5h2M190 601.5h2M542 601.5h1M547 601.5h1M549 601.5h1M559 601.5h1M597 601.5h1M635 601.5h2M646 601.5h1M660 601.5h1M730 601.5h1M747 601.5h1M770 601.5h2M783 601.5h10M813 601.5h2M819 601.5h1M974 601.5h1M980 601.5h2M988 601.5h3M1002 601.5h1M1007 601.5h1M1009 601.5h1M1031 601.5h1M1034 601.5h2M1038 601.5h2M1076 601.5h1M1101 601.5h1M7 602.5h1M34 602.5h1M59 602.5h1M61 602.5h2M68 602.5h3M74 602.5h2M106 602.5h1M122 602.5h1M136 602.5h3M146 602.5h1M152 602.5h1M167 602.5h1M169 602.5h1M173 602.5h1M180 602.5h2M192 602.5h1M542 602.5h1M548 602.5h1M560 602.5h1M596 602.5h1M646 602.5h1M658 602.5h3M688 602.5h3M729 602.5h1M748 602.5h1M768 602.5h2M793 602.5h2M804 602.5h3M811 602.5h2M820 602.5h1M973 602.5h1M982 602.5h2M986 602.5h2M1003 602.5h1M1005 602.5h2M1009 602.5h1M1024 602.5h2M1030 602.5h1M1036 602.5h2M1076 602.5h1M1101 602.5h1M5 603.5h2M35 603.5h1M48 603.5h1M58 603.5h1M63 603.5h1M66 603.5h2M71 603.5h3M107 603.5h1M122 603.5h1M147 603.5h1M150 603.5h2M168 603.5h1M174 603.5h1M179 603.5h1M193 603.5h1M200 603.5h1M536 603.5h3M541 603.5h1M561 603.5h1M596 603.5h1M647 603.5h1M656 603.5h2M661 603.5h1M686 603.5h2M691 603.5h2M729 603.5h1M748 603.5h3M768 603.5h1M795 603.5h1M803 603.5h1M807 603.5h4M821 603.5h1M973 603.5h1M984 603.5h2M1004 603.5h1M1010 603.5h1M1023 603.5h1M1026 603.5h2M1029 603.5h1M1077 603.5h1M1091 603.5h2M1101 603.5h1M4 604.5h1M36 604.5h3M46 604.5h2M49 604.5h1M57 604.5h1M64 604.5h2M107 604.5h1M121 604.5h1M148 604.5h2M174 604.5h1M179 604.5h1M194 604.5h1M199 604.5h1M201 604.5h1M535 604.5h1M539 604.5h2M562 604.5h1M588 604.5h3M594 604.5h2M647 604.5h1M654 604.5h2M661 604.5h1M676 604.5h2M684 604.5h2M692 604.5h1M728 604.5h1M751 604.5h2M767 604.5h1M796 604.5h3M801 604.5h2M822 604.5h1M972 604.5h1M1011 604.5h1M1022 604.5h1M1028 604.5h1M1078 604.5h1M1088 604.5h3M1093 604.5h1M1100 604.5h1M39 605.5h7M50 605.5h1M56 605.5h1M108 605.5h1M121 605.5h1M174 605.5h1M178 605.5h1M194 605.5h1M198 605.5h1M201 605.5h1M368 605.5h2M534 605.5h1M562 605.5h1M568 605.5h5M587 605.5h1M591 605.5h3M648 605.5h6M662 605.5h1M675 605.5h1M678 605.5h2M682 605.5h2M693 605.5h1M728 605.5h1M753 605.5h1M767 605.5h1M799 605.5h2M823 605.5h1M927 605.5h2M972 605.5h1M1011 605.5h1M1021 605.5h1M1079 605.5h1M1086 605.5h2M1094 605.5h1M1100 605.5h1M50 606.5h1M55 606.5h1M108 606.5h1M120 606.5h1M175 606.5h1M178 606.5h1M195 606.5h1M197 606.5h1M202 606.5h1M312 606.5h1M368 606.5h1M370 606.5h2M496 606.5h3M534 606.5h1M563 606.5h1M566 606.5h2M573 606.5h2M580 606.5h3M585 606.5h2M662 606.5h1M675 606.5h1M680 606.5h2M693 606.5h1M727 606.5h1M753 606.5h1M767 606.5h1M824 606.5h1M924 606.5h3M929 606.5h1M971 606.5h1M1012 606.5h2M1020 606.5h1M1080 606.5h6M1095 606.5h1M1098 606.5h2M51 607.5h1M53 607.5h2M109 607.5h1M120 607.5h1M175 607.5h1M177 607.5h1M196 607.5h1M203 607.5h1M232 607.5h3M260 607.5h1M311 607.5h1M313 607.5h2M367 607.5h1M372 607.5h1M495 607.5h1M499 607.5h4M533 607.5h1M564 607.5h2M575 607.5h1M578 607.5h2M583 607.5h2M662 607.5h1M674 607.5h1M694 607.5h1M726 607.5h1M754 607.5h1M767 607.5h1M825 607.5h2M923 607.5h1M930 607.5h1M964 607.5h1M970 607.5h1M1014 607.5h2M1018 607.5h2M1096 607.5h2M52 608.5h1M109 608.5h1M119 608.5h1M176 608.5h2M203 608.5h1M232 608.5h1M235 608.5h2M259 608.5h1M261 608.5h2M279 608.5h4M310 608.5h1M315 608.5h1M367 608.5h1M373 608.5h1M488 608.5h1M494 608.5h1M503 608.5h3M532 608.5h1M576 608.5h2M663 608.5h1M674 608.5h1M694 608.5h1M726 608.5h1M755 608.5h1M766 608.5h1M827 608.5h1M921 608.5h2M931 608.5h1M963 608.5h1M965 608.5h2M970 608.5h1M1016 608.5h2M110 609.5h1M117 609.5h2M176 609.5h1M204 609.5h2M231 609.5h1M237 609.5h1M257 609.5h2M263 609.5h1M272 609.5h7M283 609.5h2M300 609.5h7M309 609.5h1M316 609.5h2M367 609.5h1M374 609.5h1M488 609.5h3M494 609.5h1M506 609.5h2M532 609.5h1M663 609.5h1M673 609.5h1M695 609.5h1M720 609.5h3M725 609.5h1M755 609.5h1M766 609.5h1M828 609.5h1M916 609.5h5M932 609.5h1M963 609.5h1M967 609.5h1M969 609.5h1M111 610.5h1M116 610.5h1M206 610.5h2M219 610.5h4M231 610.5h1M238 610.5h1M256 610.5h1M264 610.5h3M270 610.5h2M285 610.5h2M298 610.5h2M307 610.5h2M318 610.5h2M366 610.5h1M374 610.5h1M459 610.5h2M487 610.5h1M491 610.5h1M493 610.5h1M508 610.5h7M531 610.5h1M664 610.5h1M673 610.5h1M695 610.5h1M708 610.5h1M719 610.5h1M723 610.5h2M756 610.5h1M766 610.5h1M829 610.5h2M840 610.5h1M915 610.5h1M933 610.5h1M962 610.5h1M968 610.5h1M111 611.5h1M114 611.5h2M208 611.5h11M223 611.5h2M230 611.5h1M238 611.5h1M256 611.5h1M267 611.5h3M287 611.5h1M296 611.5h2M320 611.5h11M366 611.5h1M375 611.5h1M384 611.5h1M456 611.5h3M461 611.5h1M487 611.5h1M492 611.5h1M515 611.5h2M531 611.5h1M664 611.5h3M672 611.5h1M696 611.5h2M707 611.5h1M709 611.5h2M718 611.5h1M757 611.5h1M765 611.5h1M831 611.5h1M838 611.5h2M841 611.5h1M914 611.5h1M933 611.5h1M962 611.5h1M112 612.5h2M225 612.5h1M230 612.5h1M239 612.5h1M255 612.5h1M288 612.5h1M295 612.5h1M331 612.5h2M356 612.5h5M365 612.5h1M376 612.5h3M382 612.5h2M385 612.5h1M455 612.5h1M462 612.5h1M487 612.5h1M517 612.5h1M530 612.5h1M667 612.5h6M698 612.5h2M707 612.5h1M711 612.5h1M718 612.5h1M757 612.5h1M765 612.5h1M832 612.5h6M842 612.5h1M913 612.5h1M934 612.5h1M948 612.5h1M961 612.5h1M226 613.5h1M229 613.5h1M240 613.5h1M255 613.5h1M289 613.5h2M294 613.5h1M333 613.5h2M355 613.5h1M361 613.5h1M365 613.5h1M379 613.5h3M385 613.5h1M448 613.5h3M453 613.5h2M462 613.5h1M486 613.5h1M518 613.5h1M524 613.5h1M530 613.5h1M700 613.5h1M706 613.5h1M712 613.5h3M717 613.5h1M758 613.5h1M765 613.5h1M842 613.5h1M912 613.5h1M935 613.5h1M947 613.5h1M949 613.5h1M961 613.5h1M226 614.5h1M229 614.5h1M241 614.5h1M255 614.5h1M291 614.5h1M293 614.5h1M335 614.5h1M354 614.5h1M362 614.5h1M365 614.5h1M386 614.5h1M447 614.5h1M451 614.5h2M463 614.5h1M486 614.5h1M519 614.5h1M522 614.5h2M525 614.5h1M529 614.5h1M701 614.5h2M705 614.5h1M715 614.5h2M759 614.5h1M765 614.5h1M843 614.5h1M911 614.5h1M935 614.5h1M945 614.5h2M949 614.5h1M960 614.5h1M227 615.5h2M241 615.5h1M255 615.5h1M292 615.5h1M336 615.5h3M348 615.5h3M353 615.5h1M363 615.5h2M387 615.5h1M447 615.5h1M464 615.5h3M475 615.5h2M486 615.5h1M520 615.5h2M526 615.5h1M529 615.5h1M703 615.5h1M705 615.5h1M759 615.5h1M764 615.5h1M844 615.5h1M911 615.5h1M936 615.5h1M944 615.5h1M950 615.5h1M960 615.5h1M228 616.5h1M242 616.5h1M254 616.5h1M339 616.5h2M347 616.5h1M351 616.5h2M364 616.5h1M387 616.5h1M432 616.5h1M446 616.5h1M467 616.5h8M477 616.5h1M486 616.5h1M527 616.5h2M704 616.5h1M760 616.5h5M845 616.5h1M880 616.5h2M910 616.5h1M937 616.5h2M943 616.5h1M950 616.5h1M959 616.5h1M243 617.5h1M254 617.5h1M341 617.5h2M346 617.5h1M388 617.5h1M432 617.5h2M445 617.5h1M478 617.5h1M485 617.5h1M528 617.5h1M846 617.5h1M879 617.5h1M882 617.5h2M910 617.5h1M939 617.5h1M941 617.5h2M951 617.5h1M958 617.5h1M243 618.5h1M254 618.5h1M343 618.5h1M345 618.5h1M389 618.5h1M431 618.5h1M434 618.5h1M445 618.5h1M479 618.5h1M485 618.5h1M846 618.5h1M879 618.5h1M884 618.5h5M909 618.5h1M940 618.5h1M951 618.5h1M957 618.5h1M244 619.5h1M254 619.5h1M344 619.5h1M390 619.5h1M431 619.5h1M435 619.5h1M444 619.5h1M480 619.5h2M485 619.5h1M847 619.5h1M878 619.5h1M889 619.5h2M904 619.5h2M909 619.5h1M952 619.5h5M245 620.5h2M253 620.5h1M390 620.5h1M431 620.5h1M436 620.5h1M443 620.5h1M482 620.5h3M848 620.5h1M878 620.5h1M891 620.5h1M903 620.5h1M906 620.5h3M247 621.5h1M253 621.5h1M391 621.5h1M430 621.5h1M437 621.5h1M443 621.5h1M484 621.5h1M849 621.5h1M877 621.5h1M892 621.5h3M902 621.5h1M908 621.5h1M248 622.5h1M253 622.5h1M392 622.5h1M430 622.5h1M437 622.5h1M442 622.5h1M850 622.5h1M872 622.5h2M877 622.5h1M895 622.5h4M901 622.5h1M249 623.5h1M253 623.5h1M393 623.5h2M429 623.5h1M438 623.5h1M442 623.5h1M850 623.5h1M856 623.5h3M871 623.5h1M874 623.5h3M899 623.5h2M250 624.5h1M252 624.5h1M395 624.5h1M429 624.5h1M439 624.5h1M441 624.5h1M851 624.5h1M854 624.5h2M859 624.5h4M869 624.5h2M876 624.5h1M251 625.5h2M396 625.5h3M429 625.5h1M439 625.5h1M441 625.5h1M852 625.5h2M863 625.5h6M252 626.5h1M399 626.5h4M428 626.5h1M440 626.5h1M403 627.5h4M428 627.5h1M407 628.5h3M427 628.5h1M410 629.5h2M427 629.5h1M412 630.5h3M426 630.5h1M415 631.5h4M425 631.5h1M419 632.5h4M425 632.5h1M423 633.5h2" fill="none" stroke="#1e90ff" stroke-width="1"/>
<rect x="4" y="702" width="1" height="2" fill="#c0c0c0"/>
<rect x="8" y="702" width="1" height="2" fill="#c0c0c0"/>
<rect x="12" y="700" width="1" height="4" fill="#c0c0c0"/>
<rect x="16" y="696" width="1" height="8" fill="#c0c0c0"/>
<rect x="20" y="694" width="1" height="10" fill="#c0c0c0"/>
<rect x="24" y="692" width="1" height="12" fill="#c0c0c0"/>
<rect x="28" y="693" width="1" height="11" fill="#c0c0c0"/>
<rect x="32" y="694" width="1" height="10" fill="#c0c0c0"/>
<rect x="36" y="696" width="1" height="8" fill="#c0c0c0"/>
<rect x="40" y="699" width="1" height="5" fill="#c0c0c0"/>
<rect x="44" y="701" width="1" height="3" fill="#c0c0c0"/>
<rect x="48" y="701" width="1" height="3" fill="#c0c0c0"/>
<rect x="52" y="703" width="1" height="2" fill="#c0c0c0"/>
<rect x="56" y="703" width="1" height="3" fill="#c0c0c0"/>
<rect x="60" y="703" width="1" height="2" fill="#c0c0c0"/>
<rect x="64" y="703" width="1" height="2" fill="#c0c0c0"/>
<rect x="68" y="703" width="1" height="2" fill="#c0c0c0"/>
<rect x="72" y="703" width="1" height="2" fill="#c0c0c0"/>
<rect x="76" y="703" width="1" height="1" fill="#c0c0c0"/>
<rect x="80" y="702" width="1" height="2" fill="#c0c0c0"/>
<rect x="84" y="700" width="1" height="4" fill="#c0c0c0"/>
<rect x="88" y="698" width="1" height="6" fill="#c0c0c0"/>
<rect x="92" y="697" width="1" height="7" fill="#c0c0c0"/>
<rect x="96" y="695" width="1" height="9" fill="#c0c0c0"/>
<rect x="100" y="695" width="1" height="9" fill="#c0c0c0"/>
<rect x="104" y="694" width="1" height="10" fill="#c0c0c0"/>
<rect x="108" y="697" width="1" height="7" fill="#c0c0c0"/>
<rect x="112" y="701" width="1" height="3" fill="#c0c0c0"/>
<rect x="116" y="703" width="1" height="2" fill="#c0c0c0"/>
<rect x="120" y="703" width="1" height="4" fill="#c0c0c0"/>
<rect x="124" y="703" width="1" height="2" fill="#c0c0c0"/>
<rect x="128" y="702" width="1" height="2" fill="#c0c0c0"/>
<rect x="132" y="700" width="1" height="4" fill="#c0c0c0"/>
<rect x="136" y="700" width="1" height="4" fill="#c0c0c0"/>
<rect x="140" y="700" width="1" height="4" fill="#c0c0c0"/>
<rect x="144" y="700" width="1" height="4" fill="#c0c0c0"/>
<rect x="148" y="701" width="1" height="3" fill="#c0c0c0"/>
<rect x="152" y="701" width="1" height="3" fill="#c0c0c0"/>
<rect x="156" y="700" width="1" height="4" fill="#c0c0c0"/>
<rect x="160" y="700" width="1" height="4" fill="#c0c0c0"/>
<rect x="164" y="700" width="1" height="4" fill="#c0c0c0"/>
<rect x="168" y="700" width="1" height="4" fill="#c0c0c0"/>
<rect x="172" y="700" width="1" height="4" fill="#c0c0c0"/>
<rect x="176" y="702" width="1" height="2" fill="#c0c0c0"/>
<rect x="180" y="702" width="1" height="2" fill="#c0c0c0"/>
<rect x="184" y="702" width="1" height="2" fill="#c0c0c0"/>
<rect x="188" y="701" width="1" height="3" fill="#c0c0c0"/>
<rect x="192" y="701" width="1" height="3" fill="#c0c0c0"/>
<rect x="196" y="703" width="1" height="1" fill="#c0c0c0"/>
<rect x="200" y="703" width="1" height="1" fill="#c0c0c0"/>
<rect x="204" y="703" width="1" height="3" fill="#c0c0c0"/>
<rect x="208" y="703" width="1" height="6" fill="#c0c0c0"/>
<rect x="212" y="703" width="1" height="7" fill="#c0c0c0"/>
<rect x="216" y="703" width="1" height="9" fill="#c0c0c0"/>
<rect x="220" y="703" width="1" height="10" fill="#c0c0c0"/>
<rect x="224" y="703" width="1" height="11" fill="#c0c0c0"/>
<rect x="228" y="703" width="1" height="13" fill="#c0c0c0"/>
<rect x="232" y="703" width="1" height="13" fill="#c0c0c0"/>
<rect x="236" y="703" width="1" height="12" fill="#c0c0c0"/>
<rect x="240" y="703" width="1" height="14" fill="#c0c0c0"/>
<rect x="244" y="703" width="1" height="18" fill="#c0c0c0"/>
<rect x="248" y="703" width="1" height="22" fill="#c0c0c0"/>
<rect x="252" y="703" width="1" height="27" fill="#c0c0c0"/>
<rect x="256" y="703" width="1" height="27" fill="#c0c0c0"/>
<rect x="260" y="703" width="1" height="25" fill="#c0c0c0"/>
<rect x="264" y="703" width="1" height="24" fill="#c0c0c0"/>
<rect x="268" y="703" width="1" height="24" fill="#c0c0c0"/>
<rect x="272" y="703" width="1" height="23" fill="#c0c0c0"/>
<rect x="276" y="703" width="1" height="22" fill="#c0c0c0"/>
<rect x="280" y="703" width="1" height="21" fill="#c0c0c0"/>
<rect x="284" y="703" width="1" height="20" fill="#c0c0c0"/>
<rect x="288" y="703" width="1" height="20" fill="#c0c0c0"/>
<rect x="292" y="703" width="1" height="21" fill="#c0c0c0"/>
<rect x="296" y="703" width="1" height="21" fill="#c0c0c0"/>
<rect x="300" y="703" width="1" height="20" fill="#c0c0c0"/>
<rect x="304" y="703" width="1" height="19" fill="#c0c0c0"/>
<rect x="308" y="703" width="1" height="18" fill="#c0c0c0"/>
<rect x="312" y="703" width="1" height="17" fill="#c0c0c0"/>
<rect x="316" y="703" width="1" height="16" fill="#c0c0c0"/>
<rect x="320" y="703" width="1" height="16" fill="#c0c0c0"/>
<rect x="324" y="703" width="1" height="16" fill="#c0c0c0"/>
<rect x="328" y="703" width="1" height="16" fill="#c0c0c0"/>
<rect x="332" y="703" width="1" height="16" fill="#c0c0c0"/>
<rect x="336" y="703" width="1" height="17" fill="#c0c0c0"/>
<rect x="340" y="703" width="1" height="18" fill="#c0c0c0"/>
<rect x="344" y="703" width="1" height="19" fill="#c0c0c0"/>
<rect x="348" y="703" width="1" height="19" fill="#c0c0c0"/>
<rect x="352" y="703" width="1" height="19" fill="#c0c0c0"/>
<rect x="356" y="703" width="1" height="19" fill="#c0c0c0"/>
<rect x="360" y="703" width="1" height="18" fill="#c0c0c0"/>
<rect x="364" y="703" width="1" height="18" fill="#c0c0c0"/>
<rect x="368" y="703" width="1" height="16" fill="#c0c0c0"/>
<rect x="372" y="703" width="1" height="15" fill="#c0c0c0"/>
<rect x="376" y="703" width="1" height="15" fill="#c0c0c0"/>
<rect x="380" y="703" width="1" height="15" fill="#c0c0c0"/>
<rect x="384" y="703" width="1" height="15" fill="#c0c0c0"/>
<rect x="388" y="703" width="1" height="16" fill="#c0c0c0"/>
<rect x="392" y="703" width="1" height="19" fill="#c0c0c0"/>
<rect x="396" y="703" width="1" height="22" fill="#c0c0c0"/>
<rect x="400" y="703" width="1" height="26" fill="#c0c0c0"/>
<rect x="404" y="703" width="1" height="28" fill="#c0c0c0"/>
<rect x="408" y="703" width="1" height="30" fill="#c0c0c0"/>
<rect x="412" y="703" width="1" height="33" fill="#c0c0c0"/>
<rect x="416" y="703" width="1" height="36" fill="#c0c0c0"/>
<rect x="420" y="703" width="1" height="38" fill="#c0c0c0"/>
<rect x="424" y="703" width="1" height="40" fill="#c0c0c0"/>
<rect x="428" y="703" width="1" height="40" fill="#c0c0c0"/>
<rect x="432" y="703" width="1" height="38" fill="#c0c0c0"/>
<rect x="436" y="703" width="1" height="37" fill="#c0c0c0"/>
<rect x="440" y="703" width="1" height="39" fill="#c0c0c0"/>
<rect x="444" y="703" width="1" height="39" fill="#c0c0c0"/>
<rect x="448" y="703" width="1" height="37" fill="#c0c0c0"/>
<rect x="452" y="703" width="1" height="35" fill="#c0c0c0"/>
<rect x="456" y="703" width="1" height="33" fill="#c0c0c0"/>
<rect x="460" y="703" width="1" height="30" fill="#c0c0c0"/>
<rect x="464" y="703" width="1" height="30" fill="#c0c0c0"/>
<rect x="468" y="703" width="1" height="30" fill="#c0c0c0"/>
<rect x="472" y="703" width="1" height="29" fill="#c0c0c0"/>
<rect x="476" y="703" width="1" height="28" fill="#c0c0c0"/>
<rect x="480" y="703" width="1" height="29" fill="#c0c0c0"/>
<rect x="484" y="703" width="1" height="30" fill="#c0c0c0"/>
<rect x="488" y="703" width="1" height="27" fill="#c0c0c0"/>
<rect x="492" y="703" width="1" height="26" fill="#c0c0c0"/>
<rect x="496" y="703" width="1" height="23" fill="#c0c0c0"/>
<rect x="500" y="703" width="1" height="21" fill="#c0c0c0"/>
<rect x="504" y="703" width="1" height="20" fill="#c0c0c0"/>
<rect x="508" y="703" width="1" height="19" fill="#c0c0c0"/>
<rect x="512" y="703" width="1" height="18" fill="#c0c0c0"/>
<rect x="516" y="703" width="1" height="18" fill="#c0c0c0"/>
<rect x="520" y="703" width="1" height="19" fill="#c0c0c0"/>
<rect x="524" y="703" width="1" height="19" fill="#c0c0c0"/>
<rect x="528" y="703" width="1" height="20" fill="#c0c0c0"/>
<rect x="532" y="703" width="1" height="19" fill="#c0c0c0"/>
<rect x="536" y="703" width="1" height="16" fill="#c0c0c0"/>
<rect x="540" y="703" width="1" height="14" fill="#c0c0c0"/>
<rect x="544" y="703" width="1" height="11" fill="#c0c0c0"/>
<rect x="548" y="703" width="1" height="9" fill="#c0c0c0"/>
<rect x="552" y="703" width="1" height="6" fill="#c0c0c0"/>
<rect x="556" y="703" width="1" height="4" fill="#c0c0c0"/>
<rect x="560" y="703" width="1" height="3" fill="#c0c0c0"/>
<rect x="564" y="703" width="1" height="4" fill="#c0c0c0"/>
<rect x="568" y="703" width="1" height="5" fill="#c0c0c0"/>
<rect x="572" y="703" width="1" height="5" fill="#c0c0c0"/>
<rect x="576" y="703" width="1" height="6" fill="#c0c0c0"/>
<rect x="580" y="703" width="1" height="6" fill="#c0c0c0"/>
<rect x="584" y="703" width="1" height="6" fill="#c0c0c0"/>
<rect x="588" y="703" width="1" height="6" fill="#c0c0c0"/>
<rect x="592" y="703" width="1" height="6" fill="#c0c0c0"/>
<rect x="596" y="703" width="1" height="5" fill="#c0c0c0"/>
<rect x="600" y="703" width="1" height="2" fill="#c0c0c0"/>
<rect x="604" y="701" width="1" height="3" fill="#c0c0c0"/>
<rect x="608" y="697" width="1" height="7" fill="#c0c0c0"/>
<rect x="612" y="693" width="1" height="11" fill="#c0c0c0"/>
<rect x="616" y="689" width="1" height="15" fill="#c0c0c0"/>
<rect x="620" y="686" width="1" height="18" fill="#c0c0c0"/>
<rect x="624" y="686" width="1" height="18" fill="#c0c0c0"/>
<rect x="628" y="686" width="1" height="18" fill="#c0c0c0"/>
<rect x="632" y="688" width="1" height="16" fill="#c0c0c0"/>
<rect x="636" y="690" width="1" height="14" fill="#c0c0c0"/>
<rect x="640" y="691" width="1" height="13" fill="#c0c0c0"/>
<rect x="644" y="692" width="1" height="12" fill="#c0c0c0"/>
<rect x="648" y="694" width="1" height="10" fill="#c0c0c0"/>
<rect x="652" y="696" width="1" height="8" fill="#c0c0c0"/>
<rect x="656" y="697" width="1" height="7" fill="#c0c0c0"/>
<rect x="660" y="698" width="1" height="6" fill="#c0c0c0"/>
<rect x="664" y="701" width="1" height="3" fill="#c0c0c0"/>
<rect x="668" y="703" width="1" height="2" fill="#c0c0c0"/>
<rect x="672" y="703" width="1" height="4" fill="#c0c0c0"/>
<rect x="676" y="703" width="1" height="4" fill="#c0c0c0"/>
<rect x="680" y="703" width="1" height="5" fill="#c0c0c0"/>
<rect x="684" y="703" width="1" height="4" fill="#c0c0c0"/>
<rect x="688" y="703" width="1" height="4" fill="#c0c0c0"/>
<rect x="692" y="703" width="1" height="4" fill="#c0c0c0"/>
<rect x="696" y="703" width="1" height="5" fill="#c0c0c0"/>
<rect x="700" y="703" width="1" height="8" fill="#c0c0c0"/>
<rect x="704" y="703" width="1" height="10" fill="#c0c0c0"/>
<rect x="708" y="703" width="1" height="11" fill="#c0c0c0"/>
<rect x="712" y="703" width="1" height="12" fill="#c0c0c0"/>
<rect x="716" y="703" width="1" height="13" fill="#c0c0c0"/>
<rect x="720" y="703" width="1" height="13" fill="#c0c0c0"/>
<rect x="724" y="703" width="1" height="13" fill="#c0c0c0"/>
<rect x="728" y="703" width="1" height="12" fill="#c0c0c0"/>
<rect x="732" y="703" width="1" height="8" fill="#c0c0c0"/>
<rect x="736" y="703" width="1" height="5" fill="#c0c0c0"/>
<rect x="740" y="703" width="1" height="3" fill="#c0c0c0"/>
<rect x="744" y="702" width="1" height="2" fill="#c0c0c0"/>
<rect x="748" y="702" width="1" height="2" fill="#c0c0c0"/>
<rect x="752" y="703" width="1" height="1" fill="#c0c0c0"/>
<rect x="756" y="703" width="1" height="3" fill="#c0c0c0"/>
<rect x="760" y="703" width="1" height="7" fill="#c0c0c0"/>
<rect x="764" y="703" width="1" height="11" fill="#c0c0c0"/>
<rect x="768" y="703" width="1" height="9" fill="#c0c0c0"/>
<rect x="772" y="703" width="1" height="7" fill="#c0c0c0"/>
<rect x="776" y="703" width="1" height="3" fill="#c0c0c0"/>
<rect x="780" y="703" width="1" height="2" fill="#c0c0c0"/>
<rect x="784" y="703" width="1" height="1" fill="#c0c0c0"/>
<rect x="788" y="702" width="1" height="2" fill="#c0c0c0"/>
<rect x="792" y="702" width="1" height="2" fill="#c0c0c0"/>
<rect x="796" y="703" width="1" height="1" fill="#c0c0c0"/>
<rect x="800" y="703" width="1" height="2" fill="#c0c0c0"/>
<rect x="804" y="703" width="1" height="2" fill="#c0c0c0"/>
<rect x="808" y="703" width="1" height="2" fill="#c0c0c0"/>
<rect x="812" y="703" width="1" height="1" fill="#c0c0c0"/>
<rect x="816" y="702" width="1" height="2" fill="#c0c0c0"/>
<rect x="820" y="703" width="1" height="1" fill="#c0c0c0"/>
<rect x="824" y="703" width="1" height="1" fill="#c0c0c0"/>
<rect x="828" y="703" width="1" height="3" fill="#c0c0c0"/>
<rect x="832" y="703" width="1" height="5" fill="#c0c0c0"/>
<rect x="836" y="703" width="1" height="7" fill="#c0c0c0"/>
<rect x="840" y="703" width="1" height="8" fill="#c0c0c0"/>
<rect x="844" y="703" width="1" height="10" fill="#c0c0c0"/>
<rect x="848" y="703" width="1" height="13" fill="#c0c0c0"/>
<rect x="852" y="703" width="1" height="17" fill="#c0c0c0"/>
<rect x="856" y="703" width="1" height="21" fill="#c0c0c0"/>
<rect x="860" y="703" width="1" height="23" fill="#c0c0c0"/>
<rect x="864" y="703" width="1" height="25" fill="#c0c0c0"/>
<rect x="868" y="703" width="1" height="27" fill="#c0c0c0"/>
<rect x="872" y="703" width="1" height="27" fill="#c0c0c0"/>
<rect x="876" y="703" width="1" height="29" fill="#c0c0c0"/>
<rect x="880" y="703" width="1" height="28" fill="#c0c0c0"/>
<rect x="884" y="703" width="1" height="27" fill="#c0c0c0"/>
<rect x="888" y="703" width="1" height="27" fill="#c0c0c0"/>
<rect x="892" y="703" width="1" height="27" fill="#c0c0c0"/>
<rect x="896" y="703" width="1" height="28" fill="#c0c0c0"/>
<rect x="900" y="703" width="1" height="28" fill="#c0c0c0"/>
<rect x="904" y="703" width="1" height="27" fill="#c0c0c0"/>
<rect x="908" y="703" width="1" height="27" fill="#c0c0c0"/>
<rect x="912" y="703" width="1" height="25" fill="#c0c0c0"/>
<rect x="916" y="703" width="1" height="23" fill="#c0c0c0"/>
<rect x="920" y="703" width="1" height="21" fill="#c0c0c0"/>
<rect x="924" y="703" width="1" height="18" fill="#c0c0c0"/>
<rect x="928" y="703" width="1" height="16" fill="#c0c0c0"/>
<rect x="932" y="703" width="1" height="15" fill="#c0c0c0"/>
<rect x="936" y="703" width="1" height="16" fill="#c0c0c0"/>
<rect x="940" y="703" width="1" height="17" fill="#c0c0c0"/>
<rect x="944" y="703" width="1" height="17" fill="#c0c0c0"/>
<rect x="948" y="703" width="1" height="16" fill="#c0c0c0"/>
<rect x="952" y="703" width="1" height="18" fill="#c0c0c0"/>
<rect x="956" y="703" width="1" height="19" fill="#c0c0c0"/>
<rect x="960" y="703" width="1" height="19" fill="#c0c0c0"/>
<rect x="964" y="703" width="1" height="17" fill="#c0c0c0"/>
<rect x="968" y="703" width="1" height="16" fill="#c0c0c0"/>
<rect x="972" y="703" width="1" height="14" fill="#c0c0c0"/>
<rect x="976" y="703" width="1" height="11" fill="#c0c0c0"/>
<rect x="980" y="703" width="1" height="9" fill="#c0c0c0"/>
<rect x="984" y="703" width="1" height="8" fill="#c0c0c0"/>
<rect x="988" y="703" width="1" height="6" fill="#c0c0c0"/>
<rect x="992" y="703" width="1" height="5" fill="#c0c0c0"/>
<rect x="996" y="703" width="1" height="3" fill="#c0c0c0"/>
<rect x="1000" y="703" width="1" height="2" fill="#c0c0c0"/>
<rect x="1004" y="703" width="1" height="2" fill="#c0c0c0"/>
<rect x="1008" y="703" width="1" height="1" fill="#c0c0c0"/>
<rect x="1012" y="703" width="1" height="2" fill="#c0c0c0"/>
<rect x="1016" y="703" width="1" height="3" fill="#c0c0c0"/>
<rect x="1020" y="703" width="1" height="3" fill="#c0c0c0"/>
<rect x="1024" y="703" width="1" height="3" fill="#c0c0c0"/>
<rect x="1028" y="703" width="1" height="3" fill="#c0c0c0"/>
<rect x="1032" y="703" width="1" height="2" fill="#c0c0c0"/>
<rect x="1036" y="703" width="1" height="2" fill="#c0c0c0"/>
<rect x="1040" y="703" width="1" height="1" fill="#c0c0c0"/>
<rect x="1044" y="702" width="1" height="2" fill="#c0c0c0"/>
<rect x="1048" y="700" width="1" height="4" fill="#c0c0c0"/>
<rect x="1052" y="697" width="1" height="7" fill="#c0c0c0"/>
<rect x="1056" y="694" width="1" height="10" fill="#c0c0c0"/>
<rect x="1060" y="691" width="1" height="13" fill="#c0c0c0"/>
<rect x="1064" y="690" width="1" height="14" fill="#c0c0c0"/>
<rect x="1068" y="689" width="1" height="15" fill="#c0c0c0"/>
<rect x="1072" y="689" width="1" height="15" fill="#c0c0c0"/>
<rect x="1076" y="691" width="1" height="13" fill="#c0c0c0"/>
<rect x="1080" y="694" width="1" height="10" fill="#c0c0c0"/>
<rect x="1084" y="696" width="1" height="8" fill="#c0c0c0"/>
<rect x="1088" y="697" width="1" height="7" fill="#c0c0c0"/>
<rect x="1092" y="698" width="1" height="6" fill="#c0c0c0"/>
<rect x="1096" y="700" width="1" height="4" fill="#c0c0c0"/>
<rect x="1100" y="701" width="1" height="3" fill="#c0c0c0"/>
<rect x="1104" y="699" width="1" height="5" fill="#c0c0c0"/>
<rect x="1108" y="698" width="1" height="6" fill="#c0c0c0"/>
<rect x="1112" y="698" width="1" height="6" fill="#c0c0c0"/>
<rect x="1116" y="698" width="1" height="6" fill="#c0c0c0"/>
<rect x="1120" y="697" width="1" height="7" fill="#c0c0c0"/>
<rect x="1124" y="696" width="1" height="8" fill="#c0c0c0"/>
<rect x="1128" y="691" width="1" height="13" fill="#c0c0c0"/>
<rect x="1132" y="690" width="1" height="14" fill="#c0c0c0"/>
<rect x="1136" y="689" width="1" height="15" fill="#c0c0c0"/>
<rect x="1140" y="687" width="1" height="17" fill="#c0c0c0"/>
<rect x="1144" y="683" width="1" height="21" fill="#c0c0c0"/>
<rect x="1148" y="681" width="1" height="23" fill="#c0c0c0"/>
<rect x="1152" y="678" width="1" height="26" fill="#c0c0c0"/>
<rect x="1156" y="673" width="1" height="31" fill="#c0c0c0"/>
<rect x="1160" y="668" width="1" height="36" fill="#c0c0c0"/>
<rect x="1164" y="664" width="1" height="40" fill="#c0c0c0"/>
<rect x="1168" y="660" width="1" height="44" fill="#c0c0c0"/>
<rect x="1172" y="659" width="1" height="45" fill="#c0c0c0"/>
<rect x="1176" y="658" width="1" height="46" fill="#c0c0c0"/>
<rect x="1180" y="660" width="1" height="44" fill="#c0c0c0"/>
<rect x="1184" y="661" width="1" height="43" fill="#c0c0c0"/>
<rect x="1188" y="662" width="1" height="42" fill="#c0c0c0"/>
<rect x="1192" y="664" width="1" height="40" fill="#c0c0c0"/>
<rect x="1196" y="666" width="1" height="38" fill="#c0c0c0"/>
<rect x="1200" y="668" width="1" height="36" fill="#c0c0c0"/>
<rect x="1204" y="670" width="1" height="34" fill="#c0c0c0"/>
<rect x="1208" y="671" width="1" height="33" fill="#c0c0c0"/>
<rect x="1212" y="672" width="1" height="32" fill="#c0c0c0"/>
<rect x="1216" y="676" width="1" height="28" fill="#c0c0c0"/>
<rect x="1220" y="676" width="1" height="28" fill="#c0c0c0"/>
<rect x="1224" y="675" width="1" height="29" fill="#c0c0c0"/>
<rect x="1228" y="673" width="1" height="31" fill="#c0c0c0"/>
<rect x="1232" y="672" width="1" height="32" fill="#c0c0c0"/>
<rect x="1236" y="672" width="1" height="32" fill="#c0c0c0"/>
<rect x="1240" y="672" width="1" height="32" fill="#c0c0c0"/>
<rect x="1244" y="671" width="1" height="33" fill="#c0c0c0"/>
<rect x="1248" y="671" width="1" height="33" fill="#c0c0c0"/>
<rect x="1252" y="672" width="1" height="32" fill="#c0c0c0"/>
<rect x="1256" y="673" width="1" height="31" fill="#c0c0c0"/>
<path d="M1192 662.5h3M1198 662.5h3M1188 663.5h1M1204 663.5h2M1186 664.5h2M1206 664.5h1M1210 665.5h1M1182 666.5h1M1211 666.5h2M1180 667.5h2M1216 668.5h2M1176 669.5h1M1218 669.5h1M1175 670.5h1M1222 670.5h1M1174 671.5h1M1223 671.5h2M1228 672.5h3M1234 673.5h3M1240 673.5h3M1246 673.5h3M1252 673.5h3M1170 674.5h1M1169 675.5h1M1168 676.5h1M1164 679.5h1M1163 680.5h1M1162 681.5h1M1157 684.5h2M1156 685.5h1M1152 688.5h1M646 689.5h3M1150 689.5h2M640 690.5h3M652 690.5h3M4 691.5h2M635 691.5h2M1146 691.5h1M6 692.5h1M634 692.5h1M658 692.5h2M1084 692.5h3M1090 692.5h1M1144 692.5h2M630 693.5h1M660 693.5h1M1079 693.5h2M1091 693.5h2M10 694.5h2M628 694.5h2M664 694.5h2M1078 694.5h1M1096 694.5h3M1139 694.5h2M12 695.5h1M666 695.5h1M1072 695.5h3M1102 695.5h1M1138 695.5h1M16 696.5h3M22 696.5h1M40 696.5h3M46 696.5h3M1103 696.5h2M1134 696.5h1M23 697.5h2M28 697.5h3M34 697.5h3M52 697.5h2M624 697.5h1M670 697.5h2M1067 697.5h2M1108 697.5h3M1132 697.5h2M54 698.5h1M107 698.5h2M112 698.5h3M118 698.5h1M622 698.5h2M672 698.5h1M1066 698.5h1M1114 698.5h3M1126 698.5h3M58 699.5h1M106 699.5h1M119 699.5h2M124 699.5h3M676 699.5h2M1062 699.5h1M1120 699.5h3M59 700.5h2M100 700.5h3M130 700.5h3M166 700.5h3M172 700.5h3M678 700.5h1M1060 700.5h2M64 701.5h3M95 701.5h2M136 701.5h3M155 701.5h2M160 701.5h3M178 701.5h3M184 701.5h3M190 701.5h3M196 701.5h3M617 701.5h2M682 701.5h1M1056 701.5h1M70 702.5h1M94 702.5h1M142 702.5h3M148 702.5h3M154 702.5h1M202 702.5h3M616 702.5h1M683 702.5h2M1054 702.5h2M71 703.5h2M88 703.5h3M208 703.5h3M808 703.5h3M814 703.5h3M820 703.5h3M826 703.5h3M76 704.5h3M82 704.5h3M214 704.5h1M611 704.5h2M688 704.5h3M694 704.5h1M803 704.5h2M832 704.5h3M838 704.5h1M1030 704.5h3M1036 704.5h3M1042 704.5h3M1048 704.5h3M215 705.5h2M610 705.5h1M695 705.5h2M802 705.5h1M839 705.5h2M1018 705.5h3M1024 705.5h3M220 706.5h3M604 706.5h3M700 706.5h3M760 706.5h3M766 706.5h3M772 706.5h3M791 706.5h2M796 706.5h3M844 706.5h3M1012 706.5h3M580 707.5h3M586 707.5h3M592 707.5h3M598 707.5h3M706 707.5h1M755 707.5h2M778 707.5h3M784 707.5h3M790 707.5h1M1008 707.5h1M226 708.5h2M575 708.5h2M707 708.5h2M754 708.5h1M850 708.5h2M1006 708.5h2M228 709.5h1M574 709.5h1M712 709.5h3M748 709.5h3M852 709.5h1M232 710.5h3M568 710.5h3M718 710.5h1M1000 710.5h3M719 711.5h2M743 711.5h2M856 711.5h1M238 712.5h2M563 712.5h2M724 712.5h3M742 712.5h1M857 712.5h2M996 712.5h1M240 713.5h1M562 713.5h1M730 713.5h3M736 713.5h3M994 713.5h2M244 714.5h3M558 714.5h1M556 715.5h2M862 715.5h2M988 715.5h3M250 716.5h2M864 716.5h1M983 716.5h2M252 717.5h1M551 717.5h2M982 717.5h1M388 718.5h3M394 718.5h1M550 718.5h1M976 718.5h3M256 719.5h2M334 719.5h3M340 719.5h3M346 719.5h3M382 719.5h3M395 719.5h2M544 719.5h3M868 719.5h2M952 719.5h3M958 719.5h3M964 719.5h3M970 719.5h3M258 720.5h1M323 720.5h2M328 720.5h3M352 720.5h3M358 720.5h3M364 720.5h3M370 720.5h3M376 720.5h3M400 720.5h3M539 720.5h2M870 720.5h1M947 720.5h2M262 721.5h1M316 721.5h3M322 721.5h1M532 721.5h3M538 721.5h1M946 721.5h1M263 722.5h2M310 722.5h3M406 722.5h2M526 722.5h3M874 722.5h2M940 722.5h3M268 723.5h2M299 723.5h2M304 723.5h3M408 723.5h1M520 723.5h3M876 723.5h1M935 723.5h2M270 724.5h1M292 724.5h3M298 724.5h1M934 724.5h1M274 725.5h1M287 725.5h2M412 725.5h2M515 725.5h2M880 725.5h2M930 725.5h1M275 726.5h2M280 726.5h3M286 726.5h1M414 726.5h1M514 726.5h1M882 726.5h1M928 726.5h2M508 727.5h3M886 727.5h1M923 727.5h2M418 728.5h1M503 728.5h2M887 728.5h2M922 728.5h1M419 729.5h1M502 729.5h1M892 729.5h3M898 729.5h3M904 729.5h3M910 729.5h3M916 729.5h3M420 730.5h1M496 730.5h3M491 731.5h2M424 732.5h1M490 732.5h1M425 733.5h2M479 733.5h2M484 733.5h3M478 734.5h1M430 735.5h1M474 735.5h1M431 736.5h2M467 736.5h2M472 736.5h2M466 737.5h1M436 738.5h3M462 738.5h1M442 739.5h1M460 739.5h2M443 740.5h2M448 740.5h3M454 740.5h3" fill="none" stroke="#ff0000" stroke-width="1"/>
<rect x="4" y="749" width="1" height="3" fill="#000"/>
<rect x="68" y="749" width="1" height="3" fill="#000"/>
<rect x="132" y="749" width="1" height="3" fill="#000"/>
<rect x="196" y="749" width="1" height="3" fill="#000"/>
<rect x="260" y="749" width="1" height="3" fill="#000"/>
<rect x="324" y="749" width="1" height="3" fill="#000"/>
<rect x="388" y="749" width="1" height="3" fill="#000"/>
<rect x="452" y="749" width="1" height="3" fill="#000"/>
<rect x="516" y="749" width="1" height="3" fill="#000"/>
<rect x="580" y="749" width="1" height="3" fill="#000"/>
<rect x="644" y="749" width="1" height="3" fill="#000"/>
<rect x="708" y="749" width="1" height="3" fill="#000"/>
<rect x="772" y="749" width="1" height="3" fill="#000"/>
<rect x="836" y="749" width="1" height="3" fill="#000"/>
<rect x="900" y="749" width="1" height="3" fill="#000"/>
<rect x="964" y="749" width="1" height="3" fill="#000"/>
<rect x="1028" y="749" width="1" height="3" fill="#000"/>
<rect x="1092" y="749" width="1" height="3" fill="#000"/>
<rect x="1156" y="749" width="1" height="3" fill="#000"/>
<rect x="1220" y="749" width="1" height="3" fill="#000"/>
<rect x="0" y="769" width="1622" height="1" fill="#e3e3e3"/>
<rect x="0" y="770" width="1622" height="1" fill="#ffffff"/>
<rect x="0" y="771" width="1622" height="20" fill="#f0f0f0"/>
<rect x="0" y="791" width="1622" height="1" fill="#fcfcfc"/>
<rect x="0" y="792" width="1622" height="2" fill="#f0f0f0"/>
<rect x="0" y="771" width="110" height="1" fill="#000"/>
<rect x="1" y="772" width="108" height="1" fill="#fafafa"/>
<rect x="210" y="772" width="1412" height="1" fill="#fafafa"/>
<rect x="208" y="771" width="1414" height="1" fill="#000"/>
<rect x="110" y="770" width="98" height="19" fill="#fff"/>
<rect x="109" y="771" width="1" height="19" fill="#000"/>
<rect x="208" y="771" width="1" height="19" fill="#000"/>
<rect x="109" y="789" width="100" height="1" fill="#000"/>
<rect x="209" y="773" width="1" height="18" fill="#a0a0a0"/>
<rect x="111" y="790" width="99" height="1" fill="#a0a0a0"/>
<rect x="0" y="771" width="1" height="19" fill="#696969"/>
<rect x="313" y="774" width="1" height="14" fill="#5a5a5a"/>
<rect x="417" y="774" width="1" height="14" fill="#5a5a5a"/>
<rect x="521" y="774" width="1" height="14" fill="#5a5a5a"/>
<rect x="625" y="774" width="1" height="14" fill="#5a5a5a"/>
<rect x="729" y="774" width="1" height="14" fill="#5a5a5a"/>
<rect x="821" y="774" width="1" height="14" fill="#5a5a5a"/>
<rect x="905" y="774" width="1" height="14" fill="#5a5a5a"/>
<rect x="985" y="774" width="1" height="14" fill="#5a5a5a"/>
<rect x="1065" y="774" width="1" height="14" fill="#5a5a5a"/>
<rect x="1145" y="774" width="1" height="14" fill="#5a5a5a"/>
<rect x="1221" y="774" width="1" height="14" fill="#5a5a5a"/>
<rect x="1293" y="774" width="1" height="14" fill="#5a5a5a"/>
<rect x="1377" y="774" width="1" height="14" fill="#5a5a5a"/>
<rect x="1473" y="774" width="1" height="14" fill="#5a5a5a"/>
<rect x="1573" y="774" width="1" height="14" fill="#5a5a5a"/>
<rect x="1598" y="777" width="1" height="6" fill="#a0a0a0"/>
<rect x="1615" y="777" width="1" height="6" fill="#000"/>
<rect x="1597" y="778" width="1" height="4" fill="#a0a0a0"/>
<rect x="1616" y="778" width="1" height="4" fill="#000"/>
<rect x="1596" y="779" width="1" height="2" fill="#a0a0a0"/>
<rect x="1617" y="779" width="1" height="2" fill="#000"/>
<rect x="28" y="0" width="1" height="21" fill="#a0a0a0"/>
<rect x="29" y="0" width="1" height="21" fill="#ffffff"/>
<rect x="32" y="1" width="3" height="1" fill="#b4b4b4"/>
<rect x="32" y="3" width="3" height="1" fill="#b4b4b4"/>
<rect x="32" y="5" width="3" height="1" fill="#b4b4b4"/>
<rect x="32" y="7" width="3" height="1" fill="#b4b4b4"/>
<rect x="32" y="9" width="3" height="1" fill="#b4b4b4"/>
<rect x="32" y="11" width="3" height="1" fill="#b4b4b4"/>
<rect x="32" y="13" width="3" height="1" fill="#b4b4b4"/>
<rect x="32" y="15" width="3" height="1" fill="#b4b4b4"/>
<rect x="32" y="17" width="3" height="1" fill="#b4b4b4"/>
<rect x="17" y="8" width="5" height="1" fill="#000"/>
<rect x="18" y="9" width="3" height="1" fill="#000"/>
<rect x="19" y="10" width="1" height="1" fill="#000"/>
<rect x="207" y="0" width="24" height="19" fill="#f8f8f8"/>
<rect x="206" y="0" width="1" height="19" fill="#a0a0a0"/>
<rect x="206" y="19" width="26" height="1" fill="#ffffff"/>
<rect x="231" y="0" width="1" height="19" fill="#ffffff"/>
<rect x="5" y="11" width="2" height="1" fill="#4d4d4d"/>
<rect x="3" y="12" width="7" height="1" fill="#4d4d4d"/>
<rect x="4" y="13" width="5" height="1" fill="#4d4d4d"/>
<rect x="5" y="14" width="3" height="1" fill="#4d4d4d"/>
<rect x="6" y="15" width="1" height="1" fill="#4d4d4d"/>
<rect x="0" y="4" width="1" height="1" fill="#4d4d4d"/>
<rect x="0" y="5" width="2" height="1" fill="#4d4d4d"/>
<rect x="0" y="6" width="3" height="1" fill="#4d4d4d"/>
<rect x="0" y="12" width="1" height="1" fill="#4d4d4d"/>
<rect x="0" y="11" width="1" height="1" fill="#4d4d4d"/>
<rect x="1" y="11" width="1" height="1" fill="#4d4d4d"/>
<rect x="1" y="10" width="1" height="1" fill="#4d4d4d"/>
<rect x="2" y="10" width="1" height="1" fill="#4d4d4d"/>
<rect x="2" y="9" width="1" height="1" fill="#4d4d4d"/>
<rect x="3" y="9" width="1" height="1" fill="#4d4d4d"/>
<rect x="3" y="8" width="1" height="1" fill="#4d4d4d"/>
<rect x="4" y="8" width="1" height="1" fill="#4d4d4d"/>
<rect x="4" y="7" width="1" height="1" fill="#4d4d4d"/>
<rect x="289" y="0" width="1" height="20" fill="#d0d0d0"/>
<rect x="290" y="0" width="1" height="20" fill="#ffffff"/>
<rect x="7" y="32" width="7" height="1" fill="#000"/>
<rect x="8" y="33" width="5" height="1" fill="#000"/>
<rect x="9" y="34" width="3" height="1" fill="#000"/>
<rect x="10" y="35" width="1" height="1" fill="#000"/>
</svg>
<div class="t" style="left:1586px;top:51px;font-size:9.8px;color:#000;transform:scaleX(0.9203);">0.97960</div>
<div class="t" style="left:1586px;top:84px;font-size:9.8px;color:#000;transform:scaleX(0.9203);">0.97260</div>
<div class="t" style="left:1586px;top:117px;font-size:9.8px;color:#000;transform:scaleX(0.9203);">0.96540</div>
<div class="t" style="left:1586px;top:150px;font-size:9.8px;color:#000;transform:scaleX(0.9203);">0.95840</div>
<div class="t" style="left:1586px;top:183px;font-size:9.8px;color:#000;transform:scaleX(0.9203);">0.95140</div>
<div class="t" style="left:1586px;top:216px;font-size:9.8px;color:#000;transform:scaleX(0.9203);">0.94420</div>
<div class="t" style="left:1586px;top:249px;font-size:9.8px;color:#000;transform:scaleX(0.9203);">0.93720</div>
<div class="t" style="left:1586px;top:282px;font-size:9.8px;color:#000;transform:scaleX(0.9203);">0.93020</div>
<div class="t" style="left:1586px;top:315px;font-size:9.8px;color:#000;transform:scaleX(0.9203);">0.92300</div>
<div class="t" style="left:1586px;top:348px;font-size:9.8px;color:#000;transform:scaleX(0.9203);">0.91600</div>
<div class="t" style="left:1586px;top:381px;font-size:9.8px;color:#000;transform:scaleX(0.9203);">0.90880</div>
<div class="t" style="left:1586px;top:414px;font-size:9.8px;color:#000;transform:scaleX(0.9203);">0.90180</div>
<div class="t" style="left:1586px;top:447px;font-size:9.8px;color:#000;transform:scaleX(0.9203);">0.89480</div>
<div class="t" style="left:1586px;top:480px;font-size:9.8px;color:#000;transform:scaleX(0.9203);">0.88760</div>
<div class="t" style="left:1586px;top:513px;font-size:9.8px;color:#000;transform:scaleX(0.9203);">0.88060</div>
<div class="t" style="left:1586px;top:546px;font-size:9.8px;color:#000;transform:scaleX(0.9203);">0.87360</div>
<div class="tag" style="top:202px;height:11px;background:#ff0000"></div>
<div class="t" style="left:1586px;top:204px;font-size:9.8px;color:#fff;transform:scaleX(0.9203);">0.94651</div>
<div class="tag" style="top:220px;height:11px;background:#ff4500"></div>
<div class="t" style="left:1586px;top:222px;font-size:9.8px;color:#fff;transform:scaleX(0.9203);">0.94294</div>
<div class="tag" style="top:227px;height:11px;background:#000000"></div>
<div class="t" style="left:1586px;top:229px;font-size:9.8px;color:#fff;transform:scaleX(0.9203);">0.94143</div>
<div class="tag" style="top:279px;height:11px;background:#ff0000"></div>
<div class="t" style="left:1586px;top:281px;font-size:9.8px;color:#fff;transform:scaleX(0.9203);">0.93001</div>
<div class="tag" style="top:340px;height:11px;background:#00ff00"></div>
<div class="t" style="left:1586px;top:342px;font-size:9.8px;color:#fff;transform:scaleX(0.9203);">0.91709</div>
<div class="tag" style="top:417px;height:11px;background:#0000ff"></div>
<div class="t" style="left:1586px;top:419px;font-size:9.8px;color:#fff;transform:scaleX(0.9203);">0.90055</div>
<div class="tag" style="top:480px;height:11px;background:#0000ff"></div>
<div class="t" style="left:1586px;top:482px;font-size:9.8px;color:#fff;transform:scaleX(0.9203);">0.88703</div>
<div class="tag" style="top:536px;height:11px;background:#0000ff"></div>
<div class="t" style="left:1586px;top:538px;font-size:9.8px;color:#fff;transform:scaleX(0.9203);">0.87513</div>
<div class="t" style="left:1584px;top:558px;font-size:9.8px;color:#000;transform:scaleX(0.9203);">100</div>
<div class="t" style="left:1583px;top:581px;font-size:9.8px;color:#000;transform:scaleX(0.9203);">70</div>
<div class="t" style="left:1583px;top:618px;font-size:9.8px;color:#000;transform:scaleX(0.9203);">30</div>
<div class="t" style="left:1584px;top:640px;font-size:9.8px;color:#000;transform:scaleX(0.9203);">0</div>
<div class="t" style="left:1584px;top:656px;font-size:9.8px;color:#000;transform:scaleX(0.9203);">0.010933</div>
<div class="t" style="left:1584px;top:700px;font-size:9.8px;color:#000;transform:scaleX(0.9203);">0.00</div>
<div class="t" style="left:1584px;top:738px;font-size:9.8px;color:#000;transform:scaleX(0.9203);">-0.009653</div>
<div class="t" style="left:19.4px;top:30px;font-size:9.8px;color:#000;transform:scaleX(1.0054);">USDCHF,Daily</div>
<div class="t" style="left:90px;top:30px;font-size:9.8px;color:#000;transform:scaleX(0.9146);">0.94088</div>
<div class="t" style="left:126px;top:30px;font-size:9.8px;color:#000;transform:scaleX(0.9146);">0.94204</div>
<div class="t" style="left:162px;top:30px;font-size:9.8px;color:#000;transform:scaleX(0.9146);">0.94037</div>
<div class="t" style="left:198px;top:30px;font-size:9.8px;color:#000;transform:scaleX(0.9146);">0.94143</div>
<div class="t" style="left:8.2px;top:560px;font-size:9.8px;color:#000;transform:scaleX(0.9387);">RSI(14)&nbsp;67.2107</div>
<div class="t" style="left:8.4px;top:658px;font-size:9.8px;color:#000;transform:scaleX(0.9486);">MACD(12,26,9)&nbsp;0.006804&nbsp;0.006826</div>
<div class="t" style="left:3px;top:754px;font-size:9.8px;color:#000;transform:scaleX(0.9450);">31&nbsp;Mar&nbsp;2020</div>
<div class="t" style="left:67px;top:754px;font-size:9.8px;color:#000;transform:scaleX(0.9600);">18&nbsp;Apr&nbsp;2020</div>
<div class="t" style="left:131px;top:754px;font-size:9.8px;color:#000;transform:scaleX(0.9600);">7&nbsp;May&nbsp;2020</div>
<div class="t" style="left:195px;top:754px;font-size:9.8px;color:#000;transform:scaleX(0.9600);">26&nbsp;May&nbsp;2020</div>
<div class="t" style="left:259px;top:754px;font-size:9.8px;color:#000;transform:scaleX(0.9600);">13&nbsp;Jun&nbsp;2020</div>
<div class="t" style="left:323px;top:754px;font-size:9.8px;color:#000;transform:scaleX(0.9600);">2&nbsp;Jul&nbsp;2020</div>
<div class="t" style="left:387px;top:754px;font-size:9.8px;color:#000;transform:scaleX(0.9600);">21&nbsp;Jul&nbsp;2020</div>
<div class="t" style="left:451px;top:754px;font-size:9.8px;color:#000;transform:scaleX(0.9600);">8&nbsp;Aug&nbsp;2020</div>
<div class="t" style="left:515px;top:754px;font-size:9.8px;color:#000;transform:scaleX(0.9600);">27&nbsp;Aug&nbsp;2020</div>
<div class="t" style="left:579px;top:754px;font-size:9.8px;color:#000;transform:scaleX(0.9600);">15&nbsp;Sep&nbsp;2020</div>
<div class="t" style="left:643px;top:754px;font-size:9.8px;color:#000;transform:scaleX(0.9600);">3&nbsp;Oct&nbsp;2020</div>
<div class="t" style="left:707px;top:754px;font-size:9.8px;color:#000;transform:scaleX(0.9600);">22&nbsp;Oct&nbsp;2020</div>
<div class="t" style="left:771px;top:754px;font-size:9.8px;color:#000;transform:scaleX(0.9600);">10&nbsp;Nov&nbsp;2020</div>
<div class="t" style="left:835px;top:754px;font-size:9.8px;color:#000;transform:scaleX(0.9600);">28&nbsp;Nov&nbsp;2020</div>
<div class="t" style="left:899px;top:754px;font-size:9.8px;color:#000;transform:scaleX(0.9600);">17&nbsp;Dec&nbsp;2020</div>
<div class="t" style="left:963px;top:754px;font-size:9.8px;color:#000;transform:scaleX(0.9600);">7&nbsp;Jan&nbsp;2021</div>
<div class="t" style="left:1027px;top:754px;font-size:9.8px;color:#000;transform:scaleX(0.9600);">26&nbsp;Jan&nbsp;2021</div>
<div class="t" style="left:1091px;top:754px;font-size:9.8px;color:#000;transform:scaleX(0.9600);">13&nbsp;Feb&nbsp;2021</div>
<div class="t" style="left:1155px;top:754px;font-size:9.8px;color:#000;transform:scaleX(0.9450);">4&nbsp;Mar&nbsp;2021</div>
<div class="t" style="left:1219px;top:754px;font-size:9.8px;color:#000;transform:scaleX(0.9450);">23&nbsp;Mar&nbsp;2021</div>
<div class="t" style="left:43.5px;top:6px;font-size:9.8px;color:#333;transform:scaleX(0.9182);-webkit-text-stroke:0;">M1</div>
<div class="t" style="left:71.8px;top:6px;font-size:9.8px;color:#333;transform:scaleX(0.9182);-webkit-text-stroke:0;">M5</div>
<div class="t" style="left:97.6px;top:6px;font-size:9.8px;color:#333;transform:scaleX(0.9232);-webkit-text-stroke:0;">M15</div>
<div class="t" style="left:125.8px;top:6px;font-size:9.8px;color:#333;transform:scaleX(0.9180);-webkit-text-stroke:0;">M30</div>
<div class="t" style="left:156.6px;top:6px;font-size:9.8px;color:#333;transform:scaleX(0.9339);-webkit-text-stroke:0;">H1</div>
<div class="t" style="left:183.5px;top:6px;font-size:9.8px;color:#333;transform:scaleX(0.9978);-webkit-text-stroke:0;">H4</div>
<div class="t" style="left:212.7px;top:6px;font-size:9.8px;color:#333;transform:scaleX(0.9260);-webkit-text-stroke:0;">D1</div>
<div class="t" style="left:239.9px;top:6px;font-size:9.8px;color:#333;transform:scaleX(0.9796);-webkit-text-stroke:0;">W1</div>
<div class="t" style="left:266.3px;top:6px;font-size:9.8px;color:#333;transform:scaleX(0.9973);-webkit-text-stroke:0;">MN</div>
<div class="t" style="left:17.8px;top:776px;font-size:12.5px;color:#6d6d6d;transform:scaleX(0.9412);-webkit-text-stroke:0;">EURUSD,Daily</div>
<div class="t" style="left:119.3px;top:776px;font-size:12.5px;color:#000;transform:scaleX(0.9591);-webkit-text-stroke:0;">USDCHF,Daily</div>
<div class="t" style="left:220.2px;top:776px;font-size:12.5px;color:#6d6d6d;transform:scaleX(0.9781);-webkit-text-stroke:0;">AUDUSD,Daily</div>
<div class="t" style="left:324.4px;top:776px;font-size:12.5px;color:#6d6d6d;transform:scaleX(0.9626);-webkit-text-stroke:0;">USDCAD,Daily</div>
<div class="t" style="left:427.5px;top:776px;font-size:12.5px;color:#6d6d6d;transform:scaleX(0.9784);-webkit-text-stroke:0;">USDCNH,Daily</div>
<div class="t" style="left:533.2px;top:776px;font-size:12.5px;color:#6d6d6d;transform:scaleX(0.9448);-webkit-text-stroke:0;">EURUSD,Daily</div>
<div class="t" style="left:637.4px;top:776px;font-size:12.5px;color:#6d6d6d;transform:scaleX(0.9531);-webkit-text-stroke:0;">GBPUSD,Daily</div>
<div class="t" style="left:740.3px;top:776px;font-size:12.5px;color:#6d6d6d;transform:scaleX(0.9644);-webkit-text-stroke:0;">XAUUSD,H4</div>
<div class="t" style="left:833px;top:776px;font-size:12.5px;color:#6d6d6d;transform:scaleX(1.0109);-webkit-text-stroke:0;">HK50,M15</div>
<div class="t" style="left:916px;top:776px;font-size:12.5px;color:#6d6d6d;transform:scaleX(0.9866);-webkit-text-stroke:0;">UK100,H1</div>
<div class="t" style="left:996.9px;top:776px;font-size:12.5px;color:#6d6d6d;transform:scaleX(0.9658);-webkit-text-stroke:0;">UK100,H1</div>
<div class="t" style="left:1076.3px;top:776px;font-size:12.5px;color:#6d6d6d;transform:scaleX(0.9331);-webkit-text-stroke:0;">GER30,H1</div>
<div class="t" style="left:1155.5px;top:776px;font-size:12.5px;color:#6d6d6d;transform:scaleX(0.9305);-webkit-text-stroke:0;">FRA40,H1</div>
<div class="t" style="left:1231.5px;top:776px;font-size:12.5px;color:#6d6d6d;transform:scaleX(0.9675);-webkit-text-stroke:0;">USOil,H1</div>
<div class="t" style="left:1303.3px;top:776px;font-size:12.5px;color:#6d6d6d;transform:scaleX(0.9306);-webkit-text-stroke:0;">USDJPY,H1</div>
<div class="t" style="left:1388px;top:776px;font-size:12.5px;color:#6d6d6d;transform:scaleX(0.9931);-webkit-text-stroke:0;">DJ30,Weekly</div>
<div class="t" style="left:1483.2px;top:776px;font-size:12.5px;color:#6d6d6d;transform:scaleX(0.9886);-webkit-text-stroke:0;">CHINA300,H1</div>
<div class="t" style="left:1583.4px;top:776px;font-size:12.5px;color:#6d6d6d;transform:scaleX(0.7644);-webkit-text-stroke:0;">U</div>
</body></html>
